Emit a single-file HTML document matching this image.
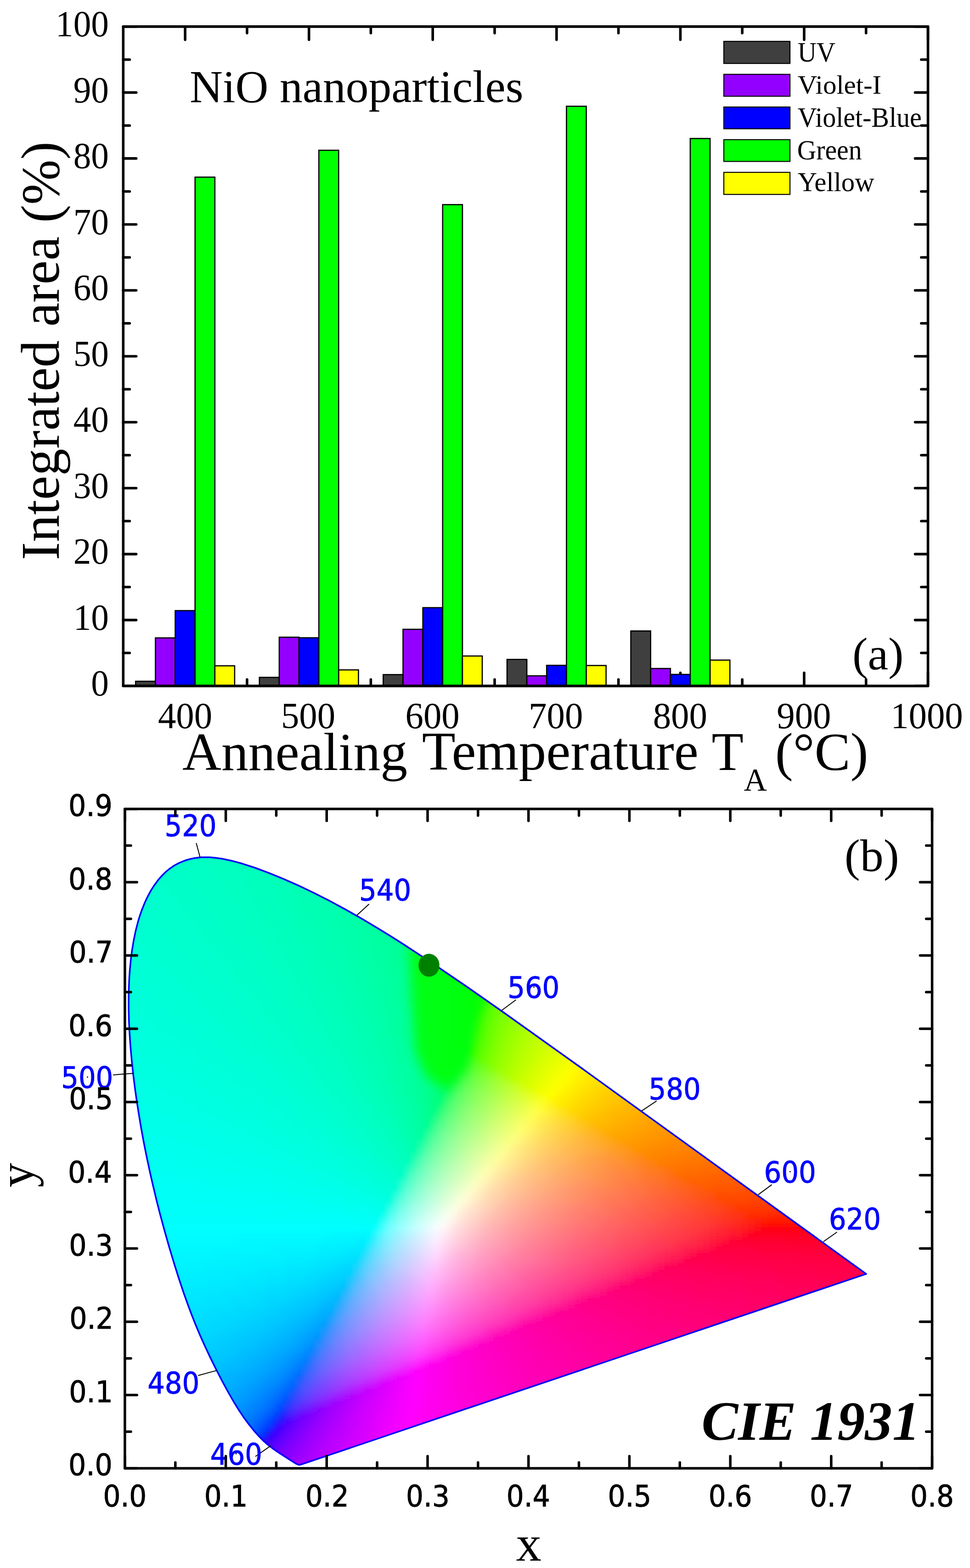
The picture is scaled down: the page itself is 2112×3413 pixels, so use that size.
<!DOCTYPE html>
<html><head><meta charset="utf-8"><title>NiO nanoparticles</title>
<style>html,body{margin:0;padding:0;background:#fff;}svg{display:block;}</style></head>
<body><svg width="2112" height="3413" viewBox="0 0 2112 3413">
<rect width="2112" height="3413" fill="#fff"/>
<path d="M403.1 1493.1V1464.6M403.1 57.9V86.4M672.7 1493.1V1464.6M672.7 57.9V86.4M942.2 1493.1V1464.6M942.2 57.9V86.4M1211.8 1493.1V1464.6M1211.8 57.9V86.4M1481.4 1493.1V1464.6M1481.4 57.9V86.4M1750.9 1493.1V1464.6M1750.9 57.9V86.4M2020.5 1493.1V1464.6M2020.5 57.9V86.4M537.9 1493.1V1479.1M537.9 57.9V71.9M807.4 1493.1V1479.1M807.4 57.9V71.9M1077 1493.1V1479.1M1077 57.9V71.9M1346.6 1493.1V1479.1M1346.6 57.9V71.9M1616.1 1493.1V1479.1M1616.1 57.9V71.9M1885.7 1493.1V1479.1M1885.7 57.9V71.9M268.3 1493.1H296.6M2020.5 1493.1H1992.5M268.3 1349.6H296.6M2020.5 1349.6H1992.5M268.3 1206.1H296.6M2020.5 1206.1H1992.5M268.3 1062.5H296.6M2020.5 1062.5H1992.5M268.3 919H296.6M2020.5 919H1992.5M268.3 775.5H296.6M2020.5 775.5H1992.5M268.3 632H296.6M2020.5 632H1992.5M268.3 488.5H296.6M2020.5 488.5H1992.5M268.3 344.9H296.6M2020.5 344.9H1992.5M268.3 201.4H296.6M2020.5 201.4H1992.5M268.3 57.9H296.6M2020.5 57.9H1992.5M268.3 1421.3H282.3M2020.5 1421.3H2005.9M268.3 1277.8H282.3M2020.5 1277.8H2005.9M268.3 1134.3H282.3M2020.5 1134.3H2005.9M268.3 990.8H282.3M2020.5 990.8H2005.9M268.3 847.3H282.3M2020.5 847.3H2005.9M268.3 703.7H282.3M2020.5 703.7H2005.9M268.3 560.2H282.3M2020.5 560.2H2005.9M268.3 416.7H282.3M2020.5 416.7H2005.9M268.3 273.2H282.3M2020.5 273.2H2005.9M268.3 129.7H282.3M2020.5 129.7H2005.9" stroke="#000" stroke-width="5.6" stroke-linecap="round" fill="none"/>
<rect x="295.3" y="1482.9" width="43.1" height="10.2" fill="#3f3f3f" stroke="#000" stroke-width="2.6"/>
<rect x="338.4" y="1388.5" width="43.1" height="104.6" fill="#9400ff" stroke="#000" stroke-width="2.6"/>
<rect x="381.5" y="1329.1" width="43.1" height="164" fill="#0000ff" stroke="#000" stroke-width="2.6"/>
<rect x="424.7" y="385.6" width="43.1" height="1107.5" fill="#00ff00" stroke="#000" stroke-width="2.6"/>
<rect x="467.8" y="1449.2" width="43.1" height="43.9" fill="#ffff00" stroke="#000" stroke-width="2.6"/>
<rect x="564.8" y="1474.4" width="43.1" height="18.7" fill="#3f3f3f" stroke="#000" stroke-width="2.6"/>
<rect x="608" y="1387" width="43.1" height="106.1" fill="#9400ff" stroke="#000" stroke-width="2.6"/>
<rect x="651.1" y="1388.2" width="43.1" height="104.9" fill="#0000ff" stroke="#000" stroke-width="2.6"/>
<rect x="694.2" y="327.1" width="43.1" height="1166" fill="#00ff00" stroke="#000" stroke-width="2.6"/>
<rect x="737.4" y="1458.1" width="43.1" height="35" fill="#ffff00" stroke="#000" stroke-width="2.6"/>
<rect x="834.4" y="1468.4" width="43.1" height="24.7" fill="#3f3f3f" stroke="#000" stroke-width="2.6"/>
<rect x="877.5" y="1369.8" width="43.1" height="123.3" fill="#9400ff" stroke="#000" stroke-width="2.6"/>
<rect x="920.7" y="1322.7" width="43.1" height="170.4" fill="#0000ff" stroke="#000" stroke-width="2.6"/>
<rect x="963.8" y="445.4" width="43.1" height="1047.7" fill="#00ff00" stroke="#000" stroke-width="2.6"/>
<rect x="1006.9" y="1427.9" width="43.1" height="65.2" fill="#ffff00" stroke="#000" stroke-width="2.6"/>
<rect x="1104" y="1435.3" width="43.1" height="57.8" fill="#3f3f3f" stroke="#000" stroke-width="2.6"/>
<rect x="1147.1" y="1471" width="43.1" height="22.1" fill="#9400ff" stroke="#000" stroke-width="2.6"/>
<rect x="1190.2" y="1448.2" width="43.1" height="44.9" fill="#0000ff" stroke="#000" stroke-width="2.6"/>
<rect x="1233.4" y="231.3" width="43.1" height="1261.8" fill="#00ff00" stroke="#000" stroke-width="2.6"/>
<rect x="1276.5" y="1448.6" width="43.1" height="44.5" fill="#ffff00" stroke="#000" stroke-width="2.6"/>
<rect x="1373.5" y="1373.4" width="43.1" height="119.7" fill="#3f3f3f" stroke="#000" stroke-width="2.6"/>
<rect x="1416.7" y="1455.1" width="43.1" height="38" fill="#9400ff" stroke="#000" stroke-width="2.6"/>
<rect x="1459.8" y="1468" width="43.1" height="25.1" fill="#0000ff" stroke="#000" stroke-width="2.6"/>
<rect x="1502.9" y="301.5" width="43.1" height="1191.6" fill="#00ff00" stroke="#000" stroke-width="2.6"/>
<rect x="1546.1" y="1436.8" width="43.1" height="56.3" fill="#ffff00" stroke="#000" stroke-width="2.6"/>
<rect x="268.3" y="57.9" width="1752.2" height="1435.2" fill="none" stroke="#000" stroke-width="5.6" stroke-linejoin="round"/>
<rect x="1576" y="90" width="144" height="48.1" fill="#3f3f3f" stroke="#000" stroke-width="2.2"/>
<rect x="1576" y="161.8" width="144" height="47.7" fill="#9400ff" stroke="#000" stroke-width="2.2"/>
<rect x="1576" y="232.9" width="144" height="47.4" fill="#0000ff" stroke="#000" stroke-width="2.2"/>
<rect x="1576" y="304" width="144" height="47.4" fill="#00ff00" stroke="#000" stroke-width="2.2"/>
<rect x="1576" y="375.1" width="144" height="48.1" fill="#ffff00" stroke="#000" stroke-width="2.2"/>
<defs><clipPath id="lc"><path d="M654.4 3188 652.5 3188.4 649.7 3188.3 644.5 3185.9 608.9 3163.3 595.5 3154.1 583.1 3144.6 573.8 3136.4 564 3126.6 552.8 3114 541.7 3100.1 531.1 3085.7 519.6 3068.7 509.1 3051.6 497.8 3032 485.6 3009.7 472.5 2984.4 458.3 2955.9 445.9 2929.6 435.7 2906.8 425.4 2882.3 417.7 2862.8 410 2842.4 399.7 2813.6 389.5 2783.1 379.3 2750.8 369.1 2716.9 359 2681.4 349 2644.6 341.7 2616.1 332.4 2577.4 325.7 2547.8 319.3 2517.9 313.3 2487.8 307.7 2457.6 302.6 2427.3 297.8 2397.1 293.6 2367.1 289.9 2337.4 286.8 2308.1 284.2 2279.2 282.2 2250.9 280.8 2223 280.1 2195.8 280.1 2169.2 280.5 2151.8 281.6 2126.4 282.8 2109.9 285.2 2085.8 287.2 2070.3 290.9 2047.8 295.3 2026.4 300.5 2006.2 304.4 1993.3 308.7 1981 315.7 1963.7 320.8 1952.8 329 1937.7 334.9 1928.4 344.1 1915.7 354 1904.5 360.8 1897.9 367.9 1892 378.9 1884.3 390.4 1878.1 402.2 1873.3 414.3 1869.7 422.6 1868 430.9 1866.8 439.4 1866.1 447.9 1865.9 456.5 1866.1 465.2 1866.7 482.7 1869 504.9 1873.7 527.3 1879.8 554.2 1888.5 585.4 1900.1 616.1 1912.7 650.2 1927.7 683.4 1943.5 716 1960 752.3 1979.6 788.3 2000.1 824.2 2021.4 851.9 2038.5 879.5 2056 942.4 2097.2 1016.9 2148 1099.4 2205.7 1274.5 2330.8 1886 2772.9Z"/></clipPath><filter id="bl" filterUnits="userSpaceOnUse" x="200" y="1700" width="1800" height="1550"><feGaussianBlur stdDeviation="7"/></filter><filter id="bl2" filterUnits="userSpaceOnUse" x="800" y="1950" width="400" height="550"><feGaussianBlur stdDeviation="12"/></filter></defs>
<g clip-path="url(#lc)"><g filter="url(#bl)"><path fill="#00ffc4" d="M397 1840h42v14h-42zM383 1854h70v14h-70zM383 1868h70v14h-70zM397 1882h70v14h-70zM411 1896h56v14h-56zM411 1910h70v14h-70zM425 1924h70v14h-70zM439 1938h56v14h-56zM453 1952h56v14h-56zM453 1966h70v14h-70zM467 1980h56v14h-56zM481 1994h56v14h-56zM481 2008h56v14h-56zM495 2022h56v14h-56zM509 2036h56v14h-56zM523 2050h42v14h-42zM523 2064h56v14h-56zM537 2078h56v14h-56zM551 2092h42v14h-42zM565 2106h42v14h-42zM565 2120h56v14h-56zM579 2134h42v14h-42zM593 2148h42v14h-42zM593 2162h42v14h-42zM607 2176h42v14h-42zM621 2190h42v14h-42zM635 2204h28v14h-28zM635 2218h42v14h-42zM649 2232h42v14h-42zM663 2246h28v14h-28zM663 2260h42v14h-42zM677 2274h28v14h-28zM691 2288h28v14h-28zM705 2302h28v14h-28zM705 2316h28v14h-28zM719 2330h28v14h-28zM733 2344h28v14h-28zM733 2358h28v14h-28zM747 2372h28v14h-28zM761 2386h28v14h-28zM775 2400h14v14h-14zM775 2414h28v14h-28zM789 2428h14v14h-14zM803 2442h14v14h-14zM803 2456h28v14h-28zM817 2470h14v14h-14zM831 2484h14v14h-14zM845 2498h14v14h-14zM845 2512h14v14h-14zM859 2526h14v14h-14zM873 2540h14v14h-14zM873 2554h14v14h-14z"/><path fill="#00ffc0" d="M439 1840h56v14h-56zM453 1854h56v14h-56zM453 1868h56v14h-56zM467 1882h56v14h-56zM467 1896h70v14h-70zM481 1910h56v14h-56zM495 1924h56v14h-56zM495 1938h56v14h-56zM509 1952h56v14h-56zM523 1966h42v14h-42zM523 1980h56v14h-56zM537 1994h42v14h-42zM537 2008h56v14h-56zM551 2022h56v14h-56zM565 2036h42v14h-42zM565 2050h56v14h-56zM579 2064h42v14h-42zM593 2078h42v14h-42zM593 2092h42v14h-42zM607 2106h42v14h-42zM621 2120h28v14h-28zM621 2134h42v14h-42zM635 2148h42v14h-42zM635 2162h42v14h-42zM649 2176h42v14h-42zM663 2190h28v14h-28zM663 2204h42v14h-42zM677 2218h28v14h-28zM691 2232h28v14h-28zM691 2246h28v14h-28zM705 2260h28v14h-28zM705 2274h42v14h-42zM719 2288h28v14h-28zM733 2302h28v14h-28zM733 2316h28v14h-28zM747 2330h28v14h-28zM761 2344h14v14h-14zM761 2358h28v14h-28zM775 2372h14v14h-14zM789 2386h14v14h-14zM789 2400h28v14h-28zM803 2414h14v14h-14zM803 2428h28v14h-28zM817 2442h14v14h-14zM831 2456h14v14h-14zM831 2470h14v14h-14zM845 2484h14v14h-14zM859 2498h14v14h-14zM859 2512h14v14h-14zM873 2526h14v14h-14z"/><path fill="#00ffbc" d="M495 1840h14v14h-14zM509 1854h42v14h-42zM509 1868h56v14h-56zM523 1882h56v14h-56zM537 1896h42v14h-42zM537 1910h56v14h-56zM551 1924h42v14h-42zM551 1938h56v14h-56zM565 1952h42v14h-42zM565 1966h56v14h-56zM579 1980h42v14h-42zM579 1994h56v14h-56zM593 2008h42v14h-42zM607 2022h42v14h-42zM607 2036h42v14h-42zM621 2050h42v14h-42zM621 2064h42v14h-42zM635 2078h42v14h-42zM635 2092h42v14h-42zM649 2106h28v14h-28zM649 2120h42v14h-42zM663 2134h28v14h-28zM677 2148h28v14h-28zM677 2162h28v14h-28zM691 2176h28v14h-28zM691 2190h28v14h-28zM705 2204h28v14h-28zM705 2218h28v14h-28zM719 2232h28v14h-28zM719 2246h28v14h-28zM733 2260h28v14h-28zM747 2274h14v14h-14zM747 2288h28v14h-28zM761 2302h14v14h-14zM761 2316h28v14h-28zM775 2330h14v14h-14zM775 2344h28v14h-28zM789 2358h14v14h-14zM789 2372h28v14h-28zM803 2386h14v14h-14zM817 2400h14v14h-14zM817 2414h14v14h-14zM831 2428h14v14h-14zM831 2442h14v14h-14zM845 2456h14v14h-14zM845 2470h14v14h-14zM859 2484h14v14h-14zM873 2512h14v14h-14z"/><path fill="#00ffc8" d="M369 1854h14v14h-14zM355 1868h28v14h-28zM341 1882h56v14h-56zM327 1896h84v14h-84zM341 1910h70v14h-70zM355 1924h70v14h-70zM369 1938h70v14h-70zM383 1952h70v14h-70zM383 1966h70v14h-70zM397 1980h70v14h-70zM411 1994h70v14h-70zM425 2008h56v14h-56zM439 2022h56v14h-56zM439 2036h70v14h-70zM453 2050h70v14h-70zM467 2064h56v14h-56zM481 2078h56v14h-56zM495 2092h56v14h-56zM509 2106h56v14h-56zM509 2120h56v14h-56zM523 2134h56v14h-56zM537 2148h56v14h-56zM551 2162h42v14h-42zM565 2176h42v14h-42zM565 2190h56v14h-56zM579 2204h56v14h-56zM593 2218h42v14h-42zM607 2232h42v14h-42zM621 2246h42v14h-42zM635 2260h28v14h-28zM635 2274h42v14h-42zM649 2288h42v14h-42zM663 2302h42v14h-42zM677 2316h28v14h-28zM691 2330h28v14h-28zM691 2344h42v14h-42zM705 2358h28v14h-28zM719 2372h28v14h-28zM733 2386h28v14h-28zM747 2400h28v14h-28zM761 2414h14v14h-14zM761 2428h28v14h-28zM775 2442h28v14h-28zM789 2456h14v14h-14zM803 2470h14v14h-14zM817 2484h14v14h-14zM817 2498h28v14h-28zM831 2512h14v14h-14zM845 2526h14v14h-14zM859 2540h14v14h-14z"/><path fill="#00ffb8" d="M565 1868h28v14h-28zM579 1882h42v14h-42zM579 1896h42v14h-42zM593 1910h42v14h-42zM593 1924h42v14h-42zM607 1938h42v14h-42zM607 1952h42v14h-42zM621 1966h28v14h-28zM621 1980h42v14h-42zM635 1994h28v14h-28zM635 2008h42v14h-42zM649 2022h28v14h-28zM649 2036h42v14h-42zM663 2050h28v14h-28zM663 2064h28v14h-28zM677 2078h28v14h-28zM677 2092h28v14h-28zM677 2106h42v14h-42zM691 2120h28v14h-28zM691 2134h42v14h-42zM705 2148h28v14h-28zM705 2162h42v14h-42zM719 2176h28v14h-28zM719 2190h28v14h-28zM733 2204h28v14h-28zM733 2218h28v14h-28zM747 2232h28v14h-28zM747 2246h28v14h-28zM761 2260h28v14h-28zM761 2274h28v14h-28zM775 2288h14v14h-14zM775 2302h28v14h-28zM789 2316h14v14h-14zM789 2330h28v14h-28zM803 2344h14v14h-14zM803 2358h28v14h-28zM817 2372h14v14h-14zM817 2386h14v14h-14zM831 2400h14v14h-14zM831 2414h14v14h-14zM845 2428h14v14h-14zM845 2442h14v14h-14zM859 2456h14v14h-14zM859 2470h14v14h-14zM873 2484h14v14h-14zM873 2498h14v14h-14zM887 2526h14v14h-14z"/><path fill="#00ffb4" d="M621 1896h42v14h-42zM635 1910h42v14h-42zM635 1924h42v14h-42zM649 1938h28v14h-28zM649 1952h42v14h-42zM649 1966h42v14h-42zM663 1980h28v14h-28zM663 1994h42v14h-42zM677 2008h28v14h-28zM677 2022h42v14h-42zM691 2036h28v14h-28zM691 2050h28v14h-28zM691 2064h42v14h-42zM705 2078h28v14h-28zM705 2092h28v14h-28zM719 2106h28v14h-28zM719 2120h28v14h-28zM733 2134h28v14h-28zM733 2148h28v14h-28zM747 2162h14v14h-14zM747 2176h28v14h-28zM747 2190h28v14h-28zM761 2204h28v14h-28zM761 2218h28v14h-28zM775 2232h14v14h-14zM775 2246h28v14h-28zM789 2260h14v14h-14zM789 2274h14v14h-14zM789 2288h28v14h-28zM803 2302h14v14h-14zM803 2316h28v14h-28zM817 2330h14v14h-14zM817 2344h14v14h-14zM831 2358h14v14h-14zM831 2372h14v14h-14zM831 2386h28v14h-28zM845 2400h14v14h-14zM845 2414h14v14h-14zM859 2428h14v14h-14zM859 2442h14v14h-14zM873 2470h14v14h-14zM887 2498h14v14h-14zM887 2512h14v14h-14z"/><path fill="#00ffcc" d="M313 1910h28v14h-28zM299 1924h56v14h-56zM299 1938h70v14h-70zM299 1952h84v14h-84zM313 1966h70v14h-70zM327 1980h70v14h-70zM341 1994h70v14h-70zM341 2008h84v14h-84zM355 2022h84v14h-84zM369 2036h70v14h-70zM383 2050h70v14h-70zM397 2064h70v14h-70zM411 2078h70v14h-70zM425 2092h70v14h-70zM439 2106h70v14h-70zM453 2120h56v14h-56zM467 2134h56v14h-56zM481 2148h56v14h-56zM495 2162h56v14h-56zM509 2176h56v14h-56zM523 2190h42v14h-42zM537 2204h42v14h-42zM537 2218h56v14h-56zM551 2232h56v14h-56zM565 2246h56v14h-56zM579 2260h56v14h-56zM593 2274h42v14h-42zM607 2288h42v14h-42zM621 2302h42v14h-42zM635 2316h42v14h-42zM649 2330h42v14h-42zM663 2344h28v14h-28zM677 2358h28v14h-28zM691 2372h28v14h-28zM705 2386h28v14h-28zM719 2400h28v14h-28zM719 2414h42v14h-42zM733 2428h28v14h-28zM747 2442h28v14h-28zM761 2456h28v14h-28zM775 2470h28v14h-28zM789 2484h28v14h-28zM803 2498h14v14h-14zM817 2512h14v14h-14zM831 2526h14v14h-14zM845 2540h14v14h-14zM859 2554h14v14h-14z"/><path fill="#00ffb0" d="M677 1910h14v14h-14zM677 1924h28v14h-28zM677 1938h42v14h-42zM691 1952h28v14h-28zM691 1966h28v14h-28zM691 1980h42v14h-42zM705 1994h28v14h-28zM705 2008h28v14h-28zM719 2022h28v14h-28zM719 2036h28v14h-28zM719 2050h28v14h-28zM733 2064h28v14h-28zM733 2078h28v14h-28zM733 2092h28v14h-28zM747 2106h28v14h-28zM747 2120h28v14h-28zM761 2134h14v14h-14zM761 2148h28v14h-28zM761 2162h28v14h-28zM775 2176h14v14h-14zM775 2190h28v14h-28zM789 2204h14v14h-14zM789 2218h14v14h-14zM789 2232h28v14h-28zM803 2246h14v14h-14zM803 2260h14v14h-14zM803 2274h28v14h-28zM817 2288h14v14h-14zM817 2302h14v14h-14zM831 2316h14v14h-14zM831 2330h14v14h-14zM831 2344h14v14h-14zM845 2358h14v14h-14zM845 2372h14v14h-14zM859 2400h14v14h-14zM859 2414h14v14h-14zM873 2442h14v14h-14zM873 2456h14v14h-14zM887 2484h14v14h-14z"/><path fill="#00ffac" d="M705 1924h14v14h-14zM719 1938h28v14h-28zM719 1952h28v14h-28zM719 1966h28v14h-28zM733 1980h28v14h-28zM733 1994h28v14h-28zM733 2008h28v14h-28zM747 2022h28v14h-28zM747 2036h28v14h-28zM747 2050h28v14h-28zM761 2064h14v14h-14zM761 2078h28v14h-28zM761 2092h28v14h-28zM775 2106h14v14h-14zM775 2120h28v14h-28zM775 2134h28v14h-28zM789 2148h14v14h-14zM789 2162h28v14h-28zM789 2176h28v14h-28zM803 2190h14v14h-14zM803 2204h14v14h-14zM803 2218h28v14h-28zM817 2232h14v14h-14zM817 2246h14v14h-14zM817 2260h28v14h-28zM831 2274h14v14h-14zM831 2288h14v14h-14zM831 2302h28v14h-28zM845 2316h14v14h-14zM845 2330h14v14h-14zM845 2344h14v14h-14zM859 2358h14v14h-14zM859 2372h14v14h-14zM859 2386h14v14h-14zM873 2400h14v14h-14zM873 2414h14v14h-14zM873 2428h14v14h-14zM887 2456h14v14h-14zM887 2470h14v14h-14zM901 2498h14v14h-14z"/><path fill="#00ffd0" d="M285 1952h14v14h-14zM285 1966h28v14h-28zM271 1980h56v14h-56zM271 1994h70v14h-70zM271 2008h70v14h-70zM271 2022h84v14h-84zM285 2036h84v14h-84zM299 2050h84v14h-84zM313 2064h84v14h-84zM327 2078h84v14h-84zM341 2092h84v14h-84zM369 2106h70v14h-70zM383 2120h70v14h-70zM397 2134h70v14h-70zM411 2148h70v14h-70zM425 2162h70v14h-70zM439 2176h70v14h-70zM453 2190h70v14h-70zM467 2204h70v14h-70zM481 2218h56v14h-56zM495 2232h56v14h-56zM509 2246h56v14h-56zM523 2260h56v14h-56zM537 2274h56v14h-56zM551 2288h56v14h-56zM579 2302h42v14h-42zM593 2316h42v14h-42zM607 2330h42v14h-42zM621 2344h42v14h-42zM635 2358h42v14h-42zM649 2372h42v14h-42zM663 2386h42v14h-42zM677 2400h42v14h-42zM691 2414h28v14h-28zM705 2428h28v14h-28zM719 2442h28v14h-28zM733 2456h28v14h-28zM747 2470h28v14h-28zM761 2484h28v14h-28zM775 2498h28v14h-28zM803 2512h14v14h-14zM817 2526h14v14h-14zM831 2540h14v14h-14zM845 2554h14v14h-14zM859 2568h14v14h-14z"/><path fill="#00ffa8" d="M747 1952h14v14h-14zM747 1966h28v14h-28zM761 1980h28v14h-28zM761 1994h28v14h-28zM761 2008h28v14h-28zM775 2022h14v14h-14zM775 2036h28v14h-28zM775 2050h28v14h-28zM775 2064h28v14h-28zM789 2078h14v14h-14zM789 2092h28v14h-28zM789 2106h28v14h-28zM803 2120h14v14h-14zM803 2134h14v14h-14zM803 2148h28v14h-28zM817 2162h14v14h-14zM817 2176h14v14h-14zM817 2190h14v14h-14zM817 2204h28v14h-28zM831 2218h14v14h-14zM831 2232h14v14h-14zM831 2246h14v14h-14zM845 2260h14v14h-14zM845 2274h14v14h-14zM845 2288h14v14h-14zM859 2316h14v14h-14zM859 2330h14v14h-14zM859 2344h14v14h-14zM873 2358h14v14h-14zM873 2372h14v14h-14zM873 2386h14v14h-14zM887 2414h14v14h-14zM887 2428h14v14h-14zM887 2442h14v14h-14zM901 2470h14v14h-14zM901 2484h14v14h-14z"/><path fill="#00ffa4" d="M775 1966h14v14h-14zM789 1980h14v14h-14zM789 1994h14v14h-14zM789 2008h28v14h-28zM789 2022h28v14h-28zM803 2036h14v14h-14zM803 2050h14v14h-14zM803 2064h28v14h-28zM803 2078h28v14h-28zM817 2092h14v14h-14zM817 2106h14v14h-14zM817 2120h14v14h-14zM817 2134h28v14h-28zM831 2148h14v14h-14zM831 2162h14v14h-14zM831 2176h14v14h-14zM831 2190h28v14h-28zM845 2204h14v14h-14zM845 2218h14v14h-14zM845 2232h14v14h-14zM845 2246h14v14h-14zM859 2260h14v14h-14zM859 2274h14v14h-14zM859 2288h14v14h-14zM859 2302h14v14h-14zM873 2316h14v14h-14zM873 2330h14v14h-14zM873 2344h14v14h-14zM887 2386h14v14h-14zM887 2400h14v14h-14zM901 2442h14v14h-14zM901 2456h14v14h-14z"/><path fill="#00ffa0" d="M803 1980h14v14h-14zM803 1994h28v14h-28zM817 2008h14v14h-14zM817 2022h14v14h-14zM817 2036h28v14h-28zM817 2050h28v14h-28zM831 2064h14v14h-14zM831 2078h14v14h-14zM831 2092h14v14h-14zM831 2106h14v14h-14zM831 2120h28v14h-28zM845 2134h14v14h-14zM845 2148h14v14h-14zM845 2162h14v14h-14zM845 2176h14v14h-14zM859 2190h14v14h-14zM859 2204h14v14h-14zM859 2218h14v14h-14zM859 2232h14v14h-14zM859 2246h14v14h-14zM873 2260h14v14h-14zM873 2274h14v14h-14zM873 2288h14v14h-14zM873 2302h14v14h-14zM887 2330h14v14h-14zM887 2344h14v14h-14zM887 2358h14v14h-14zM887 2372h14v14h-14zM901 2400h14v14h-14zM901 2414h14v14h-14zM901 2428h14v14h-14z"/><path fill="#00ff9c" d="M831 2008h14v14h-14zM831 2022h28v14h-28zM845 2036h14v14h-14zM845 2050h14v14h-14zM845 2064h14v14h-14zM845 2078h14v14h-14zM845 2092h14v14h-14zM845 2106h28v14h-28zM859 2120h14v14h-14zM859 2134h14v14h-14zM859 2148h14v14h-14zM859 2162h14v14h-14zM859 2176h14v14h-14zM873 2190h14v14h-14zM873 2204h14v14h-14zM873 2218h14v14h-14zM873 2232h14v14h-14zM873 2246h14v14h-14zM887 2274h14v14h-14zM887 2288h14v14h-14zM887 2302h14v14h-14zM887 2316h14v14h-14zM901 2358h14v14h-14zM901 2372h14v14h-14zM901 2386h14v14h-14zM915 2442h14v14h-14zM915 2456h14v14h-14zM915 2470h14v14h-14z"/><path fill="#00ff98" d="M845 2008h14v14h-14zM859 2022h14v14h-14zM859 2036h14v14h-14zM859 2050h14v14h-14zM859 2064h14v14h-14zM859 2078h14v14h-14zM859 2092h28v14h-28zM873 2106h14v14h-14zM873 2120h14v14h-14zM873 2134h14v14h-14zM873 2148h14v14h-14zM873 2162h14v14h-14zM873 2176h14v14h-14zM887 2204h14v14h-14zM887 2218h14v14h-14zM887 2232h14v14h-14zM887 2246h14v14h-14zM887 2260h14v14h-14zM901 2302h14v14h-14zM901 2316h14v14h-14zM901 2330h14v14h-14zM901 2344h14v14h-14zM915 2400h14v14h-14zM915 2414h14v14h-14zM915 2428h14v14h-14z"/><path fill="#00ff94" d="M873 2022h14v14h-14zM873 2036h14v14h-14zM873 2050h14v14h-14zM873 2064h14v14h-14zM873 2078h14v14h-14zM887 2092h14v14h-14zM887 2106h14v14h-14zM887 2120h14v14h-14zM887 2134h14v14h-14zM887 2148h14v14h-14zM887 2162h14v14h-14zM887 2176h14v14h-14zM887 2190h14v14h-14zM901 2218h14v14h-14zM901 2232h14v14h-14zM901 2246h14v14h-14zM901 2260h14v14h-14zM901 2274h14v14h-14zM901 2288h14v14h-14zM915 2344h14v14h-14zM915 2358h14v14h-14zM915 2372h14v14h-14zM915 2386h14v14h-14z"/><path fill="#00ffd4" d="M257 2036h28v14h-28zM257 2050h42v14h-42zM257 2064h56v14h-56zM257 2078h70v14h-70zM257 2092h84v14h-84zM271 2106h98v14h-98zM285 2120h98v14h-98zM313 2134h84v14h-84zM327 2148h84v14h-84zM341 2162h84v14h-84zM355 2176h84v14h-84zM369 2190h84v14h-84zM397 2204h70v14h-70zM411 2218h70v14h-70zM425 2232h70v14h-70zM439 2246h70v14h-70zM467 2260h56v14h-56zM481 2274h56v14h-56zM495 2288h56v14h-56zM509 2302h70v14h-70zM537 2316h56v14h-56zM551 2330h56v14h-56zM565 2344h56v14h-56zM579 2358h56v14h-56zM593 2372h56v14h-56zM621 2386h42v14h-42zM635 2400h42v14h-42zM649 2414h42v14h-42zM663 2428h42v14h-42zM691 2442h28v14h-28zM705 2456h28v14h-28zM719 2470h28v14h-28zM733 2484h28v14h-28zM761 2498h14v14h-14zM775 2512h28v14h-28zM789 2526h28v14h-28zM803 2540h28v14h-28zM817 2554h28v14h-28zM845 2568h14v14h-14zM859 2582h14v14h-14z"/><path fill="#00ff90" d="M887 2036h14v14h-14zM887 2050h14v14h-14zM887 2064h14v14h-14zM887 2078h14v14h-14zM901 2106h14v14h-14zM901 2120h14v14h-14zM901 2134h14v14h-14zM901 2148h14v14h-14zM901 2162h14v14h-14zM901 2176h14v14h-14zM901 2190h14v14h-14zM901 2204h14v14h-14zM915 2260h14v14h-14zM915 2274h14v14h-14zM915 2288h14v14h-14zM915 2302h14v14h-14zM915 2316h14v14h-14zM915 2330h14v14h-14zM929 2414h14v14h-14zM929 2428h14v14h-14zM929 2442h14v14h-14z"/><path fill="#00ff8c" d="M901 2050h14v14h-14zM901 2064h14v14h-14zM901 2078h14v14h-14zM901 2092h14v14h-14zM915 2148h14v14h-14zM915 2162h14v14h-14zM915 2176h14v14h-14zM915 2190h14v14h-14zM915 2204h14v14h-14zM915 2218h14v14h-14zM915 2232h14v14h-14zM915 2246h14v14h-14zM929 2344h14v14h-14zM929 2358h14v14h-14zM929 2372h14v14h-14zM929 2386h14v14h-14zM929 2400h14v14h-14z"/><path fill="#00ff88" d="M915 2050h14v14h-14zM915 2064h14v14h-14zM915 2078h14v14h-14zM915 2092h14v14h-14zM915 2106h14v14h-14zM915 2120h14v14h-14zM915 2134h14v14h-14zM929 2232h14v14h-14zM929 2246h14v14h-14zM929 2260h14v14h-14zM929 2274h14v14h-14zM929 2288h14v14h-14zM929 2302h14v14h-14zM929 2316h14v14h-14zM929 2330h14v14h-14z"/><path fill="#00ff84" d="M929 2064h14v14h-14zM929 2078h14v14h-14zM929 2092h14v14h-14zM929 2106h14v14h-14zM929 2120h14v14h-14zM929 2134h14v14h-14zM929 2148h14v14h-14zM929 2162h14v14h-14zM929 2176h14v14h-14zM929 2190h14v14h-14zM929 2204h14v14h-14zM929 2218h14v14h-14zM943 2414h14v14h-14z"/><path fill="#00ff7c" d="M943 2078h14v14h-14zM943 2092h14v14h-14zM943 2106h14v14h-14zM943 2120h14v14h-14zM943 2134h14v14h-14zM943 2148h14v14h-14zM943 2162h14v14h-14zM943 2176h14v14h-14z"/><path fill="#00ff78" d="M957 2078h14v14h-14zM957 2092h14v14h-14zM957 2106h14v14h-14zM957 2120h14v14h-14zM957 2134h14v14h-14zM957 2148h14v14h-14z"/><path fill="#00ff70" d="M971 2092h14v14h-14zM971 2106h14v14h-14z"/><path fill="#00ffd8" d="M257 2106h14v14h-14zM257 2120h28v14h-28zM257 2134h56v14h-56zM257 2148h70v14h-70zM257 2162h84v14h-84zM257 2176h98v14h-98zM285 2190h84v14h-84zM299 2204h98v14h-98zM327 2218h84v14h-84zM341 2232h84v14h-84zM355 2246h84v14h-84zM383 2260h84v14h-84zM397 2274h84v14h-84zM425 2288h70v14h-70zM439 2302h70v14h-70zM467 2316h70v14h-70zM481 2330h70v14h-70zM495 2344h70v14h-70zM523 2358h56v14h-56zM537 2372h56v14h-56zM565 2386h56v14h-56zM579 2400h56v14h-56zM607 2414h42v14h-42zM621 2428h42v14h-42zM635 2442h56v14h-56zM663 2456h42v14h-42zM677 2470h42v14h-42zM705 2484h28v14h-28zM719 2498h42v14h-42zM747 2512h28v14h-28zM761 2526h28v14h-28zM775 2540h28v14h-28zM803 2554h14v14h-14zM817 2568h28v14h-28zM845 2582h14v14h-14z"/><path fill="#00ff64" d="M985 2106h14v14h-14zM985 2120h14v14h-14zM985 2134h14v14h-14zM985 2148h14v14h-14zM971 2330h14v14h-14zM971 2344h14v14h-14zM971 2358h14v14h-14z"/><path fill="#00ff58" d="M999 2106h14v14h-14zM999 2120h14v14h-14zM999 2134h14v14h-14zM985 2274h14v14h-14zM985 2288h14v14h-14z"/><path fill="#00ff6c" d="M971 2120h14v14h-14zM971 2134h14v14h-14zM971 2148h14v14h-14zM971 2162h14v14h-14zM971 2176h14v14h-14zM971 2190h14v14h-14zM971 2204h14v14h-14zM971 2218h14v14h-14zM971 2232h14v14h-14zM971 2246h14v14h-14z"/><path fill="#00ff48" d="M1013 2120h14v14h-14zM1013 2134h14v14h-14zM999 2246h14v14h-14z"/><path fill="#00ff2c" d="M1027 2134h14v14h-14zM1013 2232h14v14h-14z"/><path fill="#00ff54" d="M999 2148h14v14h-14zM999 2162h14v14h-14zM999 2176h14v14h-14zM985 2302h14v14h-14zM985 2316h14v14h-14z"/><path fill="#00ff44" d="M1013 2148h14v14h-14zM999 2260h14v14h-14z"/><path fill="#00ff28" d="M1027 2148h14v14h-14z"/><path fill="#28ff00" d="M1041 2148h14v14h-14zM1027 2232h14v14h-14z"/><path fill="#44ff00" d="M1055 2148h14v14h-14zM1041 2218h14v14h-14zM1027 2288h14v14h-14z"/><path fill="#00ff74" d="M957 2162h14v14h-14zM957 2176h14v14h-14zM957 2190h14v14h-14zM957 2204h14v14h-14zM957 2218h14v14h-14zM957 2232h14v14h-14zM957 2246h14v14h-14zM957 2260h14v14h-14zM957 2274h14v14h-14zM957 2288h14v14h-14zM957 2302h14v14h-14zM957 2316h14v14h-14zM957 2330h14v14h-14zM957 2344h14v14h-14zM957 2358h14v14h-14zM957 2372h14v14h-14zM957 2386h14v14h-14z"/><path fill="#00ff60" d="M985 2162h14v14h-14zM985 2176h14v14h-14zM985 2190h14v14h-14zM985 2204h14v14h-14zM985 2218h14v14h-14z"/><path fill="#00ff40" d="M1013 2162h14v14h-14zM1013 2176h14v14h-14zM999 2274h14v14h-14zM999 2288h14v14h-14z"/><path fill="#00ff20" d="M1027 2162h14v14h-14z"/><path fill="#2cff00" d="M1041 2162h14v14h-14z"/><path fill="#48ff00" d="M1055 2162h14v14h-14z"/><path fill="#5cff00" d="M1069 2162h14v14h-14zM1055 2218h14v14h-14z"/><path fill="#00ff18" d="M1027 2176h14v14h-14z"/><path fill="#34ff00" d="M1041 2176h14v14h-14z"/><path fill="#50ff00" d="M1055 2176h14v14h-14zM1041 2246h14v14h-14z"/><path fill="#60ff00" d="M1069 2176h14v14h-14zM1055 2232h14v14h-14zM1041 2288h14v14h-14z"/><path fill="#70ff00" d="M1083 2176h14v14h-14zM1069 2232h14v14h-14z"/><path fill="#7cff00" d="M1097 2176h14v14h-14zM1083 2218h14v14h-14zM1069 2274h14v14h-14z"/><path fill="#00ffdc" d="M257 2190h28v14h-28zM257 2204h42v14h-42zM257 2218h70v14h-70zM257 2232h84v14h-84zM257 2246h98v14h-98zM285 2260h98v14h-98zM299 2274h98v14h-98zM327 2288h98v14h-98zM355 2302h84v14h-84zM369 2316h98v14h-98zM397 2330h84v14h-84zM425 2344h70v14h-70zM439 2358h84v14h-84zM467 2372h70v14h-70zM495 2386h70v14h-70zM509 2400h70v14h-70zM537 2414h70v14h-70zM565 2428h56v14h-56zM579 2442h56v14h-56zM607 2456h56v14h-56zM635 2470h42v14h-42zM663 2484h42v14h-42zM677 2498h42v14h-42zM705 2512h42v14h-42zM733 2526h28v14h-28zM747 2540h28v14h-28zM775 2554h28v14h-28zM803 2568h14v14h-14zM817 2582h28v14h-28zM845 2596h14v14h-14z"/><path fill="#00ff80" d="M943 2190h14v14h-14zM943 2204h14v14h-14zM943 2218h14v14h-14zM943 2232h14v14h-14zM943 2246h14v14h-14zM943 2260h14v14h-14zM943 2274h14v14h-14zM943 2288h14v14h-14zM943 2302h14v14h-14zM943 2316h14v14h-14zM943 2330h14v14h-14zM943 2344h14v14h-14zM943 2358h14v14h-14zM943 2372h14v14h-14zM943 2386h14v14h-14zM943 2400h14v14h-14z"/><path fill="#00ff50" d="M999 2190h14v14h-14zM999 2204h14v14h-14zM985 2330h14v14h-14z"/><path fill="#00ff3c" d="M1013 2190h14v14h-14z"/><path fill="#00ff04" d="M1027 2190h14v14h-14z"/><path fill="#38ff00" d="M1041 2190h14v14h-14zM1027 2260h14v14h-14z"/><path fill="#54ff00" d="M1055 2190h14v14h-14zM1041 2260h14v14h-14z"/><path fill="#64ff00" d="M1069 2190h14v14h-14zM1055 2246h14v14h-14zM1041 2302h14v14h-14z"/><path fill="#74ff00" d="M1083 2190h14v14h-14zM1069 2246h14v14h-14zM1055 2288h14v14h-14z"/><path fill="#80ff00" d="M1097 2190h14v14h-14zM1083 2232h14v14h-14z"/><path fill="#8cff00" d="M1111 2190h14v14h-14zM1097 2232h14v14h-14zM1083 2274h14v14h-14zM1069 2316h14v14h-14z"/><path fill="#00ff38" d="M1013 2204h14v14h-14zM999 2302h14v14h-14z"/><path fill="#10ff00" d="M1027 2204h14v14h-14zM1013 2288h14v14h-14z"/><path fill="#40ff00" d="M1041 2204h14v14h-14zM1027 2274h14v14h-14z"/><path fill="#58ff00" d="M1055 2204h14v14h-14zM1041 2274h14v14h-14z"/><path fill="#68ff00" d="M1069 2204h14v14h-14zM1055 2260h14v14h-14z"/><path fill="#78ff00" d="M1083 2204h14v14h-14zM1069 2260h14v14h-14zM1055 2302h14v14h-14z"/><path fill="#84ff00" d="M1097 2204h14v14h-14zM1083 2246h14v14h-14zM1069 2288h14v14h-14z"/><path fill="#90ff00" d="M1111 2204h14v14h-14zM1097 2246h14v14h-14zM1083 2288h14v14h-14z"/><path fill="#98ff00" d="M1125 2204h14v14h-14zM1111 2232h14v14h-14zM1097 2274h14v14h-14zM1083 2316h14v14h-14z"/><path fill="#a4ff00" d="M1139 2204h14v14h-14zM1125 2246h14v14h-14zM1111 2274h14v14h-14zM1097 2316h14v14h-14z"/><path fill="#00ff4c" d="M999 2218h14v14h-14zM999 2232h14v14h-14z"/><path fill="#00ff34" d="M1013 2218h14v14h-14z"/><path fill="#20ff00" d="M1027 2218h14v14h-14z"/><path fill="#6cff00" d="M1069 2218h14v14h-14zM1055 2274h14v14h-14z"/><path fill="#88ff00" d="M1097 2218h14v14h-14zM1083 2260h14v14h-14zM1069 2302h14v14h-14z"/><path fill="#94ff00" d="M1111 2218h14v14h-14zM1097 2260h14v14h-14zM1083 2302h14v14h-14z"/><path fill="#9cff00" d="M1125 2218h14v14h-14zM1111 2246h14v14h-14zM1097 2288h14v14h-14z"/><path fill="#a8ff00" d="M1139 2218h14v14h-14zM1125 2260h14v14h-14zM1111 2288h14v14h-14z"/><path fill="#b0ff00" d="M1153 2218h14v14h-14zM1139 2246h14v14h-14zM1111 2316h14v14h-14z"/><path fill="#00ff5c" d="M985 2232h14v14h-14zM985 2246h14v14h-14zM985 2260h14v14h-14z"/><path fill="#4cff00" d="M1041 2232h14v14h-14z"/><path fill="#a0ff00" d="M1125 2232h14v14h-14zM1111 2260h14v14h-14zM1097 2302h14v14h-14z"/><path fill="#acff00" d="M1139 2232h14v14h-14zM1125 2274h14v14h-14zM1111 2302h14v14h-14zM1097 2330h14v14h-14z"/><path fill="#b4ff00" d="M1153 2232h14v14h-14zM1139 2260h14v14h-14zM1125 2288h14v14h-14z"/><path fill="#bcff00" d="M1167 2232h14v14h-14zM1153 2260h14v14h-14zM1139 2288h14v14h-14zM1125 2316h14v14h-14zM1111 2344h14v14h-14z"/><path fill="#00ff24" d="M1013 2246h14v14h-14z"/><path fill="#30ff00" d="M1027 2246h14v14h-14z"/><path fill="#b8ff00" d="M1153 2246h14v14h-14zM1139 2274h14v14h-14zM1125 2302h14v14h-14zM1111 2330h14v14h-14z"/><path fill="#c0ff00" d="M1167 2246h14v14h-14zM1153 2274h14v14h-14zM1139 2302h14v14h-14zM1125 2330h14v14h-14z"/><path fill="#c8ff00" d="M1181 2246h14v14h-14zM1167 2274h14v14h-14zM1153 2302h14v14h-14zM1125 2344h14v14h-14z"/><path fill="#d0ff00" d="M1195 2246h14v14h-14zM1181 2274h14v14h-14zM1167 2302h14v14h-14zM1153 2316h14v14h-14zM1139 2344h14v14h-14z"/><path fill="#00ffe0" d="M257 2260h28v14h-28zM257 2274h42v14h-42zM257 2288h70v14h-70zM257 2302h98v14h-98zM271 2316h98v14h-98zM299 2330h98v14h-98zM327 2344h98v14h-98zM341 2358h98v14h-98zM369 2372h98v14h-98zM397 2386h98v14h-98zM425 2400h84v14h-84zM453 2414h84v14h-84zM481 2428h84v14h-84zM509 2442h70v14h-70zM537 2456h70v14h-70zM565 2470h70v14h-70zM593 2484h70v14h-70zM621 2498h56v14h-56zM649 2512h56v14h-56zM677 2526h56v14h-56zM705 2540h42v14h-42zM733 2554h42v14h-42zM761 2568h42v14h-42zM789 2582h28v14h-28zM817 2596h28v14h-28zM845 2610h14v14h-14z"/><path fill="#00ff68" d="M971 2260h14v14h-14zM971 2274h14v14h-14zM971 2288h14v14h-14zM971 2302h14v14h-14zM971 2316h14v14h-14z"/><path fill="#00ff1c" d="M1013 2260h14v14h-14z"/><path fill="#c4ff00" d="M1167 2260h14v14h-14zM1153 2288h14v14h-14zM1139 2316h14v14h-14z"/><path fill="#ccff00" d="M1181 2260h14v14h-14zM1167 2288h14v14h-14zM1139 2330h14v14h-14z"/><path fill="#d4ff00" d="M1195 2260h14v14h-14zM1181 2288h14v14h-14zM1153 2330h14v14h-14zM1139 2358h14v14h-14z"/><path fill="#dcff00" d="M1209 2260h14v14h-14zM1195 2288h14v14h-14zM1181 2302h14v14h-14zM1167 2330h14v14h-14z"/><path fill="#00ff0c" d="M1013 2274h14v14h-14z"/><path fill="#d8ff00" d="M1195 2274h14v14h-14zM1167 2316h14v14h-14zM1153 2344h14v14h-14z"/><path fill="#e0ff00" d="M1209 2274h14v14h-14zM1195 2302h14v14h-14zM1181 2316h14v14h-14zM1167 2344h14v14h-14zM1153 2358h14v14h-14z"/><path fill="#e8ff00" d="M1223 2274h14v14h-14zM1209 2302h14v14h-14zM1195 2316h14v14h-14zM1167 2358h14v14h-14z"/><path fill="#ecff00" d="M1237 2274h14v14h-14zM1223 2288h14v14h-14zM1195 2330h14v14h-14zM1181 2344h14v14h-14z"/><path fill="#e4ff00" d="M1209 2288h14v14h-14zM1181 2330h14v14h-14z"/><path fill="#f0ff00" d="M1237 2288h14v14h-14zM1223 2302h14v14h-14zM1209 2316h14v14h-14zM1181 2358h14v14h-14zM1167 2372h14v14h-14z"/><path fill="#f8ff00" d="M1251 2288h14v14h-14zM1237 2302h14v14h-14zM1209 2344h14v14h-14zM1195 2358h14v14h-14zM1181 2372h14v14h-14z"/><path fill="#30ff20" d="M1013 2302h14v14h-14z"/><path fill="#50ff14" d="M1027 2302h14v14h-14z"/><path fill="#fcff00" d="M1251 2302h14v14h-14zM1237 2316h14v14h-14zM1223 2330h14v14h-14z"/><path fill="#fffc00" d="M1265 2302h14v14h-14zM1251 2316h14v14h-14zM1237 2330h14v14h-14zM1223 2344h14v14h-14z"/><path fill="#00ffe4" d="M257 2316h14v14h-14zM257 2330h42v14h-42zM257 2344h70v14h-70zM271 2358h70v14h-70zM271 2372h98v14h-98zM285 2386h112v14h-112zM327 2400h98v14h-98zM355 2414h98v14h-98zM383 2428h98v14h-98zM425 2442h84v14h-84zM453 2456h84v14h-84zM495 2470h70v14h-70zM523 2484h70v14h-70zM551 2498h70v14h-70zM593 2512h56v14h-56zM621 2526h56v14h-56zM663 2540h42v14h-42zM691 2554h42v14h-42zM733 2568h28v14h-28zM761 2582h28v14h-28zM789 2596h28v14h-28zM831 2610h14v14h-14z"/><path fill="#10ff38" d="M999 2316h14v14h-14z"/><path fill="#40ff30" d="M1013 2316h14v14h-14z"/><path fill="#5cff28" d="M1027 2316h14v14h-14z"/><path fill="#6cff20" d="M1041 2316h14v14h-14z"/><path fill="#7cff0c" d="M1055 2316h14v14h-14z"/><path fill="#f4ff00" d="M1223 2316h14v14h-14zM1209 2330h14v14h-14zM1195 2344h14v14h-14z"/><path fill="#fff400" d="M1265 2316h14v14h-14zM1251 2330h14v14h-14z"/><path fill="#fff000" d="M1279 2316h14v14h-14zM1265 2330h14v14h-14zM1251 2344h14v14h-14zM1237 2358h14v14h-14zM1223 2372h14v14h-14zM1209 2386h14v14h-14z"/><path fill="#ffe800" d="M1293 2316h14v14h-14zM1279 2330h14v14h-14z"/><path fill="#30ff44" d="M999 2330h14v14h-14z"/><path fill="#50ff40" d="M1013 2330h14v14h-14z"/><path fill="#64ff38" d="M1027 2330h14v14h-14z"/><path fill="#78ff30" d="M1041 2330h14v14h-14z"/><path fill="#84ff28" d="M1055 2330h14v14h-14z"/><path fill="#94ff1c" d="M1069 2330h14v14h-14z"/><path fill="#a0ff08" d="M1083 2330h14v14h-14z"/><path fill="#ffe400" d="M1293 2330h14v14h-14zM1279 2344h14v14h-14zM1265 2358h14v14h-14zM1251 2372h14v14h-14zM1237 2386h14v14h-14zM1223 2400h14v14h-14z"/><path fill="#ffe000" d="M1307 2330h14v14h-14zM1293 2344h14v14h-14zM1279 2358h14v14h-14zM1265 2372h14v14h-14zM1251 2386h14v14h-14zM1237 2400h14v14h-14z"/><path fill="#14ff50" d="M985 2344h14v14h-14z"/><path fill="#44ff4c" d="M999 2344h14v14h-14z"/><path fill="#5cff48" d="M1013 2344h14v14h-14z"/><path fill="#70ff44" d="M1027 2344h14v14h-14z"/><path fill="#80ff3c" d="M1041 2344h14v14h-14z"/><path fill="#8cff38" d="M1055 2344h14v14h-14z"/><path fill="#9cff30" d="M1069 2344h14v14h-14z"/><path fill="#a8ff28" d="M1083 2344h14v14h-14z"/><path fill="#b0ff18" d="M1097 2344h14v14h-14z"/><path fill="#fff800" d="M1237 2344h14v14h-14zM1223 2358h14v14h-14zM1209 2372h14v14h-14zM1195 2386h14v14h-14z"/><path fill="#ffec00" d="M1265 2344h14v14h-14zM1251 2358h14v14h-14zM1237 2372h14v14h-14zM1223 2386h14v14h-14zM1209 2400h14v14h-14z"/><path fill="#ffdc00" d="M1307 2344h14v14h-14zM1293 2358h14v14h-14zM1279 2372h14v14h-14z"/><path fill="#ffd800" d="M1321 2344h14v14h-14zM1307 2358h14v14h-14zM1265 2386h14v14h-14zM1251 2400h14v14h-14zM1237 2414h14v14h-14z"/><path fill="#ffd400" d="M1335 2344h14v14h-14zM1293 2372h14v14h-14zM1279 2386h14v14h-14zM1265 2400h14v14h-14zM1251 2414h14v14h-14z"/><path fill="#34ff5c" d="M985 2358h14v14h-14z"/><path fill="#54ff58" d="M999 2358h14v14h-14z"/><path fill="#68ff54" d="M1013 2358h14v14h-14z"/><path fill="#78ff4c" d="M1027 2358h14v14h-14z"/><path fill="#88ff48" d="M1041 2358h14v14h-14z"/><path fill="#94ff44" d="M1055 2358h14v14h-14z"/><path fill="#a4ff3c" d="M1069 2358h14v14h-14z"/><path fill="#acff38" d="M1083 2358h14v14h-14z"/><path fill="#b8ff30" d="M1097 2358h14v14h-14z"/><path fill="#c4ff24" d="M1111 2358h14v14h-14z"/><path fill="#ccff14" d="M1125 2358h14v14h-14z"/><path fill="#ffff00" d="M1209 2358h14v14h-14zM1195 2372h14v14h-14z"/><path fill="#ffd000" d="M1321 2358h14v14h-14zM1307 2372h14v14h-14zM1293 2386h14v14h-14zM1279 2400h14v14h-14z"/><path fill="#ffcc00" d="M1335 2358h28v14h-28zM1321 2372h14v14h-14zM1307 2386h14v14h-14zM1293 2400h14v14h-14zM1265 2414h14v14h-14z"/><path fill="#18ff64" d="M971 2372h14v14h-14z"/><path fill="#48ff64" d="M985 2372h14v14h-14z"/><path fill="#60ff60" d="M999 2372h14v14h-14z"/><path fill="#74ff5c" d="M1013 2372h14v14h-14z"/><path fill="#84ff58" d="M1027 2372h14v14h-14z"/><path fill="#90ff54" d="M1041 2372h14v14h-14z"/><path fill="#9cff50" d="M1055 2372h14v14h-14z"/><path fill="#a8ff48" d="M1069 2372h14v14h-14z"/><path fill="#b4ff44" d="M1083 2372h14v14h-14z"/><path fill="#c0ff3c" d="M1097 2372h14v14h-14z"/><path fill="#c8ff38" d="M1111 2372h14v14h-14z"/><path fill="#d4ff2c" d="M1125 2372h14v14h-14z"/><path fill="#dcff24" d="M1139 2372h14v14h-14z"/><path fill="#e4ff10" d="M1153 2372h14v14h-14z"/><path fill="#ffc800" d="M1335 2372h14v14h-14zM1321 2386h14v14h-14zM1307 2400h14v14h-14zM1279 2414h14v14h-14zM1265 2428h14v14h-14z"/><path fill="#ffc400" d="M1349 2372h28v14h-28zM1335 2386h14v14h-14zM1321 2400h14v14h-14zM1293 2414h14v14h-14zM1279 2428h14v14h-14z"/><path fill="#00ffe8" d="M271 2386h14v14h-14zM271 2400h56v14h-56zM271 2414h84v14h-84zM271 2428h112v14h-112zM299 2442h126v14h-126zM341 2456h112v14h-112zM383 2470h112v14h-112zM425 2484h98v14h-98zM467 2498h84v14h-84zM509 2512h84v14h-84zM551 2526h70v14h-70zM593 2540h70v14h-70zM635 2554h56v14h-56zM677 2568h56v14h-56zM719 2582h42v14h-42zM761 2596h28v14h-28zM803 2610h28v14h-28zM831 2624h14v14h-14z"/><path fill="#38ff6c" d="M971 2386h14v14h-14z"/><path fill="#54ff68" d="M985 2386h14v14h-14z"/><path fill="#6cff68" d="M999 2386h14v14h-14z"/><path fill="#7cff64" d="M1013 2386h14v14h-14z"/><path fill="#8cff60" d="M1027 2386h14v14h-14z"/><path fill="#98ff5c" d="M1041 2386h14v14h-14z"/><path fill="#a4ff58" d="M1055 2386h14v14h-14z"/><path fill="#b0ff54" d="M1069 2386h14v14h-14z"/><path fill="#bcff50" d="M1083 2386h14v14h-14z"/><path fill="#c8ff48" d="M1097 2386h14v14h-14z"/><path fill="#d0ff44" d="M1111 2386h14v14h-14z"/><path fill="#d8ff3c" d="M1125 2386h14v14h-14z"/><path fill="#e4ff34" d="M1139 2386h14v14h-14z"/><path fill="#ecff2c" d="M1153 2386h14v14h-14z"/><path fill="#f4ff20" d="M1167 2386h14v14h-14z"/><path fill="#fcff08" d="M1181 2386h14v14h-14z"/><path fill="#ffc000" d="M1349 2386h14v14h-14zM1335 2400h14v14h-14zM1307 2414h14v14h-14zM1293 2428h14v14h-14z"/><path fill="#ffbc00" d="M1363 2386h28v14h-28zM1349 2400h14v14h-14zM1321 2414h14v14h-14zM1307 2428h14v14h-14z"/><path fill="#ffb800" d="M1391 2386h14v14h-14zM1363 2400h14v14h-14zM1335 2414h28v14h-28zM1321 2428h14v14h-14zM1293 2442h28v14h-28z"/><path fill="#1cff78" d="M957 2400h14v14h-14z"/><path fill="#48ff74" d="M971 2400h14v14h-14z"/><path fill="#64ff70" d="M985 2400h14v14h-14z"/><path fill="#74ff70" d="M999 2400h14v14h-14z"/><path fill="#84ff6c" d="M1013 2400h14v14h-14z"/><path fill="#94ff68" d="M1027 2400h14v14h-14z"/><path fill="#a0ff64" d="M1041 2400h14v14h-14z"/><path fill="#acff60" d="M1055 2400h14v14h-14z"/><path fill="#b8ff5c" d="M1069 2400h14v14h-14z"/><path fill="#c4ff58" d="M1083 2400h14v14h-14z"/><path fill="#ccff54" d="M1097 2400h14v14h-14z"/><path fill="#d8ff50" d="M1111 2400h14v14h-14z"/><path fill="#e0ff4c" d="M1125 2400h14v14h-14z"/><path fill="#ecff44" d="M1139 2400h14v14h-14z"/><path fill="#f4ff3c" d="M1153 2400h14v14h-14z"/><path fill="#fcff34" d="M1167 2400h14v14h-14z"/><path fill="#fff828" d="M1181 2400h14v14h-14z"/><path fill="#fff01c" d="M1195 2400h14v14h-14z"/><path fill="#ffb400" d="M1377 2400h28v14h-28zM1363 2414h14v14h-14zM1335 2428h14v14h-14zM1321 2442h14v14h-14z"/><path fill="#ffb000" d="M1405 2400h14v14h-14zM1377 2414h14v14h-14zM1349 2428h28v14h-28zM1335 2442h14v14h-14zM1307 2456h14v14h-14z"/><path fill="#38ff7c" d="M957 2414h14v14h-14z"/><path fill="#58ff7c" d="M971 2414h14v14h-14z"/><path fill="#6cff78" d="M985 2414h14v14h-14z"/><path fill="#80ff74" d="M999 2414h14v14h-14z"/><path fill="#90ff74" d="M1013 2414h14v14h-14z"/><path fill="#9cff70" d="M1027 2414h14v14h-14z"/><path fill="#a8ff6c" d="M1041 2414h14v14h-14z"/><path fill="#b4ff68" d="M1055 2414h14v14h-14z"/><path fill="#c0ff68" d="M1069 2414h14v14h-14z"/><path fill="#ccff64" d="M1083 2414h14v14h-14z"/><path fill="#d4ff60" d="M1097 2414h14v14h-14z"/><path fill="#e0ff5c" d="M1111 2414h14v14h-14z"/><path fill="#e8ff54" d="M1125 2414h14v14h-14z"/><path fill="#f0ff50" d="M1139 2414h14v14h-14z"/><path fill="#fcff4c" d="M1153 2414h14v14h-14z"/><path fill="#fffc44" d="M1167 2414h14v14h-14z"/><path fill="#fff438" d="M1181 2414h14v14h-14z"/><path fill="#ffec30" d="M1195 2414h14v14h-14z"/><path fill="#ffe424" d="M1209 2414h14v14h-14z"/><path fill="#ffe014" d="M1223 2414h14v14h-14z"/><path fill="#ffac00" d="M1391 2414h28v14h-28zM1377 2428h14v14h-14zM1349 2442h14v14h-14zM1321 2456h14v14h-14z"/><path fill="#ffa800" d="M1419 2414h14v14h-14zM1391 2428h28v14h-28zM1363 2442h28v14h-28zM1335 2456h28v14h-28z"/><path fill="#20ff84" d="M943 2428h14v14h-14z"/><path fill="#4cff84" d="M957 2428h14v14h-14z"/><path fill="#64ff80" d="M971 2428h14v14h-14z"/><path fill="#78ff80" d="M985 2428h14v14h-14z"/><path fill="#88ff7c" d="M999 2428h14v14h-14z"/><path fill="#98ff7c" d="M1013 2428h14v14h-14z"/><path fill="#a4ff78" d="M1027 2428h14v14h-14z"/><path fill="#b0ff74" d="M1041 2428h14v14h-14z"/><path fill="#bcff70" d="M1055 2428h14v14h-14z"/><path fill="#c8ff70" d="M1069 2428h14v14h-14z"/><path fill="#d4ff6c" d="M1083 2428h14v14h-14z"/><path fill="#dcff68" d="M1097 2428h14v14h-14z"/><path fill="#e8ff64" d="M1111 2428h14v14h-14z"/><path fill="#f0ff60" d="M1125 2428h14v14h-14z"/><path fill="#f8ff5c" d="M1139 2428h14v14h-14z"/><path fill="#fffc54" d="M1153 2428h14v14h-14z"/><path fill="#fff44c" d="M1167 2428h14v14h-14z"/><path fill="#ffec44" d="M1181 2428h14v14h-14z"/><path fill="#ffe43c" d="M1195 2428h14v14h-14z"/><path fill="#ffe034" d="M1209 2428h14v14h-14z"/><path fill="#ffd828" d="M1223 2428h14v14h-14z"/><path fill="#ffd420" d="M1237 2428h14v14h-14z"/><path fill="#ffcc0c" d="M1251 2428h14v14h-14z"/><path fill="#ffa400" d="M1419 2428h14v14h-14zM1391 2442h14v14h-14zM1363 2456h14v14h-14zM1335 2470h14v14h-14z"/><path fill="#ffa000" d="M1433 2428h28v14h-28zM1405 2442h28v14h-28zM1377 2456h28v14h-28zM1349 2470h28v14h-28z"/><path fill="#00ffec" d="M271 2442h28v14h-28zM285 2456h56v14h-56zM285 2470h98v14h-98zM285 2484h140v14h-140zM313 2498h154v14h-154zM369 2512h140v14h-140zM425 2526h126v14h-126zM481 2540h112v14h-112zM537 2554h98v14h-98zM593 2568h84v14h-84zM635 2582h84v14h-84zM691 2596h70v14h-70zM747 2610h56v14h-56zM803 2624h28v14h-28z"/><path fill="#3cff8c" d="M943 2442h14v14h-14z"/><path fill="#5cff8c" d="M957 2442h14v14h-14z"/><path fill="#70ff88" d="M971 2442h14v14h-14z"/><path fill="#84ff84" d="M985 2442h14v14h-14z"/><path fill="#94ff84" d="M999 2442h14v14h-14z"/><path fill="#a0ff80" d="M1013 2442h14v14h-14z"/><path fill="#acff80" d="M1027 2442h14v14h-14z"/><path fill="#b8ff7c" d="M1041 2442h14v14h-14z"/><path fill="#c4ff78" d="M1055 2442h14v14h-14z"/><path fill="#d0ff78" d="M1069 2442h14v14h-14z"/><path fill="#d8ff74" d="M1083 2442h14v14h-14z"/><path fill="#e4ff70" d="M1097 2442h14v14h-14z"/><path fill="#ecff6c" d="M1111 2442h14v14h-14z"/><path fill="#f8ff68" d="M1125 2442h14v14h-14z"/><path fill="#fffc64" d="M1139 2442h14v14h-14z"/><path fill="#fff45c" d="M1153 2442h14v14h-14z"/><path fill="#ffec54" d="M1167 2442h14v14h-14z"/><path fill="#ffe450" d="M1181 2442h14v14h-14z"/><path fill="#ffe048" d="M1195 2442h14v14h-14z"/><path fill="#ffd840" d="M1209 2442h14v14h-14z"/><path fill="#ffd438" d="M1223 2442h14v14h-14z"/><path fill="#ffcc30" d="M1237 2442h14v14h-14z"/><path fill="#ffc824" d="M1251 2442h14v14h-14z"/><path fill="#ffc418" d="M1265 2442h14v14h-14z"/><path fill="#ffbc08" d="M1279 2442h14v14h-14z"/><path fill="#ff9c00" d="M1433 2442h28v14h-28zM1405 2456h14v14h-14zM1377 2470h14v14h-14z"/><path fill="#ff9800" d="M1461 2442h14v14h-14zM1419 2456h28v14h-28zM1391 2470h28v14h-28zM1363 2484h28v14h-28z"/><path fill="#24ff94" d="M929 2456h14v14h-14z"/><path fill="#50ff94" d="M943 2456h14v14h-14z"/><path fill="#68ff90" d="M957 2456h14v14h-14z"/><path fill="#7cff90" d="M971 2456h14v14h-14z"/><path fill="#8cff8c" d="M985 2456h14v14h-14z"/><path fill="#9cff8c" d="M999 2456h14v14h-14z"/><path fill="#a8ff88" d="M1013 2456h14v14h-14z"/><path fill="#b4ff88" d="M1027 2456h14v14h-14z"/><path fill="#c0ff84" d="M1041 2456h14v14h-14z"/><path fill="#ccff80" d="M1055 2456h14v14h-14z"/><path fill="#d8ff80" d="M1069 2456h14v14h-14z"/><path fill="#e0ff7c" d="M1083 2456h14v14h-14z"/><path fill="#ecff78" d="M1097 2456h14v14h-14z"/><path fill="#f4ff74" d="M1111 2456h14v14h-14z"/><path fill="#ffff74" d="M1125 2456h14v14h-14z"/><path fill="#fff86c" d="M1139 2456h14v14h-14z"/><path fill="#fff064" d="M1153 2456h14v14h-14z"/><path fill="#ffe85c" d="M1167 2456h14v14h-14z"/><path fill="#ffe054" d="M1181 2456h14v14h-14z"/><path fill="#ffd850" d="M1195 2456h14v14h-14z"/><path fill="#ffd448" d="M1209 2456h14v14h-14z"/><path fill="#ffcc40" d="M1223 2456h14v14h-14z"/><path fill="#ffc838" d="M1237 2456h14v14h-14z"/><path fill="#ffc434" d="M1251 2456h14v14h-14z"/><path fill="#ffbc2c" d="M1265 2456h14v14h-14z"/><path fill="#ffb820" d="M1279 2456h14v14h-14z"/><path fill="#ffb414" d="M1293 2456h14v14h-14z"/><path fill="#ff9400" d="M1447 2456h28v14h-28zM1419 2470h28v14h-28zM1391 2484h14v14h-14z"/><path fill="#ff9000" d="M1475 2456h28v14h-28zM1447 2470h28v14h-28zM1405 2484h28v14h-28zM1391 2498h14v14h-14z"/><path fill="#40ff9c" d="M929 2470h14v14h-14z"/><path fill="#5cff98" d="M943 2470h14v14h-14z"/><path fill="#74ff98" d="M957 2470h14v14h-14z"/><path fill="#88ff94" d="M971 2470h14v14h-14z"/><path fill="#98ff94" d="M985 2470h14v14h-14z"/><path fill="#a4ff90" d="M999 2470h14v14h-14z"/><path fill="#b0ff90" d="M1013 2470h14v14h-14z"/><path fill="#bcff8c" d="M1027 2470h14v14h-14z"/><path fill="#c8ff8c" d="M1041 2470h14v14h-14z"/><path fill="#d4ff88" d="M1055 2470h14v14h-14z"/><path fill="#e0ff88" d="M1069 2470h14v14h-14z"/><path fill="#e8ff84" d="M1083 2470h14v14h-14z"/><path fill="#f4ff80" d="M1097 2470h14v14h-14z"/><path fill="#fcff80" d="M1111 2470h14v14h-14z"/><path fill="#fff878" d="M1125 2470h14v14h-14z"/><path fill="#fff070" d="M1139 2470h14v14h-14z"/><path fill="#ffe868" d="M1153 2470h14v14h-14z"/><path fill="#ffe064" d="M1167 2470h14v14h-14z"/><path fill="#ffd85c" d="M1181 2470h14v14h-14z"/><path fill="#ffd454" d="M1195 2470h14v14h-14z"/><path fill="#ffcc50" d="M1209 2470h14v14h-14z"/><path fill="#ffc848" d="M1223 2470h14v14h-14z"/><path fill="#ffc444" d="M1237 2470h14v14h-14z"/><path fill="#ffbc3c" d="M1251 2470h14v14h-14z"/><path fill="#ffb834" d="M1265 2470h14v14h-14z"/><path fill="#ffb430" d="M1279 2470h14v14h-14z"/><path fill="#ffb028" d="M1293 2470h14v14h-14z"/><path fill="#ffac1c" d="M1307 2470h14v14h-14z"/><path fill="#ffa810" d="M1321 2470h14v14h-14z"/><path fill="#ff8c00" d="M1475 2470h28v14h-28zM1433 2484h28v14h-28zM1405 2498h14v14h-14z"/><path fill="#ff8800" d="M1503 2470h14v14h-14zM1461 2484h28v14h-28zM1419 2498h28v14h-28zM1405 2512h14v14h-14z"/><path fill="#28ffa4" d="M915 2484h14v14h-14z"/><path fill="#50ffa0" d="M929 2484h14v14h-14z"/><path fill="#6cffa0" d="M943 2484h14v14h-14z"/><path fill="#80ff9c" d="M957 2484h14v14h-14z"/><path fill="#90ff9c" d="M971 2484h14v14h-14z"/><path fill="#a0ff9c" d="M985 2484h14v14h-14z"/><path fill="#acff98" d="M999 2484h14v14h-14z"/><path fill="#bcff98" d="M1013 2484h14v14h-14z"/><path fill="#c8ff94" d="M1027 2484h14v14h-14z"/><path fill="#d0ff94" d="M1041 2484h14v14h-14z"/><path fill="#dcff90" d="M1055 2484h14v14h-14z"/><path fill="#e8ff90" d="M1069 2484h14v14h-14z"/><path fill="#f0ff8c" d="M1083 2484h14v14h-14z"/><path fill="#fcff88" d="M1097 2484h14v14h-14z"/><path fill="#fff884" d="M1111 2484h14v14h-14z"/><path fill="#fff07c" d="M1125 2484h14v14h-14z"/><path fill="#ffe874" d="M1139 2484h14v14h-14z"/><path fill="#ffe070" d="M1153 2484h14v14h-14z"/><path fill="#ffd868" d="M1167 2484h14v14h-14z"/><path fill="#ffd460" d="M1181 2484h14v14h-14z"/><path fill="#ffcc5c" d="M1195 2484h14v14h-14z"/><path fill="#ffc854" d="M1209 2484h14v14h-14z"/><path fill="#ffc450" d="M1223 2484h14v14h-14z"/><path fill="#ffbc4c" d="M1237 2484h14v14h-14z"/><path fill="#ffb844" d="M1251 2484h14v14h-14z"/><path fill="#ffb440" d="M1265 2484h14v14h-14z"/><path fill="#ffb038" d="M1279 2484h14v14h-14z"/><path fill="#ffac30" d="M1293 2484h14v14h-14z"/><path fill="#ffa82c" d="M1307 2484h14v14h-14z"/><path fill="#ffa424" d="M1321 2484h14v14h-14z"/><path fill="#ffa018" d="M1335 2484h14v14h-14z"/><path fill="#ff9c0c" d="M1349 2484h14v14h-14z"/><path fill="#ff8400" d="M1489 2484h42v14h-42zM1447 2498h42v14h-42zM1419 2512h28v14h-28z"/><path fill="#00fff0" d="M285 2498h28v14h-28zM285 2512h84v14h-84zM299 2526h126v14h-126zM299 2540h182v14h-182zM383 2554h154v14h-154zM453 2568h140v14h-140zM523 2582h112v14h-112zM593 2596h98v14h-98zM677 2610h70v14h-70zM747 2624h56v14h-56zM817 2638h14v14h-14z"/><path fill="#40ffa8" d="M915 2498h14v14h-14z"/><path fill="#60ffa8" d="M929 2498h14v14h-14z"/><path fill="#78ffa4" d="M943 2498h14v14h-14z"/><path fill="#88ffa4" d="M957 2498h14v14h-14z"/><path fill="#9cffa4" d="M971 2498h14v14h-14z"/><path fill="#a8ffa0" d="M985 2498h14v14h-14z"/><path fill="#b8ffa0" d="M999 2498h14v14h-14z"/><path fill="#c4ff9c" d="M1013 2498h14v14h-14z"/><path fill="#d0ff9c" d="M1027 2498h14v14h-14z"/><path fill="#d8ff9c" d="M1041 2498h14v14h-14z"/><path fill="#e4ff98" d="M1055 2498h14v14h-14z"/><path fill="#f0ff98" d="M1069 2498h14v14h-14z"/><path fill="#f8ff94" d="M1083 2498h14v14h-14z"/><path fill="#fffc90" d="M1097 2498h14v14h-14z"/><path fill="#fff088" d="M1111 2498h14v14h-14z"/><path fill="#ffe880" d="M1125 2498h14v14h-14z"/><path fill="#ffe078" d="M1139 2498h14v14h-14z"/><path fill="#ffdc74" d="M1153 2498h14v14h-14z"/><path fill="#ffd46c" d="M1167 2498h14v14h-14z"/><path fill="#ffcc68" d="M1181 2498h14v14h-14z"/><path fill="#ffc860" d="M1195 2498h14v14h-14z"/><path fill="#ffc45c" d="M1209 2498h14v14h-14z"/><path fill="#ffbc54" d="M1223 2498h14v14h-14z"/><path fill="#ffb850" d="M1237 2498h14v14h-14z"/><path fill="#ffb44c" d="M1251 2498h14v14h-14z"/><path fill="#ffb044" d="M1265 2498h14v14h-14z"/><path fill="#ffac40" d="M1279 2498h14v14h-14z"/><path fill="#ffa83c" d="M1293 2498h14v14h-14z"/><path fill="#ffa434" d="M1307 2498h14v14h-14z"/><path fill="#ffa02c" d="M1321 2498h14v14h-14z"/><path fill="#ff9c28" d="M1335 2498h14v14h-14z"/><path fill="#ff9820" d="M1349 2498h14v14h-14z"/><path fill="#ff9414" d="M1363 2498h14v14h-14z"/><path fill="#ff9004" d="M1377 2498h14v14h-14z"/><path fill="#ff8000" d="M1489 2498h28v14h-28zM1447 2512h28v14h-28z"/><path fill="#ff7c00" d="M1517 2498h42v14h-42zM1475 2512h28v14h-28zM1433 2526h28v14h-28z"/><path fill="#2cffb0" d="M901 2512h14v14h-14z"/><path fill="#54ffb0" d="M915 2512h14v14h-14z"/><path fill="#70ffac" d="M929 2512h14v14h-14z"/><path fill="#84ffac" d="M943 2512h14v14h-14z"/><path fill="#94ffac" d="M957 2512h14v14h-14z"/><path fill="#a4ffa8" d="M971 2512h14v14h-14z"/><path fill="#b0ffa8" d="M985 2512h14v14h-14z"/><path fill="#c0ffa8" d="M999 2512h14v14h-14z"/><path fill="#ccffa4" d="M1013 2512h14v14h-14z"/><path fill="#d8ffa4" d="M1027 2512h14v14h-14z"/><path fill="#e4ffa0" d="M1041 2512h14v14h-14z"/><path fill="#ecffa0" d="M1055 2512h14v14h-14z"/><path fill="#f8ff9c" d="M1069 2512h14v14h-14z"/><path fill="#fffc98" d="M1083 2512h14v14h-14z"/><path fill="#fff490" d="M1097 2512h14v14h-14z"/><path fill="#ffe88c" d="M1111 2512h14v14h-14z"/><path fill="#ffe484" d="M1125 2512h14v14h-14z"/><path fill="#ffdc7c" d="M1139 2512h14v14h-14z"/><path fill="#ffd478" d="M1153 2512h14v14h-14z"/><path fill="#ffcc70" d="M1167 2512h14v14h-14z"/><path fill="#ffc86c" d="M1181 2512h14v14h-14z"/><path fill="#ffc064" d="M1195 2512h14v14h-14z"/><path fill="#ffbc60" d="M1209 2512h14v14h-14z"/><path fill="#ffb85c" d="M1223 2512h14v14h-14z"/><path fill="#ffb454" d="M1237 2512h14v14h-14z"/><path fill="#ffb050" d="M1251 2512h14v14h-14z"/><path fill="#ffa84c" d="M1265 2512h14v14h-14z"/><path fill="#ffa448" d="M1279 2512h14v14h-14z"/><path fill="#ffa040" d="M1293 2512h14v14h-14z"/><path fill="#ff9c3c" d="M1307 2512h14v14h-14z"/><path fill="#ff9838" d="M1321 2512h14v14h-14z"/><path fill="#ff9830" d="M1335 2512h14v14h-14z"/><path fill="#ff942c" d="M1349 2512h14v14h-14z"/><path fill="#ff9024" d="M1363 2512h14v14h-14z"/><path fill="#ff8c1c" d="M1377 2512h14v14h-14z"/><path fill="#ff8810" d="M1391 2512h14v14h-14z"/><path fill="#ff7800" d="M1503 2512h42v14h-42zM1461 2526h28v14h-28z"/><path fill="#ff7400" d="M1545 2512h28v14h-28zM1489 2526h42v14h-42zM1461 2540h14v14h-14z"/><path fill="#44ffb8" d="M901 2526h14v14h-14z"/><path fill="#64ffb4" d="M915 2526h14v14h-14z"/><path fill="#7cffb4" d="M929 2526h14v14h-14z"/><path fill="#8cffb4" d="M943 2526h14v14h-14z"/><path fill="#a0ffb0" d="M957 2526h14v14h-14z"/><path fill="#acffb0" d="M971 2526h14v14h-14z"/><path fill="#bcffb0" d="M985 2526h14v14h-14z"/><path fill="#c8ffac" d="M999 2526h14v14h-14z"/><path fill="#d4ffac" d="M1013 2526h14v14h-14z"/><path fill="#e0ffac" d="M1027 2526h14v14h-14z"/><path fill="#ecffa8" d="M1041 2526h14v14h-14z"/><path fill="#f4ffa8" d="M1055 2526h14v14h-14z"/><path fill="#fffca4" d="M1069 2526h14v14h-14z"/><path fill="#fff49c" d="M1083 2526h14v14h-14z"/><path fill="#ffec94" d="M1097 2526h14v14h-14z"/><path fill="#ffe48c" d="M1111 2526h14v14h-14z"/><path fill="#ffdc88" d="M1125 2526h14v14h-14z"/><path fill="#ffd480" d="M1139 2526h14v14h-14z"/><path fill="#ffcc7c" d="M1153 2526h14v14h-14z"/><path fill="#ffc874" d="M1167 2526h14v14h-14z"/><path fill="#ffc070" d="M1181 2526h14v14h-14z"/><path fill="#ffbc68" d="M1195 2526h14v14h-14z"/><path fill="#ffb864" d="M1209 2526h14v14h-14z"/><path fill="#ffb460" d="M1223 2526h14v14h-14z"/><path fill="#ffac5c" d="M1237 2526h14v14h-14z"/><path fill="#ffa854" d="M1251 2526h14v14h-14z"/><path fill="#ffa450" d="M1265 2526h14v14h-14z"/><path fill="#ffa04c" d="M1279 2526h14v14h-14z"/><path fill="#ff9c48" d="M1293 2526h14v14h-14z"/><path fill="#ff9844" d="M1307 2526h14v14h-14z"/><path fill="#ff943c" d="M1321 2526h14v14h-14z"/><path fill="#ff9038" d="M1335 2526h14v14h-14z"/><path fill="#ff9034" d="M1349 2526h14v14h-14z"/><path fill="#ff8c2c" d="M1363 2526h14v14h-14z"/><path fill="#ff8828" d="M1377 2526h14v14h-14z"/><path fill="#ff8420" d="M1391 2526h14v14h-14z"/><path fill="#ff8018" d="M1405 2526h14v14h-14z"/><path fill="#ff800c" d="M1419 2526h14v14h-14z"/><path fill="#ff7000" d="M1531 2526h42v14h-42zM1475 2540h42v14h-42z"/><path fill="#ff6c00" d="M1573 2526h28v14h-28zM1517 2540h42v14h-42z"/><path fill="#30ffc0" d="M887 2540h14v14h-14z"/><path fill="#58ffbc" d="M901 2540h14v14h-14z"/><path fill="#70ffbc" d="M915 2540h14v14h-14z"/><path fill="#88ffbc" d="M929 2540h14v14h-14z"/><path fill="#98ffb8" d="M943 2540h14v14h-14z"/><path fill="#a8ffb8" d="M957 2540h14v14h-14z"/><path fill="#b8ffb8" d="M971 2540h14v14h-14z"/><path fill="#c4ffb8" d="M985 2540h14v14h-14z"/><path fill="#d0ffb4" d="M999 2540h14v14h-14z"/><path fill="#dcffb4" d="M1013 2540h14v14h-14z"/><path fill="#e8ffb4" d="M1027 2540h14v14h-14z"/><path fill="#f4ffb0" d="M1041 2540h14v14h-14z"/><path fill="#ffffb0" d="M1055 2540h14v14h-14z"/><path fill="#fff4a8" d="M1069 2540h14v14h-14z"/><path fill="#ffeca0" d="M1083 2540h14v14h-14z"/><path fill="#ffe498" d="M1097 2540h14v14h-14z"/><path fill="#ffdc90" d="M1111 2540h14v14h-14z"/><path fill="#ffd488" d="M1125 2540h14v14h-14z"/><path fill="#ffcc84" d="M1139 2540h14v14h-14z"/><path fill="#ffc87c" d="M1153 2540h14v14h-14z"/><path fill="#ffc078" d="M1167 2540h14v14h-14z"/><path fill="#ffbc74" d="M1181 2540h14v14h-14z"/><path fill="#ffb86c" d="M1195 2540h14v14h-14z"/><path fill="#ffb068" d="M1209 2540h14v14h-14z"/><path fill="#ffac64" d="M1223 2540h14v14h-14z"/><path fill="#ffa860" d="M1237 2540h14v14h-14z"/><path fill="#ffa45c" d="M1251 2540h14v14h-14z"/><path fill="#ffa054" d="M1265 2540h14v14h-14z"/><path fill="#ff9c50" d="M1279 2540h14v14h-14z"/><path fill="#ff984c" d="M1293 2540h14v14h-14z"/><path fill="#ff9448" d="M1307 2540h14v14h-14z"/><path fill="#ff9044" d="M1321 2540h14v14h-14z"/><path fill="#ff8c40" d="M1335 2540h14v14h-14z"/><path fill="#ff883c" d="M1349 2540h14v14h-14z"/><path fill="#ff8834" d="M1363 2540h14v14h-14z"/><path fill="#ff8430" d="M1377 2540h14v14h-14z"/><path fill="#ff802c" d="M1391 2540h14v14h-14z"/><path fill="#ff7c24" d="M1405 2540h14v14h-14z"/><path fill="#ff7c1c" d="M1419 2540h14v14h-14z"/><path fill="#ff7814" d="M1433 2540h14v14h-14z"/><path fill="#ff7408" d="M1447 2540h14v14h-14z"/><path fill="#ff6800" d="M1559 2540h42v14h-42zM1489 2554h42v14h-42z"/><path fill="#ff6400" d="M1601 2540h14v14h-14zM1531 2554h42v14h-42z"/><path fill="#00fff4" d="M299 2554h84v14h-84zM299 2568h154v14h-154zM313 2582h210v14h-210zM411 2596h182v14h-182zM523 2610h154v14h-154zM635 2624h112v14h-112zM747 2638h70v14h-70z"/><path fill="#48ffc4" d="M887 2554h14v14h-14z"/><path fill="#68ffc4" d="M901 2554h14v14h-14z"/><path fill="#80ffc4" d="M915 2554h14v14h-14z"/><path fill="#90ffc0" d="M929 2554h14v14h-14z"/><path fill="#a4ffc0" d="M943 2554h14v14h-14z"/><path fill="#b4ffc0" d="M957 2554h14v14h-14z"/><path fill="#c0ffc0" d="M971 2554h14v14h-14z"/><path fill="#ccffbc" d="M985 2554h14v14h-14z"/><path fill="#d8ffbc" d="M999 2554h14v14h-14z"/><path fill="#e4ffbc" d="M1013 2554h14v14h-14z"/><path fill="#f0ffb8" d="M1027 2554h14v14h-14z"/><path fill="#fcffb8" d="M1041 2554h14v14h-14z"/><path fill="#fff8b0" d="M1055 2554h14v14h-14z"/><path fill="#ffeca8" d="M1069 2554h14v14h-14z"/><path fill="#ffe4a0" d="M1083 2554h14v14h-14z"/><path fill="#ffdc98" d="M1097 2554h14v14h-14z"/><path fill="#ffd494" d="M1111 2554h14v14h-14z"/><path fill="#ffcc8c" d="M1125 2554h14v14h-14z"/><path fill="#ffc888" d="M1139 2554h14v14h-14z"/><path fill="#ffc080" d="M1153 2554h14v14h-14z"/><path fill="#ffbc7c" d="M1167 2554h14v14h-14z"/><path fill="#ffb878" d="M1181 2554h14v14h-14z"/><path fill="#ffb070" d="M1195 2554h14v14h-14z"/><path fill="#ffac6c" d="M1209 2554h14v14h-14z"/><path fill="#ffa868" d="M1223 2554h14v14h-14z"/><path fill="#ffa464" d="M1237 2554h14v14h-14z"/><path fill="#ffa060" d="M1251 2554h14v14h-14z"/><path fill="#ff9c5c" d="M1265 2554h14v14h-14z"/><path fill="#ff9854" d="M1279 2554h14v14h-14z"/><path fill="#ff9450" d="M1293 2554h14v14h-14z"/><path fill="#ff904c" d="M1307 2554h14v14h-14z"/><path fill="#ff8c48" d="M1321 2554h14v14h-14z"/><path fill="#ff8844" d="M1335 2554h14v14h-14z"/><path fill="#ff8440" d="M1349 2554h14v14h-14z"/><path fill="#ff843c" d="M1363 2554h14v14h-14z"/><path fill="#ff8038" d="M1377 2554h14v14h-14z"/><path fill="#ff7c34" d="M1391 2554h14v14h-14z"/><path fill="#ff782c" d="M1405 2554h14v14h-14z"/><path fill="#ff7828" d="M1419 2554h14v14h-14z"/><path fill="#ff7420" d="M1433 2554h14v14h-14z"/><path fill="#ff701c" d="M1447 2554h14v14h-14z"/><path fill="#ff6c10" d="M1461 2554h14v14h-14z"/><path fill="#ff6c04" d="M1475 2554h14v14h-14z"/><path fill="#ff6000" d="M1573 2554h56v14h-56zM1503 2568h42v14h-42z"/><path fill="#34ffcc" d="M873 2568h14v14h-14z"/><path fill="#5cffcc" d="M887 2568h14v14h-14z"/><path fill="#74ffcc" d="M901 2568h14v14h-14z"/><path fill="#8cffc8" d="M915 2568h14v14h-14z"/><path fill="#9cffc8" d="M929 2568h14v14h-14z"/><path fill="#acffc8" d="M943 2568h14v14h-14z"/><path fill="#bcffc8" d="M957 2568h14v14h-14z"/><path fill="#c8ffc4" d="M971 2568h14v14h-14z"/><path fill="#d8ffc4" d="M985 2568h14v14h-14z"/><path fill="#e4ffc4" d="M999 2568h14v14h-14z"/><path fill="#f0ffc4" d="M1013 2568h14v14h-14z"/><path fill="#fcffc0" d="M1027 2568h14v14h-14z"/><path fill="#fff8bc" d="M1041 2568h14v14h-14z"/><path fill="#fff0b4" d="M1055 2568h14v14h-14z"/><path fill="#ffe4ac" d="M1069 2568h14v14h-14z"/><path fill="#ffdca4" d="M1083 2568h14v14h-14z"/><path fill="#ffd49c" d="M1097 2568h14v14h-14z"/><path fill="#ffcc94" d="M1111 2568h14v14h-14z"/><path fill="#ffc890" d="M1125 2568h14v14h-14z"/><path fill="#ffc088" d="M1139 2568h14v14h-14z"/><path fill="#ffbc84" d="M1153 2568h14v14h-14z"/><path fill="#ffb480" d="M1167 2568h14v14h-14z"/><path fill="#ffb078" d="M1181 2568h14v14h-14z"/><path fill="#ffac74" d="M1195 2568h14v14h-14z"/><path fill="#ffa870" d="M1209 2568h14v14h-14z"/><path fill="#ffa46c" d="M1223 2568h14v14h-14z"/><path fill="#ffa068" d="M1237 2568h14v14h-14z"/><path fill="#ff9864" d="M1251 2568h14v14h-14z"/><path fill="#ff9460" d="M1265 2568h14v14h-14z"/><path fill="#ff945c" d="M1279 2568h14v14h-14z"/><path fill="#ff9054" d="M1293 2568h14v14h-14z"/><path fill="#ff8c50" d="M1307 2568h14v14h-14z"/><path fill="#ff884c" d="M1321 2568h14v14h-14z"/><path fill="#ff8448" d="M1335 2568h14v14h-14z"/><path fill="#ff8044" d="M1349 2568h14v14h-14z"/><path fill="#ff7c40" d="M1363 2568h14v14h-14z"/><path fill="#ff7c3c" d="M1377 2568h14v14h-14z"/><path fill="#ff7838" d="M1391 2568h14v14h-14z"/><path fill="#ff7434" d="M1405 2568h14v14h-14z"/><path fill="#ff7030" d="M1419 2568h14v14h-14z"/><path fill="#ff702c" d="M1433 2568h14v14h-14z"/><path fill="#ff6c24" d="M1447 2568h14v14h-14z"/><path fill="#ff6820" d="M1461 2568h14v14h-14z"/><path fill="#ff6818" d="M1475 2568h14v14h-14z"/><path fill="#ff6410" d="M1489 2568h14v14h-14z"/><path fill="#ff5c00" d="M1545 2568h56v14h-56z"/><path fill="#ff5800" d="M1601 2568h56v14h-56zM1531 2582h28v14h-28z"/><path fill="#4cffd4" d="M873 2582h14v14h-14z"/><path fill="#6cffd4" d="M887 2582h14v14h-14z"/><path fill="#84ffd0" d="M901 2582h14v14h-14z"/><path fill="#98ffd0" d="M915 2582h14v14h-14z"/><path fill="#a8ffd0" d="M929 2582h14v14h-14z"/><path fill="#b8ffd0" d="M943 2582h14v14h-14z"/><path fill="#c4ffd0" d="M957 2582h14v14h-14z"/><path fill="#d4ffcc" d="M971 2582h14v14h-14z"/><path fill="#e0ffcc" d="M985 2582h14v14h-14z"/><path fill="#ecffcc" d="M999 2582h14v14h-14z"/><path fill="#f8ffcc" d="M1013 2582h14v14h-14z"/><path fill="#fff8c4" d="M1027 2582h14v14h-14z"/><path fill="#fff0bc" d="M1041 2582h14v14h-14z"/><path fill="#ffe4b4" d="M1055 2582h14v14h-14z"/><path fill="#ffdcac" d="M1069 2582h14v14h-14z"/><path fill="#ffd4a4" d="M1083 2582h14v14h-14z"/><path fill="#ffcc9c" d="M1097 2582h14v14h-14z"/><path fill="#ffc898" d="M1111 2582h14v14h-14z"/><path fill="#ffc090" d="M1125 2582h14v14h-14z"/><path fill="#ffbc8c" d="M1139 2582h14v14h-14z"/><path fill="#ffb488" d="M1153 2582h14v14h-14z"/><path fill="#ffb080" d="M1167 2582h14v14h-14z"/><path fill="#ffac7c" d="M1181 2582h14v14h-14z"/><path fill="#ffa878" d="M1195 2582h14v14h-14z"/><path fill="#ffa074" d="M1209 2582h14v14h-14z"/><path fill="#ff9c70" d="M1223 2582h14v14h-14z"/><path fill="#ff986c" d="M1237 2582h14v14h-14z"/><path fill="#ff9464" d="M1251 2582h14v14h-14z"/><path fill="#ff9060" d="M1265 2582h14v14h-14z"/><path fill="#ff8c5c" d="M1279 2582h14v14h-14z"/><path fill="#ff8858" d="M1293 2582h14v14h-14z"/><path fill="#ff8854" d="M1307 2582h14v14h-14z"/><path fill="#ff8450" d="M1321 2582h14v14h-14z"/><path fill="#ff8050" d="M1335 2582h14v14h-14z"/><path fill="#ff7c4c" d="M1349 2582h14v14h-14z"/><path fill="#ff7848" d="M1363 2582h14v14h-14z"/><path fill="#ff7444" d="M1377 2582h14v14h-14z"/><path fill="#ff7440" d="M1391 2582h14v14h-14z"/><path fill="#ff703c" d="M1405 2582h14v14h-14z"/><path fill="#ff6c34" d="M1419 2582h14v14h-14z"/><path fill="#ff6c30" d="M1433 2582h14v14h-14z"/><path fill="#ff682c" d="M1447 2582h14v14h-14z"/><path fill="#ff6428" d="M1461 2582h14v14h-14z"/><path fill="#ff6024" d="M1475 2582h14v14h-14z"/><path fill="#ff601c" d="M1489 2582h14v14h-14z"/><path fill="#ff5c14" d="M1503 2582h14v14h-14z"/><path fill="#ff5c0c" d="M1517 2582h14v14h-14z"/><path fill="#ff5400" d="M1559 2582h56v14h-56z"/><path fill="#ff5000" d="M1615 2582h56v14h-56z"/><path fill="#00fff8" d="M313 2596h98v14h-98zM313 2610h210v14h-210zM355 2624h280v14h-280zM565 2638h182v14h-182zM775 2652h56v14h-56z"/><path fill="#34ffdc" d="M859 2596h14v14h-14z"/><path fill="#60ffd8" d="M873 2596h14v14h-14z"/><path fill="#78ffd8" d="M887 2596h14v14h-14z"/><path fill="#90ffd8" d="M901 2596h14v14h-14z"/><path fill="#a0ffd8" d="M915 2596h14v14h-14z"/><path fill="#b4ffd8" d="M929 2596h14v14h-14z"/><path fill="#c0ffd8" d="M943 2596h14v14h-14z"/><path fill="#d0ffd4" d="M957 2596h14v14h-14z"/><path fill="#dcffd4" d="M971 2596h14v14h-14z"/><path fill="#ecffd4" d="M985 2596h14v14h-14z"/><path fill="#f8ffd4" d="M999 2596h14v14h-14z"/><path fill="#fffcd0" d="M1013 2596h14v14h-14z"/><path fill="#fff0c4" d="M1027 2596h14v14h-14z"/><path fill="#ffe8bc" d="M1041 2596h14v14h-14z"/><path fill="#ffdcb4" d="M1055 2596h14v14h-14z"/><path fill="#ffd4ac" d="M1069 2596h14v14h-14z"/><path fill="#ffd0a8" d="M1083 2596h14v14h-14z"/><path fill="#ffc8a0" d="M1097 2596h14v14h-14z"/><path fill="#ffc098" d="M1111 2596h14v14h-14z"/><path fill="#ffbc94" d="M1125 2596h14v14h-14z"/><path fill="#ffb490" d="M1139 2596h14v14h-14z"/><path fill="#ffb088" d="M1153 2596h14v14h-14z"/><path fill="#ffac84" d="M1167 2596h14v14h-14z"/><path fill="#ffa480" d="M1181 2596h14v14h-14z"/><path fill="#ffa07c" d="M1195 2596h14v14h-14z"/><path fill="#ff9c74" d="M1209 2596h14v14h-14z"/><path fill="#ff9870" d="M1223 2596h14v14h-14z"/><path fill="#ff946c" d="M1237 2596h14v14h-14z"/><path fill="#ff9068" d="M1251 2596h14v14h-14z"/><path fill="#ff8c64" d="M1265 2596h14v14h-14z"/><path fill="#ff8860" d="M1279 2596h14v14h-14z"/><path fill="#ff845c" d="M1293 2596h14v14h-14z"/><path fill="#ff8058" d="M1307 2596h14v14h-14z"/><path fill="#ff7c54" d="M1321 2596h28v14h-28z"/><path fill="#ff7850" d="M1349 2596h14v14h-14z"/><path fill="#ff744c" d="M1363 2596h14v14h-14z"/><path fill="#ff7048" d="M1377 2596h14v14h-14z"/><path fill="#ff7044" d="M1391 2596h14v14h-14z"/><path fill="#ff6c40" d="M1405 2596h14v14h-14z"/><path fill="#ff683c" d="M1419 2596h14v14h-14z"/><path fill="#ff6438" d="M1433 2596h14v14h-14z"/><path fill="#ff6434" d="M1447 2596h14v14h-14z"/><path fill="#ff6030" d="M1461 2596h14v14h-14z"/><path fill="#ff5c2c" d="M1475 2596h14v14h-14z"/><path fill="#ff5c24" d="M1489 2596h14v14h-14z"/><path fill="#ff5820" d="M1503 2596h14v14h-14z"/><path fill="#ff5418" d="M1517 2596h14v14h-14z"/><path fill="#ff5414" d="M1531 2596h14v14h-14z"/><path fill="#ff5008" d="M1545 2596h14v14h-14z"/><path fill="#ff4c00" d="M1559 2596h70v14h-70z"/><path fill="#ff4800" d="M1629 2596h56v14h-56z"/><path fill="#50ffe0" d="M859 2610h14v14h-14z"/><path fill="#70ffe0" d="M873 2610h14v14h-14z"/><path fill="#88ffe0" d="M887 2610h14v14h-14z"/><path fill="#9cffe0" d="M901 2610h14v14h-14z"/><path fill="#acffe0" d="M915 2610h14v14h-14z"/><path fill="#bcffe0" d="M929 2610h14v14h-14z"/><path fill="#ccffe0" d="M943 2610h14v14h-14z"/><path fill="#d8ffdc" d="M957 2610h14v14h-14z"/><path fill="#e8ffdc" d="M971 2610h14v14h-14z"/><path fill="#f4ffdc" d="M985 2610h14v14h-14z"/><path fill="#fffcdc" d="M999 2610h14v14h-14z"/><path fill="#fff4d0" d="M1013 2610h14v14h-14z"/><path fill="#ffe8c8" d="M1027 2610h14v14h-14z"/><path fill="#ffe0bc" d="M1041 2610h14v14h-14z"/><path fill="#ffd8b4" d="M1055 2610h14v14h-14z"/><path fill="#ffd0b0" d="M1069 2610h14v14h-14z"/><path fill="#ffc8a8" d="M1083 2610h14v14h-14z"/><path fill="#ffc0a0" d="M1097 2610h14v14h-14z"/><path fill="#ffbc9c" d="M1111 2610h14v14h-14z"/><path fill="#ffb494" d="M1125 2610h14v14h-14z"/><path fill="#ffb090" d="M1139 2610h14v14h-14z"/><path fill="#ffa88c" d="M1153 2610h14v14h-14z"/><path fill="#ffa488" d="M1167 2610h14v14h-14z"/><path fill="#ffa080" d="M1181 2610h14v14h-14z"/><path fill="#ff9c7c" d="M1195 2610h14v14h-14z"/><path fill="#ff9878" d="M1209 2610h14v14h-14z"/><path fill="#ff9474" d="M1223 2610h14v14h-14z"/><path fill="#ff9070" d="M1237 2610h14v14h-14z"/><path fill="#ff8c6c" d="M1251 2610h14v14h-14z"/><path fill="#ff8868" d="M1265 2610h14v14h-14z"/><path fill="#ff8464" d="M1279 2610h14v14h-14z"/><path fill="#ff8060" d="M1293 2610h14v14h-14z"/><path fill="#ff7c5c" d="M1307 2610h14v14h-14z"/><path fill="#ff7858" d="M1321 2610h14v14h-14z"/><path fill="#ff7454" d="M1335 2610h28v14h-28z"/><path fill="#ff7050" d="M1363 2610h14v14h-14z"/><path fill="#ff6c4c" d="M1377 2610h14v14h-14z"/><path fill="#ff6848" d="M1391 2610h14v14h-14z"/><path fill="#ff6844" d="M1405 2610h14v14h-14z"/><path fill="#ff6440" d="M1419 2610h14v14h-14z"/><path fill="#ff603c" d="M1433 2610h14v14h-14z"/><path fill="#ff5c38" d="M1447 2610h14v14h-14z"/><path fill="#ff5c34" d="M1461 2610h14v14h-14z"/><path fill="#ff5830" d="M1475 2610h14v14h-14z"/><path fill="#ff542c" d="M1489 2610h14v14h-14z"/><path fill="#ff5428" d="M1503 2610h14v14h-14z"/><path fill="#ff5024" d="M1517 2610h14v14h-14z"/><path fill="#ff4c1c" d="M1531 2610h14v14h-14z"/><path fill="#ff4c18" d="M1545 2610h14v14h-14z"/><path fill="#ff4810" d="M1559 2610h14v14h-14z"/><path fill="#ff4404" d="M1573 2610h14v14h-14z"/><path fill="#ff4400" d="M1587 2610h42v14h-42z"/><path fill="#ff4000" d="M1629 2610h84v14h-84z"/><path fill="#00fffc" d="M313 2624h42v14h-42zM327 2638h238v14h-238zM327 2652h448v14h-448z"/><path fill="#38ffe8" d="M845 2624h14v14h-14z"/><path fill="#64ffe8" d="M859 2624h14v14h-14z"/><path fill="#80ffe8" d="M873 2624h14v14h-14z"/><path fill="#94ffe8" d="M887 2624h14v14h-14z"/><path fill="#a8ffe8" d="M901 2624h14v14h-14z"/><path fill="#b8ffe8" d="M915 2624h14v14h-14z"/><path fill="#c8ffe8" d="M929 2624h14v14h-14z"/><path fill="#d8ffe8" d="M943 2624h14v14h-14z"/><path fill="#e4ffe4" d="M957 2624h14v14h-14z"/><path fill="#f0ffe4" d="M971 2624h14v14h-14z"/><path fill="#ffffe4" d="M985 2624h14v14h-14z"/><path fill="#fff4d8" d="M999 2624h14v14h-14z"/><path fill="#ffe8d0" d="M1013 2624h14v14h-14z"/><path fill="#ffe0c8" d="M1027 2624h14v14h-14z"/><path fill="#ffd8c0" d="M1041 2624h14v14h-14z"/><path fill="#ffd0b8" d="M1055 2624h14v14h-14z"/><path fill="#ffc8b0" d="M1069 2624h14v14h-14z"/><path fill="#ffc0a8" d="M1083 2624h14v14h-14z"/><path fill="#ffb8a4" d="M1097 2624h14v14h-14z"/><path fill="#ffb49c" d="M1111 2624h14v14h-14z"/><path fill="#ffac98" d="M1125 2624h14v14h-14z"/><path fill="#ffa894" d="M1139 2624h14v14h-14z"/><path fill="#ffa48c" d="M1153 2624h14v14h-14z"/><path fill="#ffa088" d="M1167 2624h14v14h-14z"/><path fill="#ff9884" d="M1181 2624h14v14h-14z"/><path fill="#ff9480" d="M1195 2624h14v14h-14z"/><path fill="#ff907c" d="M1209 2624h14v14h-14z"/><path fill="#ff8c78" d="M1223 2624h14v14h-14z"/><path fill="#ff8874" d="M1237 2624h14v14h-14z"/><path fill="#ff8470" d="M1251 2624h14v14h-14z"/><path fill="#ff806c" d="M1265 2624h14v14h-14z"/><path fill="#ff8068" d="M1279 2624h14v14h-14z"/><path fill="#ff7c64" d="M1293 2624h14v14h-14z"/><path fill="#ff7860" d="M1307 2624h14v14h-14z"/><path fill="#ff745c" d="M1321 2624h14v14h-14z"/><path fill="#ff7058" d="M1335 2624h14v14h-14z"/><path fill="#ff6c54" d="M1349 2624h28v14h-28z"/><path fill="#ff6850" d="M1377 2624h14v14h-14z"/><path fill="#ff644c" d="M1391 2624h14v14h-14z"/><path fill="#ff6048" d="M1405 2624h14v14h-14z"/><path fill="#ff6044" d="M1419 2624h14v14h-14z"/><path fill="#ff5c40" d="M1433 2624h14v14h-14z"/><path fill="#ff583c" d="M1447 2624h14v14h-14z"/><path fill="#ff543c" d="M1461 2624h14v14h-14z"/><path fill="#ff5438" d="M1475 2624h14v14h-14z"/><path fill="#ff5034" d="M1489 2624h14v14h-14z"/><path fill="#ff4c30" d="M1503 2624h14v14h-14z"/><path fill="#ff4c2c" d="M1517 2624h14v14h-14z"/><path fill="#ff4828" d="M1531 2624h14v14h-14z"/><path fill="#ff4420" d="M1545 2624h14v14h-14z"/><path fill="#ff441c" d="M1559 2624h14v14h-14z"/><path fill="#ff4014" d="M1573 2624h14v14h-14z"/><path fill="#ff3c0c" d="M1587 2624h14v14h-14z"/><path fill="#ff3800" d="M1601 2624h70v14h-70z"/><path fill="#ff3400" d="M1671 2624h56v14h-56z"/><path fill="#0cfff0" d="M831 2638h14v14h-14z"/><path fill="#54fff0" d="M845 2638h14v14h-14z"/><path fill="#74fff0" d="M859 2638h14v14h-14z"/><path fill="#8cfff0" d="M873 2638h14v14h-14z"/><path fill="#a0fff0" d="M887 2638h14v14h-14z"/><path fill="#b4fff0" d="M901 2638h14v14h-14z"/><path fill="#c4fff0" d="M915 2638h14v14h-14z"/><path fill="#d4fff0" d="M929 2638h14v14h-14z"/><path fill="#e0fff0" d="M943 2638h14v14h-14z"/><path fill="#f0fff0" d="M957 2638h14v14h-14z"/><path fill="#fcffec" d="M971 2638h14v14h-14z"/><path fill="#fff4e4" d="M985 2638h14v14h-14z"/><path fill="#ffe8d8" d="M999 2638h14v14h-14z"/><path fill="#ffe0d0" d="M1013 2638h14v14h-14z"/><path fill="#ffd8c8" d="M1027 2638h14v14h-14z"/><path fill="#ffd0c0" d="M1041 2638h14v14h-14z"/><path fill="#ffc8b8" d="M1055 2638h14v14h-14z"/><path fill="#ffc0b0" d="M1069 2638h14v14h-14z"/><path fill="#ffb8ac" d="M1083 2638h14v14h-14z"/><path fill="#ffb4a4" d="M1097 2638h14v14h-14z"/><path fill="#ffaca0" d="M1111 2638h14v14h-14z"/><path fill="#ffa898" d="M1125 2638h14v14h-14z"/><path fill="#ffa494" d="M1139 2638h14v14h-14z"/><path fill="#ff9c90" d="M1153 2638h14v14h-14z"/><path fill="#ff988c" d="M1167 2638h14v14h-14z"/><path fill="#ff9484" d="M1181 2638h14v14h-14z"/><path fill="#ff9080" d="M1195 2638h14v14h-14z"/><path fill="#ff8c7c" d="M1209 2638h14v14h-14z"/><path fill="#ff8878" d="M1223 2638h14v14h-14z"/><path fill="#ff8474" d="M1237 2638h14v14h-14z"/><path fill="#ff8070" d="M1251 2638h14v14h-14z"/><path fill="#ff7c70" d="M1265 2638h14v14h-14z"/><path fill="#ff786c" d="M1279 2638h14v14h-14z"/><path fill="#ff7468" d="M1293 2638h14v14h-14z"/><path fill="#ff7464" d="M1307 2638h14v14h-14z"/><path fill="#ff7060" d="M1321 2638h14v14h-14z"/><path fill="#ff6c5c" d="M1335 2638h14v14h-14z"/><path fill="#ff6858" d="M1349 2638h14v14h-14z"/><path fill="#ff6454" d="M1363 2638h28v14h-28z"/><path fill="#ff6050" d="M1391 2638h14v14h-14z"/><path fill="#ff5c4c" d="M1405 2638h14v14h-14z"/><path fill="#ff5848" d="M1419 2638h14v14h-14z"/><path fill="#ff5844" d="M1433 2638h14v14h-14z"/><path fill="#ff5444" d="M1447 2638h14v14h-14z"/><path fill="#ff5040" d="M1461 2638h14v14h-14z"/><path fill="#ff4c3c" d="M1475 2638h14v14h-14z"/><path fill="#ff4c38" d="M1489 2638h14v14h-14z"/><path fill="#ff4834" d="M1503 2638h14v14h-14z"/><path fill="#ff4430" d="M1517 2638h14v14h-14z"/><path fill="#ff402c" d="M1531 2638h14v14h-14z"/><path fill="#ff4028" d="M1545 2638h14v14h-14z"/><path fill="#ff3c24" d="M1559 2638h14v14h-14z"/><path fill="#ff3820" d="M1573 2638h14v14h-14z"/><path fill="#ff3418" d="M1587 2638h14v14h-14z"/><path fill="#ff3414" d="M1601 2638h14v14h-14z"/><path fill="#ff3008" d="M1615 2638h14v14h-14z"/><path fill="#ff2c00" d="M1629 2638h56v14h-56z"/><path fill="#ff2800" d="M1685 2638h70v14h-70z"/><path fill="#3cfff8" d="M831 2652h14v14h-14z"/><path fill="#68fff8" d="M845 2652h14v14h-14z"/><path fill="#84fff8" d="M859 2652h14v14h-14z"/><path fill="#98fff8" d="M873 2652h14v14h-14z"/><path fill="#acfff8" d="M887 2652h14v14h-14z"/><path fill="#c0fff8" d="M901 2652h14v14h-14z"/><path fill="#d0fff8" d="M915 2652h14v14h-14z"/><path fill="#dcfff8" d="M929 2652h14v14h-14z"/><path fill="#ecfff8" d="M943 2652h14v14h-14z"/><path fill="#f8fff8" d="M957 2652h14v14h-14z"/><path fill="#fff8f0" d="M971 2652h14v14h-14z"/><path fill="#ffece4" d="M985 2652h14v14h-14z"/><path fill="#ffe0d8" d="M999 2652h14v14h-14z"/><path fill="#ffd8d0" d="M1013 2652h14v14h-14z"/><path fill="#ffd0c8" d="M1027 2652h14v14h-14z"/><path fill="#ffc8c0" d="M1041 2652h14v14h-14z"/><path fill="#ffc0b8" d="M1055 2652h14v14h-14z"/><path fill="#ffb8b0" d="M1069 2652h14v14h-14z"/><path fill="#ffb4ac" d="M1083 2652h14v14h-14z"/><path fill="#ffaca4" d="M1097 2652h14v14h-14z"/><path fill="#ffa8a0" d="M1111 2652h14v14h-14z"/><path fill="#ffa09c" d="M1125 2652h14v14h-14z"/><path fill="#ff9c94" d="M1139 2652h14v14h-14z"/><path fill="#ff9890" d="M1153 2652h14v14h-14z"/><path fill="#ff948c" d="M1167 2652h14v14h-14z"/><path fill="#ff9088" d="M1181 2652h14v14h-14z"/><path fill="#ff8c84" d="M1195 2652h14v14h-14z"/><path fill="#ff8880" d="M1209 2652h14v14h-14z"/><path fill="#ff847c" d="M1223 2652h14v14h-14z"/><path fill="#ff8078" d="M1237 2652h14v14h-14z"/><path fill="#ff7c74" d="M1251 2652h14v14h-14z"/><path fill="#ff7870" d="M1265 2652h14v14h-14z"/><path fill="#ff746c" d="M1279 2652h14v14h-14z"/><path fill="#ff7068" d="M1293 2652h14v14h-14z"/><path fill="#ff6c68" d="M1307 2652h14v14h-14z"/><path fill="#ff6864" d="M1321 2652h14v14h-14z"/><path fill="#ff6860" d="M1335 2652h14v14h-14z"/><path fill="#ff645c" d="M1349 2652h14v14h-14z"/><path fill="#ff6058" d="M1363 2652h14v14h-14z"/><path fill="#ff5c54" d="M1377 2652h14v14h-14z"/><path fill="#ff5854" d="M1391 2652h14v14h-14z"/><path fill="#ff5850" d="M1405 2652h14v14h-14z"/><path fill="#ff544c" d="M1419 2652h14v14h-14z"/><path fill="#ff5048" d="M1433 2652h14v14h-14z"/><path fill="#ff4c48" d="M1447 2652h14v14h-14z"/><path fill="#ff4c44" d="M1461 2652h14v14h-14z"/><path fill="#ff4840" d="M1475 2652h14v14h-14z"/><path fill="#ff443c" d="M1489 2652h14v14h-14z"/><path fill="#ff4038" d="M1503 2652h14v14h-14z"/><path fill="#ff4034" d="M1517 2652h14v14h-14z"/><path fill="#ff3c34" d="M1531 2652h14v14h-14z"/><path fill="#ff3830" d="M1545 2652h14v14h-14z"/><path fill="#ff342c" d="M1559 2652h14v14h-14z"/><path fill="#ff3028" d="M1573 2652h14v14h-14z"/><path fill="#ff3020" d="M1587 2652h14v14h-14z"/><path fill="#ff2c1c" d="M1601 2652h14v14h-14z"/><path fill="#ff2818" d="M1615 2652h14v14h-14z"/><path fill="#ff2410" d="M1629 2652h14v14h-14z"/><path fill="#ff1c08" d="M1643 2652h14v14h-14z"/><path fill="#ff1c00" d="M1657 2652h14v14h-14z"/><path fill="#ff1800" d="M1671 2652h98v14h-98z"/><path fill="#00ffff" d="M327 2666h490v14h-490z"/><path fill="#14ffff" d="M817 2666h14v14h-14z"/><path fill="#58ffff" d="M831 2666h14v14h-14z"/><path fill="#78ffff" d="M845 2666h14v14h-14z"/><path fill="#90ffff" d="M859 2666h14v14h-14z"/><path fill="#a4ffff" d="M873 2666h14v14h-14z"/><path fill="#b8ffff" d="M887 2666h14v14h-14z"/><path fill="#c8ffff" d="M901 2666h14v14h-14z"/><path fill="#d8ffff" d="M915 2666h14v14h-14z"/><path fill="#e8fcff" d="M929 2666h14v14h-14z"/><path fill="#f8fcff" d="M943 2666h14v14h-14z"/><path fill="#fff8f8" d="M957 2666h14v14h-14z"/><path fill="#ffecec" d="M971 2666h14v14h-14z"/><path fill="#ffe0e4" d="M985 2666h14v14h-14z"/><path fill="#ffd8d8" d="M999 2666h14v14h-14z"/><path fill="#ffd0d0" d="M1013 2666h14v14h-14z"/><path fill="#ffc8c8" d="M1027 2666h14v14h-14z"/><path fill="#ffc0c0" d="M1041 2666h14v14h-14z"/><path fill="#ffb8b8" d="M1055 2666h14v14h-14z"/><path fill="#ffb0b4" d="M1069 2666h14v14h-14z"/><path fill="#ffacac" d="M1083 2666h14v14h-14z"/><path fill="#ffa4a8" d="M1097 2666h14v14h-14z"/><path fill="#ffa0a0" d="M1111 2666h14v14h-14z"/><path fill="#ff9c9c" d="M1125 2666h14v14h-14z"/><path fill="#ff9898" d="M1139 2666h14v14h-14z"/><path fill="#ff9094" d="M1153 2666h14v14h-14z"/><path fill="#ff8c90" d="M1167 2666h14v14h-14z"/><path fill="#ff8888" d="M1181 2666h14v14h-14z"/><path fill="#ff8484" d="M1195 2666h14v14h-14z"/><path fill="#ff8080" d="M1209 2666h14v14h-14z"/><path fill="#ff7c7c" d="M1223 2666h14v14h-14z"/><path fill="#ff787c" d="M1237 2666h14v14h-14z"/><path fill="#ff7478" d="M1251 2666h14v14h-14z"/><path fill="#ff7074" d="M1265 2666h14v14h-14z"/><path fill="#ff7070" d="M1279 2666h14v14h-14z"/><path fill="#ff6c6c" d="M1293 2666h14v14h-14z"/><path fill="#ff6868" d="M1307 2666h14v14h-14z"/><path fill="#ff6464" d="M1321 2666h14v14h-14z"/><path fill="#ff6064" d="M1335 2666h14v14h-14z"/><path fill="#ff5c60" d="M1349 2666h14v14h-14z"/><path fill="#ff5c5c" d="M1363 2666h14v14h-14z"/><path fill="#ff5858" d="M1377 2666h14v14h-14z"/><path fill="#ff5454" d="M1391 2666h14v14h-14z"/><path fill="#ff5054" d="M1405 2666h14v14h-14z"/><path fill="#ff5050" d="M1419 2666h14v14h-14z"/><path fill="#ff4c4c" d="M1433 2666h14v14h-14z"/><path fill="#ff4848" d="M1447 2666h14v14h-14z"/><path fill="#ff4448" d="M1461 2666h14v14h-14z"/><path fill="#ff4044" d="M1475 2666h14v14h-14z"/><path fill="#ff4040" d="M1489 2666h14v14h-14z"/><path fill="#ff3c3c" d="M1503 2666h14v14h-14z"/><path fill="#ff383c" d="M1517 2666h14v14h-14z"/><path fill="#ff3438" d="M1531 2666h14v14h-14z"/><path fill="#ff3034" d="M1545 2666h14v14h-14z"/><path fill="#ff2c30" d="M1559 2666h14v14h-14z"/><path fill="#ff282c" d="M1573 2666h14v14h-14z"/><path fill="#ff2428" d="M1587 2666h14v14h-14z"/><path fill="#ff2024" d="M1601 2666h14v14h-14z"/><path fill="#ff1c20" d="M1615 2666h14v14h-14z"/><path fill="#ff141c" d="M1629 2666h14v14h-14z"/><path fill="#ff1014" d="M1643 2666h14v14h-14z"/><path fill="#ff040c" d="M1657 2666h14v14h-14z"/><path fill="#ff0008" d="M1671 2666h112v14h-112z"/><path fill="#00fcff" d="M327 2680h392v14h-392zM341 2694h168v14h-168z"/><path fill="#00f8ff" d="M719 2680h98v14h-98zM509 2694h196v14h-196zM341 2708h238v14h-238zM341 2722h126v14h-126z"/><path fill="#40f8ff" d="M817 2680h14v14h-14z"/><path fill="#68f8ff" d="M831 2680h14v14h-14z"/><path fill="#84f8ff" d="M845 2680h14v14h-14z"/><path fill="#98f4ff" d="M859 2680h14v14h-14z"/><path fill="#acf4ff" d="M873 2680h14v14h-14z"/><path fill="#bcf4ff" d="M887 2680h14v14h-14z"/><path fill="#ccf4ff" d="M901 2680h14v14h-14z"/><path fill="#dcf4ff" d="M915 2680h14v14h-14z"/><path fill="#ecf4ff" d="M929 2680h14v14h-14z"/><path fill="#f8f4ff" d="M943 2680h14v14h-14z"/><path fill="#ffecf8" d="M957 2680h14v14h-14z"/><path fill="#ffe4ec" d="M971 2680h14v14h-14z"/><path fill="#ffd8e0" d="M985 2680h14v14h-14z"/><path fill="#ffd0d8" d="M999 2680h14v14h-14z"/><path fill="#ffc8d0" d="M1013 2680h14v14h-14z"/><path fill="#ffc0c8" d="M1027 2680h14v14h-14z"/><path fill="#ffb8c0" d="M1041 2680h14v14h-14z"/><path fill="#ffb0bc" d="M1055 2680h14v14h-14z"/><path fill="#ffacb4" d="M1069 2680h14v14h-14z"/><path fill="#ffa4ac" d="M1083 2680h14v14h-14z"/><path fill="#ffa0a8" d="M1097 2680h14v14h-14z"/><path fill="#ff98a4" d="M1111 2680h14v14h-14z"/><path fill="#ff949c" d="M1125 2680h14v14h-14z"/><path fill="#ff9098" d="M1139 2680h14v14h-14z"/><path fill="#ff8c94" d="M1153 2680h14v14h-14z"/><path fill="#ff8890" d="M1167 2680h14v14h-14z"/><path fill="#ff848c" d="M1181 2680h14v14h-14z"/><path fill="#ff8088" d="M1195 2680h14v14h-14z"/><path fill="#ff7c84" d="M1209 2680h14v14h-14z"/><path fill="#ff7880" d="M1223 2680h14v14h-14z"/><path fill="#ff747c" d="M1237 2680h14v14h-14z"/><path fill="#ff7078" d="M1251 2680h14v14h-14z"/><path fill="#ff6c74" d="M1265 2680h14v14h-14z"/><path fill="#ff6870" d="M1279 2680h14v14h-14z"/><path fill="#ff6470" d="M1293 2680h14v14h-14z"/><path fill="#ff606c" d="M1307 2680h14v14h-14z"/><path fill="#ff6068" d="M1321 2680h14v14h-14z"/><path fill="#ff5c64" d="M1335 2680h14v14h-14z"/><path fill="#ff5860" d="M1349 2680h14v14h-14z"/><path fill="#ff5460" d="M1363 2680h14v14h-14z"/><path fill="#ff505c" d="M1377 2680h14v14h-14z"/><path fill="#ff5058" d="M1391 2680h14v14h-14z"/><path fill="#ff4c54" d="M1405 2680h14v14h-14z"/><path fill="#ff4854" d="M1419 2680h14v14h-14z"/><path fill="#ff4450" d="M1433 2680h14v14h-14z"/><path fill="#ff404c" d="M1447 2680h28v14h-28z"/><path fill="#ff3c48" d="M1475 2680h14v14h-14z"/><path fill="#ff3844" d="M1489 2680h14v14h-14z"/><path fill="#ff3440" d="M1503 2680h14v14h-14z"/><path fill="#ff3040" d="M1517 2680h14v14h-14z"/><path fill="#ff2c3c" d="M1531 2680h14v14h-14z"/><path fill="#ff2838" d="M1545 2680h14v14h-14z"/><path fill="#ff2434" d="M1559 2680h14v14h-14z"/><path fill="#ff2030" d="M1573 2680h14v14h-14z"/><path fill="#ff1830" d="M1587 2680h14v14h-14z"/><path fill="#ff142c" d="M1601 2680h14v14h-14z"/><path fill="#ff0828" d="M1615 2680h14v14h-14z"/><path fill="#ff0024" d="M1629 2680h42v14h-42z"/><path fill="#ff0020" d="M1671 2680h140v14h-140z"/><path fill="#00f4ff" d="M705 2694h70v14h-70zM579 2708h112v14h-112zM467 2722h140v14h-140zM355 2736h168v14h-168zM355 2750h84v14h-84z"/><path fill="#00f0ff" d="M775 2694h28v14h-28zM691 2708h56v14h-56zM607 2722h84v14h-84zM523 2736h98v14h-98zM439 2750h112v14h-112zM355 2764h126v14h-126zM355 2778h56v14h-56z"/><path fill="#18f0ff" d="M803 2694h14v14h-14z"/><path fill="#54f0ff" d="M817 2694h14v14h-14z"/><path fill="#74f0ff" d="M831 2694h14v14h-14z"/><path fill="#8cf0ff" d="M845 2694h14v14h-14z"/><path fill="#a0ecff" d="M859 2694h14v14h-14z"/><path fill="#b4ecff" d="M873 2694h14v14h-14z"/><path fill="#c4ecff" d="M887 2694h14v14h-14z"/><path fill="#d4ecff" d="M901 2694h14v14h-14z"/><path fill="#e0ecff" d="M915 2694h14v14h-14z"/><path fill="#f0ecff" d="M929 2694h14v14h-14z"/><path fill="#fcecff" d="M943 2694h14v14h-14z"/><path fill="#ffe4f8" d="M957 2694h14v14h-14z"/><path fill="#ffd8ec" d="M971 2694h14v14h-14z"/><path fill="#ffd0e0" d="M985 2694h14v14h-14z"/><path fill="#ffc8d8" d="M999 2694h14v14h-14z"/><path fill="#ffc0d0" d="M1013 2694h14v14h-14z"/><path fill="#ffb8c8" d="M1027 2694h14v14h-14z"/><path fill="#ffb0c0" d="M1041 2694h14v14h-14z"/><path fill="#ffa8bc" d="M1055 2694h14v14h-14z"/><path fill="#ffa4b4" d="M1069 2694h14v14h-14z"/><path fill="#ffa0b0" d="M1083 2694h14v14h-14z"/><path fill="#ff98a8" d="M1097 2694h14v14h-14z"/><path fill="#ff94a4" d="M1111 2694h14v14h-14z"/><path fill="#ff90a0" d="M1125 2694h14v14h-14z"/><path fill="#ff889c" d="M1139 2694h14v14h-14z"/><path fill="#ff8494" d="M1153 2694h14v14h-14z"/><path fill="#ff8090" d="M1167 2694h14v14h-14z"/><path fill="#ff7c8c" d="M1181 2694h14v14h-14z"/><path fill="#ff7888" d="M1195 2694h14v14h-14z"/><path fill="#ff7484" d="M1209 2694h14v14h-14z"/><path fill="#ff7084" d="M1223 2694h14v14h-14z"/><path fill="#ff6c80" d="M1237 2694h14v14h-14z"/><path fill="#ff687c" d="M1251 2694h14v14h-14z"/><path fill="#ff6878" d="M1265 2694h14v14h-14z"/><path fill="#ff6474" d="M1279 2694h14v14h-14z"/><path fill="#ff6070" d="M1293 2694h14v14h-14z"/><path fill="#ff5c6c" d="M1307 2694h14v14h-14z"/><path fill="#ff586c" d="M1321 2694h14v14h-14z"/><path fill="#ff5468" d="M1335 2694h14v14h-14z"/><path fill="#ff5064" d="M1349 2694h14v14h-14z"/><path fill="#ff5060" d="M1363 2694h14v14h-14z"/><path fill="#ff4c60" d="M1377 2694h14v14h-14z"/><path fill="#ff485c" d="M1391 2694h14v14h-14z"/><path fill="#ff4458" d="M1405 2694h14v14h-14z"/><path fill="#ff4054" d="M1419 2694h14v14h-14z"/><path fill="#ff3c54" d="M1433 2694h14v14h-14z"/><path fill="#ff3c50" d="M1447 2694h14v14h-14z"/><path fill="#ff384c" d="M1461 2694h14v14h-14z"/><path fill="#ff344c" d="M1475 2694h14v14h-14z"/><path fill="#ff3048" d="M1489 2694h14v14h-14z"/><path fill="#ff2c44" d="M1503 2694h14v14h-14z"/><path fill="#ff2844" d="M1517 2694h14v14h-14z"/><path fill="#ff2440" d="M1531 2694h14v14h-14z"/><path fill="#ff1c3c" d="M1545 2694h14v14h-14z"/><path fill="#ff1838" d="M1559 2694h14v14h-14z"/><path fill="#ff1038" d="M1573 2694h14v14h-14z"/><path fill="#ff0434" d="M1587 2694h14v14h-14z"/><path fill="#ff0030" d="M1601 2694h112v14h-112z"/><path fill="#ff002c" d="M1713 2694h112v14h-112z"/><path fill="#00ecff" d="M747 2708h42v14h-42zM691 2722h42v14h-42zM621 2736h56v14h-56zM551 2750h70v14h-70zM481 2764h84v14h-84zM411 2778h98v14h-98zM369 2792h84v14h-84zM369 2806h28v14h-28z"/><path fill="#00e8ff" d="M789 2708h14v14h-14zM733 2722h28v14h-28zM677 2736h42v14h-42zM621 2750h56v14h-56zM565 2764h56v14h-56zM509 2778h70v14h-70zM453 2792h70v14h-70zM397 2806h84v14h-84zM369 2820h70v14h-70z"/><path fill="#40e8ff" d="M803 2708h14v14h-14z"/><path fill="#64e8ff" d="M817 2708h14v14h-14z"/><path fill="#80e8ff" d="M831 2708h14v14h-14z"/><path fill="#94e8ff" d="M845 2708h14v14h-14z"/><path fill="#a8e8ff" d="M859 2708h14v14h-14z"/><path fill="#b8e4ff" d="M873 2708h14v14h-14z"/><path fill="#c8e4ff" d="M887 2708h14v14h-14z"/><path fill="#d4e4ff" d="M901 2708h14v14h-14z"/><path fill="#e4e4ff" d="M915 2708h14v14h-14z"/><path fill="#f0e4ff" d="M929 2708h14v14h-14z"/><path fill="#fce4ff" d="M943 2708h14v14h-14z"/><path fill="#ffd8f4" d="M957 2708h14v14h-14z"/><path fill="#ffd0ec" d="M971 2708h14v14h-14z"/><path fill="#ffc8e0" d="M985 2708h14v14h-14z"/><path fill="#ffc0d8" d="M999 2708h14v14h-14z"/><path fill="#ffb8d0" d="M1013 2708h14v14h-14z"/><path fill="#ffb0c8" d="M1027 2708h14v14h-14z"/><path fill="#ffa8c0" d="M1041 2708h14v14h-14z"/><path fill="#ffa4bc" d="M1055 2708h14v14h-14z"/><path fill="#ff9cb4" d="M1069 2708h14v14h-14z"/><path fill="#ff98b0" d="M1083 2708h14v14h-14z"/><path fill="#ff94ac" d="M1097 2708h14v14h-14z"/><path fill="#ff8ca4" d="M1111 2708h14v14h-14z"/><path fill="#ff88a0" d="M1125 2708h14v14h-14z"/><path fill="#ff849c" d="M1139 2708h14v14h-14z"/><path fill="#ff8098" d="M1153 2708h14v14h-14z"/><path fill="#ff7c94" d="M1167 2708h14v14h-14z"/><path fill="#ff7890" d="M1181 2708h14v14h-14z"/><path fill="#ff748c" d="M1195 2708h14v14h-14z"/><path fill="#ff7088" d="M1209 2708h14v14h-14z"/><path fill="#ff6c84" d="M1223 2708h14v14h-14z"/><path fill="#ff6880" d="M1237 2708h14v14h-14z"/><path fill="#ff647c" d="M1251 2708h14v14h-14z"/><path fill="#ff6078" d="M1265 2708h14v14h-14z"/><path fill="#ff5c78" d="M1279 2708h14v14h-14z"/><path fill="#ff5874" d="M1293 2708h14v14h-14z"/><path fill="#ff5470" d="M1307 2708h14v14h-14z"/><path fill="#ff546c" d="M1321 2708h14v14h-14z"/><path fill="#ff5068" d="M1335 2708h14v14h-14z"/><path fill="#ff4c68" d="M1349 2708h14v14h-14z"/><path fill="#ff4864" d="M1363 2708h14v14h-14z"/><path fill="#ff4460" d="M1377 2708h14v14h-14z"/><path fill="#ff4060" d="M1391 2708h14v14h-14z"/><path fill="#ff3c5c" d="M1405 2708h14v14h-14z"/><path fill="#ff3858" d="M1419 2708h14v14h-14z"/><path fill="#ff3854" d="M1433 2708h14v14h-14z"/><path fill="#ff3454" d="M1447 2708h14v14h-14z"/><path fill="#ff3050" d="M1461 2708h14v14h-14z"/><path fill="#ff284c" d="M1475 2708h14v14h-14z"/><path fill="#ff244c" d="M1489 2708h14v14h-14z"/><path fill="#ff2048" d="M1503 2708h14v14h-14z"/><path fill="#ff1c44" d="M1517 2708h14v14h-14z"/><path fill="#ff1444" d="M1531 2708h14v14h-14z"/><path fill="#ff0c40" d="M1545 2708h14v14h-14z"/><path fill="#ff003c" d="M1559 2708h84v14h-84zM1741 2722h126v14h-126z"/><path fill="#ff0038" d="M1643 2708h112v14h-112z"/><path fill="#ff0034" d="M1755 2708h98v14h-98z"/><path fill="#00e4ff" d="M761 2722h28v14h-28zM719 2736h28v14h-28zM677 2750h28v14h-28zM621 2764h42v14h-42zM579 2778h42v14h-42zM523 2792h56v14h-56zM481 2806h56v14h-56zM439 2820h56v14h-56zM383 2834h70v14h-70zM383 2848h28v14h-28z"/><path fill="#1ce0ff" d="M789 2722h14v14h-14z"/><path fill="#54e0ff" d="M803 2722h14v14h-14z"/><path fill="#70e0ff" d="M817 2722h14v14h-14z"/><path fill="#88e0ff" d="M831 2722h14v14h-14z"/><path fill="#9ce0ff" d="M845 2722h14v14h-14z"/><path fill="#ace0ff" d="M859 2722h14v14h-14z"/><path fill="#bcdcff" d="M873 2722h14v14h-14z"/><path fill="#ccdcff" d="M887 2722h14v14h-14z"/><path fill="#d8dcff" d="M901 2722h14v14h-14z"/><path fill="#e8dcff" d="M915 2722h14v14h-14z"/><path fill="#f4dcff" d="M929 2722h14v14h-14z"/><path fill="#ffdcff" d="M943 2722h14v14h-14z"/><path fill="#ffd0f4" d="M957 2722h14v14h-14z"/><path fill="#ffc8e8" d="M971 2722h14v14h-14z"/><path fill="#ffbce0" d="M985 2722h14v14h-14z"/><path fill="#ffb4d8" d="M999 2722h14v14h-14z"/><path fill="#ffb0d0" d="M1013 2722h14v14h-14z"/><path fill="#ffa8c8" d="M1027 2722h14v14h-14z"/><path fill="#ffa0c4" d="M1041 2722h14v14h-14z"/><path fill="#ff9cbc" d="M1055 2722h14v14h-14z"/><path fill="#ff94b8" d="M1069 2722h14v14h-14z"/><path fill="#ff90b0" d="M1083 2722h14v14h-14z"/><path fill="#ff8cac" d="M1097 2722h14v14h-14z"/><path fill="#ff88a8" d="M1111 2722h14v14h-14z"/><path fill="#ff80a0" d="M1125 2722h14v14h-14z"/><path fill="#ff7c9c" d="M1139 2722h14v14h-14z"/><path fill="#ff7898" d="M1153 2722h14v14h-14z"/><path fill="#ff7494" d="M1167 2722h14v14h-14z"/><path fill="#ff7090" d="M1181 2722h14v14h-14z"/><path fill="#ff6c8c" d="M1195 2722h14v14h-14z"/><path fill="#ff6888" d="M1209 2722h14v14h-14z"/><path fill="#ff6484" d="M1223 2722h14v14h-14z"/><path fill="#ff6084" d="M1237 2722h14v14h-14z"/><path fill="#ff5c80" d="M1251 2722h14v14h-14z"/><path fill="#ff587c" d="M1265 2722h14v14h-14z"/><path fill="#ff5878" d="M1279 2722h14v14h-14z"/><path fill="#ff5474" d="M1293 2722h14v14h-14z"/><path fill="#ff5074" d="M1307 2722h14v14h-14z"/><path fill="#ff4c70" d="M1321 2722h14v14h-14z"/><path fill="#ff486c" d="M1335 2722h14v14h-14z"/><path fill="#ff4468" d="M1349 2722h14v14h-14z"/><path fill="#ff4068" d="M1363 2722h14v14h-14z"/><path fill="#ff3c64" d="M1377 2722h14v14h-14z"/><path fill="#ff3860" d="M1391 2722h14v14h-14z"/><path fill="#ff3460" d="M1405 2722h14v14h-14z"/><path fill="#ff305c" d="M1419 2722h14v14h-14z"/><path fill="#ff2c58" d="M1433 2722h14v14h-14z"/><path fill="#ff2854" d="M1447 2722h14v14h-14z"/><path fill="#ff2454" d="M1461 2722h14v14h-14z"/><path fill="#ff2050" d="M1475 2722h14v14h-14z"/><path fill="#ff1850" d="M1489 2722h14v14h-14z"/><path fill="#ff104c" d="M1503 2722h14v14h-14z"/><path fill="#ff0448" d="M1517 2722h14v14h-14z"/><path fill="#ff0048" d="M1531 2722h28v14h-28zM1615 2736h98v14h-98zM1741 2750h112v14h-112zM1881 2764h28v14h-28z"/><path fill="#ff0044" d="M1559 2722h84v14h-84zM1713 2736h98v14h-98zM1853 2750h42v14h-42z"/><path fill="#ff0040" d="M1643 2722h98v14h-98zM1811 2736h70v14h-70z"/><path fill="#00e0ff" d="M747 2736h28v14h-28zM705 2750h28v14h-28zM663 2764h28v14h-28zM621 2778h42v14h-42zM579 2792h42v14h-42zM537 2806h42v14h-42zM495 2820h56v14h-56zM453 2834h56v14h-56zM411 2848h56v14h-56zM397 2862h42v14h-42z"/><path fill="#00dcff" d="M775 2736h14v14h-14zM733 2750h14v14h-14zM691 2764h28v14h-28zM663 2778h28v14h-28zM621 2792h28v14h-28zM579 2806h42v14h-42zM551 2820h28v14h-28zM509 2834h42v14h-42zM467 2848h56v14h-56zM439 2862h42v14h-42zM397 2876h56v14h-56zM397 2890h14v14h-14z"/><path fill="#40d8ff" d="M789 2736h14v14h-14z"/><path fill="#64d8ff" d="M803 2736h14v14h-14z"/><path fill="#7cd8ff" d="M817 2736h14v14h-14z"/><path fill="#90d8ff" d="M831 2736h14v14h-14z"/><path fill="#a4d8ff" d="M845 2736h14v14h-14z"/><path fill="#b4d8ff" d="M859 2736h14v14h-14z"/><path fill="#c0d4ff" d="M873 2736h14v14h-14z"/><path fill="#d0d4ff" d="M887 2736h14v14h-14z"/><path fill="#dcd4ff" d="M901 2736h14v14h-14z"/><path fill="#e8d4ff" d="M915 2736h14v14h-14z"/><path fill="#f4d4ff" d="M929 2736h14v14h-14z"/><path fill="#ffd0fc" d="M943 2736h14v14h-14z"/><path fill="#ffc8f4" d="M957 2736h14v14h-14z"/><path fill="#ffbce8" d="M971 2736h14v14h-14z"/><path fill="#ffb4e0" d="M985 2736h14v14h-14z"/><path fill="#ffacd8" d="M999 2736h14v14h-14z"/><path fill="#ffa8d0" d="M1013 2736h14v14h-14z"/><path fill="#ffa0c8" d="M1027 2736h14v14h-14z"/><path fill="#ff98c4" d="M1041 2736h14v14h-14z"/><path fill="#ff94bc" d="M1055 2736h14v14h-14z"/><path fill="#ff90b8" d="M1069 2736h14v14h-14z"/><path fill="#ff88b0" d="M1083 2736h14v14h-14z"/><path fill="#ff84ac" d="M1097 2736h14v14h-14z"/><path fill="#ff80a8" d="M1111 2736h14v14h-14z"/><path fill="#ff7ca4" d="M1125 2736h14v14h-14z"/><path fill="#ff78a0" d="M1139 2736h14v14h-14z"/><path fill="#ff749c" d="M1153 2736h14v14h-14z"/><path fill="#ff7098" d="M1167 2736h14v14h-14z"/><path fill="#ff6c94" d="M1181 2736h14v14h-14z"/><path fill="#ff6890" d="M1195 2736h14v14h-14z"/><path fill="#ff648c" d="M1209 2736h14v14h-14z"/><path fill="#ff6088" d="M1223 2736h14v14h-14z"/><path fill="#ff5c84" d="M1237 2736h14v14h-14z"/><path fill="#ff5880" d="M1251 2736h14v14h-14z"/><path fill="#ff547c" d="M1265 2736h14v14h-14z"/><path fill="#ff507c" d="M1279 2736h14v14h-14z"/><path fill="#ff4c78" d="M1293 2736h14v14h-14z"/><path fill="#ff4874" d="M1307 2736h14v14h-14z"/><path fill="#ff4470" d="M1321 2736h14v14h-14z"/><path fill="#ff4070" d="M1335 2736h14v14h-14z"/><path fill="#ff3c6c" d="M1349 2736h14v14h-14z"/><path fill="#ff3868" d="M1363 2736h14v14h-14z"/><path fill="#ff3464" d="M1377 2736h14v14h-14z"/><path fill="#ff3064" d="M1391 2736h14v14h-14z"/><path fill="#ff2c60" d="M1405 2736h14v14h-14z"/><path fill="#ff285c" d="M1419 2736h14v14h-14z"/><path fill="#ff205c" d="M1433 2736h14v14h-14z"/><path fill="#ff1c58" d="M1447 2736h14v14h-14z"/><path fill="#ff1454" d="M1461 2736h14v14h-14z"/><path fill="#ff0c54" d="M1475 2736h14v14h-14z"/><path fill="#ff0050" d="M1489 2736h56v14h-56zM1587 2750h70v14h-70zM1685 2764h84v14h-84zM1783 2778h112v14h-112z"/><path fill="#ff004c" d="M1545 2736h70v14h-70zM1657 2750h84v14h-84zM1769 2764h112v14h-112z"/><path fill="#00d8ff" d="M747 2750h28v14h-28zM719 2764h14v14h-14zM691 2778h14v14h-14zM649 2792h28v14h-28zM621 2806h28v14h-28zM579 2820h42v14h-42zM551 2834h28v14h-28zM523 2848h28v14h-28zM481 2862h42v14h-42zM453 2876h42v14h-42zM411 2890h56v14h-56zM411 2904h14v14h-14z"/><path fill="#20d4ff" d="M775 2750h14v14h-14z"/><path fill="#54d4ff" d="M789 2750h14v14h-14z"/><path fill="#70d0ff" d="M803 2750h14v14h-14z"/><path fill="#84d0ff" d="M817 2750h14v14h-14z"/><path fill="#98d0ff" d="M831 2750h14v14h-14z"/><path fill="#a8d0ff" d="M845 2750h14v14h-14z"/><path fill="#b8d0ff" d="M859 2750h14v14h-14z"/><path fill="#c8ccff" d="M873 2750h14v14h-14z"/><path fill="#d4ccff" d="M887 2750h14v14h-14z"/><path fill="#e0ccff" d="M901 2750h14v14h-14z"/><path fill="#ecccff" d="M915 2750h14v14h-14z"/><path fill="#f8c8ff" d="M929 2750h14v14h-14z"/><path fill="#ffc4fc" d="M943 2750h14v14h-14z"/><path fill="#ffbcf0" d="M957 2750h14v14h-14z"/><path fill="#ffb4e8" d="M971 2750h14v14h-14z"/><path fill="#fface0" d="M985 2750h14v14h-14z"/><path fill="#ffa4d8" d="M999 2750h14v14h-14z"/><path fill="#ffa0d0" d="M1013 2750h14v14h-14z"/><path fill="#ff98c8" d="M1027 2750h14v14h-14z"/><path fill="#ff94c4" d="M1041 2750h14v14h-14z"/><path fill="#ff8cbc" d="M1055 2750h14v14h-14z"/><path fill="#ff88b8" d="M1069 2750h14v14h-14z"/><path fill="#ff84b4" d="M1083 2750h14v14h-14z"/><path fill="#ff7cac" d="M1097 2750h14v14h-14z"/><path fill="#ff78a8" d="M1111 2750h14v14h-14z"/><path fill="#ff74a4" d="M1125 2750h14v14h-14z"/><path fill="#ff70a0" d="M1139 2750h14v14h-14z"/><path fill="#ff6c9c" d="M1153 2750h14v14h-14z"/><path fill="#ff6898" d="M1167 2750h14v14h-14z"/><path fill="#ff6494" d="M1181 2750h14v14h-14z"/><path fill="#ff6090" d="M1195 2750h14v14h-14z"/><path fill="#ff5c8c" d="M1209 2750h14v14h-14z"/><path fill="#ff5888" d="M1223 2750h14v14h-14z"/><path fill="#ff5484" d="M1237 2750h14v14h-14z"/><path fill="#ff5084" d="M1251 2750h14v14h-14z"/><path fill="#ff4c80" d="M1265 2750h14v14h-14z"/><path fill="#ff487c" d="M1279 2750h14v14h-14z"/><path fill="#ff4478" d="M1293 2750h14v14h-14z"/><path fill="#ff4074" d="M1307 2750h14v14h-14z"/><path fill="#ff3c74" d="M1321 2750h14v14h-14z"/><path fill="#ff3870" d="M1335 2750h14v14h-14z"/><path fill="#ff346c" d="M1349 2750h14v14h-14z"/><path fill="#ff306c" d="M1363 2750h14v14h-14z"/><path fill="#ff2c68" d="M1377 2750h14v14h-14z"/><path fill="#ff2464" d="M1391 2750h14v14h-14z"/><path fill="#ff2064" d="M1405 2750h14v14h-14z"/><path fill="#ff1860" d="M1419 2750h14v14h-14z"/><path fill="#ff105c" d="M1433 2750h14v14h-14z"/><path fill="#ff045c" d="M1447 2750h14v14h-14z"/><path fill="#ff0058" d="M1461 2750h56v14h-56zM1545 2764h70v14h-70zM1629 2778h70v14h-70zM1699 2792h98v14h-98zM1783 2806h70v14h-70z"/><path fill="#ff0054" d="M1517 2750h70v14h-70zM1615 2764h70v14h-70zM1699 2778h84v14h-84zM1797 2792h84v14h-84z"/><path fill="#00d4ff" d="M733 2764h28v14h-28zM705 2778h14v14h-14zM677 2792h14v14h-14zM649 2806h14v14h-14zM621 2820h14v14h-14zM579 2834h28v14h-28zM551 2848h28v14h-28zM523 2862h28v14h-28zM495 2876h28v14h-28zM467 2890h28v14h-28zM425 2904h42v14h-42zM411 2918h28v14h-28z"/><path fill="#00d0ff" d="M761 2764h14v14h-14zM719 2778h28v14h-28zM691 2792h28v14h-28zM663 2806h28v14h-28zM635 2820h28v14h-28zM607 2834h28v14h-28zM579 2848h28v14h-28zM551 2862h28v14h-28zM523 2876h28v14h-28zM495 2890h28v14h-28zM467 2904h28v14h-28zM439 2918h28v14h-28zM425 2932h28v14h-28z"/><path fill="#40ccff" d="M775 2764h14v14h-14z"/><path fill="#60ccff" d="M789 2764h14v14h-14z"/><path fill="#78ccff" d="M803 2764h14v14h-14z"/><path fill="#8cc8ff" d="M817 2764h14v14h-14z"/><path fill="#a0c8ff" d="M831 2764h14v14h-14z"/><path fill="#b0c8ff" d="M845 2764h14v14h-14z"/><path fill="#bcc8ff" d="M859 2764h14v14h-14z"/><path fill="#c8c4ff" d="M873 2764h14v14h-14z"/><path fill="#d8c4ff" d="M887 2764h14v14h-14z"/><path fill="#e4c4ff" d="M901 2764h14v14h-14z"/><path fill="#f0c4ff" d="M915 2764h14v14h-14z"/><path fill="#f8c0ff" d="M929 2764h14v14h-14z"/><path fill="#ffbcf8" d="M943 2764h14v14h-14z"/><path fill="#ffb4f0" d="M957 2764h14v14h-14z"/><path fill="#fface8" d="M971 2764h14v14h-14z"/><path fill="#ffa4e0" d="M985 2764h14v14h-14z"/><path fill="#ff9cd8" d="M999 2764h14v14h-14z"/><path fill="#ff98d0" d="M1013 2764h14v14h-14z"/><path fill="#ff90c8" d="M1027 2764h14v14h-14z"/><path fill="#ff8cc4" d="M1041 2764h14v14h-14z"/><path fill="#ff84bc" d="M1055 2764h14v14h-14z"/><path fill="#ff80b8" d="M1069 2764h14v14h-14z"/><path fill="#ff7cb4" d="M1083 2764h14v14h-14z"/><path fill="#ff78b0" d="M1097 2764h14v14h-14z"/><path fill="#ff70a8" d="M1111 2764h14v14h-14z"/><path fill="#ff6ca4" d="M1125 2764h14v14h-14z"/><path fill="#ff68a0" d="M1139 2764h14v14h-14z"/><path fill="#ff649c" d="M1153 2764h14v14h-14z"/><path fill="#ff6098" d="M1167 2764h14v14h-14z"/><path fill="#ff5c94" d="M1181 2764h14v14h-14z"/><path fill="#ff5890" d="M1195 2764h14v14h-14z"/><path fill="#ff548c" d="M1209 2764h14v14h-14z"/><path fill="#ff508c" d="M1223 2764h14v14h-14z"/><path fill="#ff4c88" d="M1237 2764h14v14h-14z"/><path fill="#ff4884" d="M1251 2764h14v14h-14z"/><path fill="#ff4480" d="M1265 2764h14v14h-14z"/><path fill="#ff407c" d="M1279 2764h14v14h-14z"/><path fill="#ff3c7c" d="M1293 2764h14v14h-14z"/><path fill="#ff3878" d="M1307 2764h14v14h-14z"/><path fill="#ff3474" d="M1321 2764h14v14h-14z"/><path fill="#ff3074" d="M1335 2764h14v14h-14z"/><path fill="#ff2870" d="M1349 2764h14v14h-14z"/><path fill="#ff246c" d="M1363 2764h14v14h-14z"/><path fill="#ff1c6c" d="M1377 2764h14v14h-14z"/><path fill="#ff1868" d="M1391 2764h14v14h-14z"/><path fill="#ff0c64" d="M1405 2764h14v14h-14z"/><path fill="#ff0064" d="M1419 2764h14v14h-14zM1447 2778h56v14h-56zM1503 2792h56v14h-56zM1573 2806h56v14h-56zM1629 2820h70v14h-70zM1685 2834h84v14h-84z"/><path fill="#ff0060" d="M1433 2764h56v14h-56zM1503 2778h56v14h-56zM1559 2792h70v14h-70zM1629 2806h70v14h-70zM1699 2820h84v14h-84z"/><path fill="#ff005c" d="M1489 2764h56v14h-56zM1559 2778h70v14h-70zM1629 2792h70v14h-70zM1699 2806h84v14h-84zM1783 2820h28v14h-28z"/><path fill="#00ccff" d="M747 2778h14v14h-14zM719 2792h14v14h-14zM691 2806h14v14h-14zM663 2820h14v14h-14zM635 2834h14v14h-14zM607 2848h14v14h-14zM579 2862h28v14h-28zM551 2876h28v14h-28zM523 2890h28v14h-28zM495 2904h28v14h-28zM467 2918h28v14h-28zM453 2932h28v14h-28zM425 2946h28v14h-28z"/><path fill="#20c4ff" d="M761 2778h14v14h-14z"/><path fill="#50c4ff" d="M775 2778h14v14h-14z"/><path fill="#6cc4ff" d="M789 2778h14v14h-14z"/><path fill="#84c4ff" d="M803 2778h14v14h-14z"/><path fill="#94c4ff" d="M817 2778h14v14h-14z"/><path fill="#a4c0ff" d="M831 2778h14v14h-14z"/><path fill="#b4c0ff" d="M845 2778h14v14h-14z"/><path fill="#c0c0ff" d="M859 2778h14v14h-14z"/><path fill="#ccbcff" d="M873 2778h14v14h-14z"/><path fill="#d8bcff" d="M887 2778h14v14h-14z"/><path fill="#e4bcff" d="M901 2778h14v14h-14z"/><path fill="#f0bcff" d="M915 2778h14v14h-14z"/><path fill="#fcb8ff" d="M929 2778h14v14h-14z"/><path fill="#ffb4f8" d="M943 2778h14v14h-14z"/><path fill="#ffacf0" d="M957 2778h14v14h-14z"/><path fill="#ffa4e8" d="M971 2778h14v14h-14z"/><path fill="#ff9ce0" d="M985 2778h14v14h-14z"/><path fill="#ff94d8" d="M999 2778h14v14h-14z"/><path fill="#ff90d0" d="M1013 2778h14v14h-14z"/><path fill="#ff88c8" d="M1027 2778h14v14h-14z"/><path fill="#ff84c4" d="M1041 2778h14v14h-14z"/><path fill="#ff7cc0" d="M1055 2778h14v14h-14z"/><path fill="#ff78b8" d="M1069 2778h14v14h-14z"/><path fill="#ff74b4" d="M1083 2778h14v14h-14z"/><path fill="#ff70b0" d="M1097 2778h14v14h-14z"/><path fill="#ff6cac" d="M1111 2778h14v14h-14z"/><path fill="#ff64a8" d="M1125 2778h14v14h-14z"/><path fill="#ff60a0" d="M1139 2778h14v14h-14z"/><path fill="#ff5c9c" d="M1153 2778h14v14h-14z"/><path fill="#ff589c" d="M1167 2778h14v14h-14z"/><path fill="#ff5498" d="M1181 2778h14v14h-14z"/><path fill="#ff5094" d="M1195 2778h14v14h-14z"/><path fill="#ff4c90" d="M1209 2778h14v14h-14z"/><path fill="#ff488c" d="M1223 2778h14v14h-14z"/><path fill="#ff4488" d="M1237 2778h14v14h-14z"/><path fill="#ff4084" d="M1251 2778h14v14h-14z"/><path fill="#ff3c84" d="M1265 2778h14v14h-14z"/><path fill="#ff3880" d="M1279 2778h14v14h-14z"/><path fill="#ff307c" d="M1293 2778h14v14h-14z"/><path fill="#ff2c78" d="M1307 2778h14v14h-14z"/><path fill="#ff2878" d="M1321 2778h14v14h-14z"/><path fill="#ff2074" d="M1335 2778h14v14h-14z"/><path fill="#ff1c70" d="M1349 2778h14v14h-14z"/><path fill="#ff1470" d="M1363 2778h14v14h-14z"/><path fill="#ff046c" d="M1377 2778h14v14h-14z"/><path fill="#ff006c" d="M1391 2778h14v14h-14zM1405 2792h56v14h-56zM1461 2806h42v14h-42zM1503 2820h56v14h-56zM1559 2834h56v14h-56zM1601 2848h70v14h-70zM1657 2862h28v14h-28z"/><path fill="#ff0068" d="M1405 2778h42v14h-42zM1461 2792h42v14h-42zM1503 2806h70v14h-70zM1559 2820h70v14h-70zM1615 2834h70v14h-70zM1671 2848h56v14h-56z"/><path fill="#00c8ff" d="M733 2792h14v14h-14zM705 2806h14v14h-14zM677 2820h14v14h-14zM649 2834h14v14h-14zM621 2848h28v14h-28zM607 2862h14v14h-14zM579 2876h14v14h-14zM551 2890h28v14h-28zM523 2904h28v14h-28zM495 2918h28v14h-28zM481 2932h28v14h-28zM453 2946h28v14h-28zM439 2960h14v14h-14z"/><path fill="#00c0ff" d="M747 2792h14v14h-14zM705 2820h14v14h-14zM663 2848h14v14h-14zM635 2862h14v14h-14zM621 2876h14v14h-14zM593 2890h14v14h-14zM565 2904h28v14h-28zM551 2918h14v14h-14zM523 2932h28v14h-28zM509 2946h14v14h-14zM481 2960h14v14h-14zM453 2974h28v14h-28z"/><path fill="#40c0ff" d="M761 2792h14v14h-14z"/><path fill="#60bcff" d="M775 2792h14v14h-14z"/><path fill="#78bcff" d="M789 2792h14v14h-14z"/><path fill="#8cbcff" d="M803 2792h14v14h-14z"/><path fill="#9cbcff" d="M817 2792h14v14h-14z"/><path fill="#acb8ff" d="M831 2792h14v14h-14z"/><path fill="#b8b8ff" d="M845 2792h14v14h-14z"/><path fill="#c4b8ff" d="M859 2792h14v14h-14z"/><path fill="#d0b4ff" d="M873 2792h14v14h-14z"/><path fill="#dcb4ff" d="M887 2792h14v14h-14z"/><path fill="#e8b4ff" d="M901 2792h14v14h-14z"/><path fill="#f4b0ff" d="M915 2792h14v14h-14z"/><path fill="#fcb0ff" d="M929 2792h14v14h-14z"/><path fill="#ffa8f8" d="M943 2792h14v14h-14z"/><path fill="#ffa0ec" d="M957 2792h14v14h-14z"/><path fill="#ff98e4" d="M971 2792h14v14h-14z"/><path fill="#ff94dc" d="M985 2792h14v14h-14z"/><path fill="#ff8cd8" d="M999 2792h14v14h-14z"/><path fill="#ff88d0" d="M1013 2792h14v14h-14z"/><path fill="#ff80c8" d="M1027 2792h14v14h-14z"/><path fill="#ff7cc4" d="M1041 2792h14v14h-14z"/><path fill="#ff78c0" d="M1055 2792h14v14h-14z"/><path fill="#ff70b8" d="M1069 2792h14v14h-14z"/><path fill="#ff6cb4" d="M1083 2792h14v14h-14z"/><path fill="#ff68b0" d="M1097 2792h14v14h-14z"/><path fill="#ff64ac" d="M1111 2792h14v14h-14z"/><path fill="#ff60a8" d="M1125 2792h14v14h-14z"/><path fill="#ff58a4" d="M1139 2792h14v14h-14z"/><path fill="#ff54a0" d="M1153 2792h14v14h-14z"/><path fill="#ff509c" d="M1167 2792h14v14h-14z"/><path fill="#ff4c98" d="M1181 2792h14v14h-14z"/><path fill="#ff4894" d="M1195 2792h14v14h-14z"/><path fill="#ff4490" d="M1209 2792h14v14h-14z"/><path fill="#ff408c" d="M1223 2792h14v14h-14z"/><path fill="#ff3c8c" d="M1237 2792h14v14h-14z"/><path fill="#ff3488" d="M1251 2792h14v14h-14z"/><path fill="#ff3084" d="M1265 2792h14v14h-14z"/><path fill="#ff2c80" d="M1279 2792h14v14h-14z"/><path fill="#ff2480" d="M1293 2792h14v14h-14z"/><path fill="#ff207c" d="M1307 2792h14v14h-14z"/><path fill="#ff1878" d="M1321 2792h14v14h-14z"/><path fill="#ff0c74" d="M1335 2792h14v14h-14z"/><path fill="#ff0074" d="M1349 2792h14v14h-14zM1377 2806h42v14h-42zM1419 2820h42v14h-42zM1447 2834h56v14h-56zM1489 2848h56v14h-56zM1531 2862h56v14h-56zM1573 2876h70v14h-70z"/><path fill="#ff0070" d="M1363 2792h42v14h-42zM1419 2806h42v14h-42zM1461 2820h42v14h-42zM1503 2834h56v14h-56zM1545 2848h56v14h-56zM1587 2862h70v14h-70z"/><path fill="#00c4ff" d="M719 2806h14v14h-14zM691 2820h14v14h-14zM663 2834h28v14h-28zM649 2848h14v14h-14zM621 2862h14v14h-14zM593 2876h28v14h-28zM579 2890h14v14h-14zM551 2904h14v14h-14zM523 2918h28v14h-28zM509 2932h14v14h-14zM481 2946h28v14h-28zM453 2960h28v14h-28zM439 2974h14v14h-14z"/><path fill="#00bcff" d="M733 2806h14v14h-14zM719 2820h14v14h-14zM691 2834h14v14h-14zM677 2848h14v14h-14zM649 2862h14v14h-14zM635 2876h14v14h-14zM607 2890h14v14h-14zM593 2904h14v14h-14zM565 2918h14v14h-14zM551 2932h14v14h-14zM523 2946h14v14h-14zM495 2960h28v14h-28zM481 2974h14v14h-14zM453 2988h28v14h-28z"/><path fill="#24b8ff" d="M747 2806h14v14h-14z"/><path fill="#50b8ff" d="M761 2806h14v14h-14z"/><path fill="#6cb8ff" d="M775 2806h14v14h-14z"/><path fill="#80b4ff" d="M789 2806h14v14h-14z"/><path fill="#90b4ff" d="M803 2806h14v14h-14z"/><path fill="#a0b4ff" d="M817 2806h14v14h-14z"/><path fill="#b0b4ff" d="M831 2806h14v14h-14z"/><path fill="#bcb0ff" d="M845 2806h14v14h-14z"/><path fill="#c8b0ff" d="M859 2806h14v14h-14z"/><path fill="#d4acff" d="M873 2806h14v14h-14z"/><path fill="#e0acff" d="M887 2806h14v14h-14z"/><path fill="#ecacff" d="M901 2806h14v14h-14z"/><path fill="#f4a8ff" d="M915 2806h14v14h-14z"/><path fill="#ffa8ff" d="M929 2806h14v14h-14z"/><path fill="#ffa0f4" d="M943 2806h14v14h-14z"/><path fill="#ff98ec" d="M957 2806h14v14h-14z"/><path fill="#ff90e4" d="M971 2806h14v14h-14z"/><path fill="#ff8cdc" d="M985 2806h14v14h-14z"/><path fill="#ff84d8" d="M999 2806h14v14h-14z"/><path fill="#ff80d0" d="M1013 2806h14v14h-14z"/><path fill="#ff78cc" d="M1027 2806h14v14h-14z"/><path fill="#ff74c4" d="M1041 2806h14v14h-14z"/><path fill="#ff70c0" d="M1055 2806h14v14h-14z"/><path fill="#ff68b8" d="M1069 2806h14v14h-14z"/><path fill="#ff64b4" d="M1083 2806h14v14h-14z"/><path fill="#ff60b0" d="M1097 2806h14v14h-14z"/><path fill="#ff5cac" d="M1111 2806h14v14h-14z"/><path fill="#ff54a8" d="M1125 2806h14v14h-14z"/><path fill="#ff50a4" d="M1139 2806h14v14h-14z"/><path fill="#ff4ca0" d="M1153 2806h14v14h-14z"/><path fill="#ff489c" d="M1167 2806h14v14h-14z"/><path fill="#ff4498" d="M1181 2806h14v14h-14z"/><path fill="#ff4094" d="M1195 2806h14v14h-14z"/><path fill="#ff3890" d="M1209 2806h14v14h-14z"/><path fill="#ff3490" d="M1223 2806h14v14h-14z"/><path fill="#ff308c" d="M1237 2806h14v14h-14z"/><path fill="#ff2888" d="M1251 2806h14v14h-14z"/><path fill="#ff2484" d="M1265 2806h14v14h-14z"/><path fill="#ff1c84" d="M1279 2806h14v14h-14z"/><path fill="#ff1480" d="M1293 2806h14v14h-14z"/><path fill="#ff087c" d="M1307 2806h14v14h-14z"/><path fill="#ff007c" d="M1321 2806h14v14h-14zM1335 2820h42v14h-42zM1363 2834h42v14h-42zM1405 2848h42v14h-42zM1433 2862h56v14h-56zM1475 2876h42v14h-42zM1503 2890h56v14h-56zM1531 2904h28v14h-28z"/><path fill="#ff0078" d="M1335 2806h42v14h-42zM1377 2820h42v14h-42zM1405 2834h42v14h-42zM1447 2848h42v14h-42zM1489 2862h42v14h-42zM1517 2876h56v14h-56zM1559 2890h42v14h-42z"/><path fill="#00b4ff" d="M733 2820h14v14h-14zM719 2834h14v14h-14zM691 2848h14v14h-14zM677 2862h14v14h-14zM635 2890h14v14h-14zM621 2904h14v14h-14zM593 2918h14v14h-14zM579 2932h14v14h-14zM551 2946h28v14h-28zM537 2960h14v14h-14zM523 2974h14v14h-14zM495 2988h14v14h-14zM481 3002h14v14h-14zM467 3016h14v14h-14z"/><path fill="#40b4ff" d="M747 2820h14v14h-14z"/><path fill="#60b0ff" d="M761 2820h14v14h-14z"/><path fill="#74b0ff" d="M775 2820h14v14h-14z"/><path fill="#88b0ff" d="M789 2820h14v14h-14z"/><path fill="#98acff" d="M803 2820h14v14h-14z"/><path fill="#a8acff" d="M817 2820h14v14h-14z"/><path fill="#b4acff" d="M831 2820h14v14h-14z"/><path fill="#c0a8ff" d="M845 2820h14v14h-14z"/><path fill="#cca8ff" d="M859 2820h14v14h-14z"/><path fill="#d8a4ff" d="M873 2820h14v14h-14z"/><path fill="#e0a4ff" d="M887 2820h14v14h-14z"/><path fill="#eca4ff" d="M901 2820h14v14h-14z"/><path fill="#f8a0ff" d="M915 2820h14v14h-14z"/><path fill="#ff9cfc" d="M929 2820h14v14h-14z"/><path fill="#ff98f4" d="M943 2820h14v14h-14z"/><path fill="#ff90ec" d="M957 2820h14v14h-14z"/><path fill="#ff88e4" d="M971 2820h14v14h-14z"/><path fill="#ff80dc" d="M985 2820h14v14h-14z"/><path fill="#ff7cd8" d="M999 2820h14v14h-14z"/><path fill="#ff74d0" d="M1013 2820h14v14h-14z"/><path fill="#ff70cc" d="M1027 2820h14v14h-14z"/><path fill="#ff6cc4" d="M1041 2820h14v14h-14z"/><path fill="#ff64c0" d="M1055 2820h14v14h-14z"/><path fill="#ff60bc" d="M1069 2820h14v14h-14z"/><path fill="#ff5cb4" d="M1083 2820h14v14h-14z"/><path fill="#ff58b0" d="M1097 2820h14v14h-14z"/><path fill="#ff50ac" d="M1111 2820h14v14h-14z"/><path fill="#ff4ca8" d="M1125 2820h14v14h-14z"/><path fill="#ff48a4" d="M1139 2820h14v14h-14z"/><path fill="#ff44a0" d="M1153 2820h14v14h-14z"/><path fill="#ff409c" d="M1167 2820h14v14h-14z"/><path fill="#ff3898" d="M1181 2820h14v14h-14z"/><path fill="#ff3498" d="M1195 2820h14v14h-14z"/><path fill="#ff3094" d="M1209 2820h14v14h-14z"/><path fill="#ff2890" d="M1223 2820h14v14h-14z"/><path fill="#ff208c" d="M1237 2820h14v14h-14z"/><path fill="#ff1888" d="M1251 2820h14v14h-14z"/><path fill="#ff1088" d="M1265 2820h14v14h-14z"/><path fill="#ff0084" d="M1279 2820h28v14h-28zM1293 2834h42v14h-42zM1321 2848h42v14h-42zM1349 2862h42v14h-42zM1377 2876h42v14h-42zM1405 2890h56v14h-56zM1433 2904h56v14h-56zM1475 2918h42v14h-42z"/><path fill="#ff0080" d="M1307 2820h28v14h-28zM1335 2834h28v14h-28zM1363 2848h42v14h-42zM1391 2862h42v14h-42zM1419 2876h56v14h-56zM1461 2890h42v14h-42zM1489 2904h42v14h-42z"/><path fill="#00b8ff" d="M705 2834h14v14h-14zM663 2862h14v14h-14zM649 2876h14v14h-14zM621 2890h14v14h-14zM607 2904h14v14h-14zM579 2918h14v14h-14zM565 2932h14v14h-14zM537 2946h14v14h-14zM523 2960h14v14h-14zM495 2974h28v14h-28zM481 2988h14v14h-14zM453 3002h28v14h-28z"/><path fill="#24acff" d="M733 2834h14v14h-14z"/><path fill="#50acff" d="M747 2834h14v14h-14z"/><path fill="#68a8ff" d="M761 2834h14v14h-14z"/><path fill="#7ca8ff" d="M775 2834h14v14h-14z"/><path fill="#90a8ff" d="M789 2834h14v14h-14z"/><path fill="#9ca4ff" d="M803 2834h14v14h-14z"/><path fill="#aca4ff" d="M817 2834h14v14h-14z"/><path fill="#b8a4ff" d="M831 2834h14v14h-14z"/><path fill="#c4a0ff" d="M845 2834h14v14h-14z"/><path fill="#d0a0ff" d="M859 2834h14v14h-14z"/><path fill="#d89cff" d="M873 2834h14v14h-14z"/><path fill="#e49cff" d="M887 2834h14v14h-14z"/><path fill="#f098ff" d="M901 2834h14v14h-14z"/><path fill="#f898ff" d="M915 2834h14v14h-14z"/><path fill="#ff94fc" d="M929 2834h14v14h-14z"/><path fill="#ff8cf4" d="M943 2834h14v14h-14z"/><path fill="#ff84ec" d="M957 2834h14v14h-14z"/><path fill="#ff80e4" d="M971 2834h14v14h-14z"/><path fill="#ff78dc" d="M985 2834h14v14h-14z"/><path fill="#ff74d8" d="M999 2834h14v14h-14z"/><path fill="#ff6cd0" d="M1013 2834h14v14h-14z"/><path fill="#ff68cc" d="M1027 2834h14v14h-14z"/><path fill="#ff64c4" d="M1041 2834h14v14h-14z"/><path fill="#ff5cc0" d="M1055 2834h14v14h-14z"/><path fill="#ff58bc" d="M1069 2834h14v14h-14z"/><path fill="#ff54b8" d="M1083 2834h14v14h-14z"/><path fill="#ff4cb0" d="M1097 2834h14v14h-14z"/><path fill="#ff48ac" d="M1111 2834h14v14h-14z"/><path fill="#ff44a8" d="M1125 2834h14v14h-14z"/><path fill="#ff3ca4" d="M1139 2834h14v14h-14z"/><path fill="#ff38a4" d="M1153 2834h14v14h-14z"/><path fill="#ff34a0" d="M1167 2834h14v14h-14z"/><path fill="#ff2c9c" d="M1181 2834h14v14h-14z"/><path fill="#ff2898" d="M1195 2834h14v14h-14z"/><path fill="#ff2094" d="M1209 2834h14v14h-14z"/><path fill="#ff1490" d="M1223 2834h14v14h-14z"/><path fill="#ff0890" d="M1237 2834h14v14h-14z"/><path fill="#ff008c" d="M1251 2834h14v14h-14zM1265 2848h28v14h-28zM1293 2862h28v14h-28zM1307 2876h42v14h-42zM1335 2890h42v14h-42zM1363 2904h28v14h-28zM1377 2918h42v14h-42zM1405 2932h42v14h-42z"/><path fill="#ff0088" d="M1265 2834h28v14h-28zM1293 2848h28v14h-28zM1321 2862h28v14h-28zM1349 2876h28v14h-28zM1377 2890h28v14h-28zM1391 2904h42v14h-42zM1419 2918h56v14h-56zM1447 2932h28v14h-28z"/><path fill="#00b0ff" d="M705 2848h14v14h-14zM663 2876h14v14h-14zM649 2890h14v14h-14zM607 2918h14v14h-14zM593 2932h14v14h-14zM551 2960h14v14h-14zM537 2974h14v14h-14zM509 2988h14v14h-14zM495 3002h14v14h-14zM481 3016h14v14h-14z"/><path fill="#00a8ff" d="M719 2848h14v14h-14zM705 2862h14v14h-14zM663 2890h14v14h-14zM649 2904h14v14h-14zM635 2918h14v14h-14zM593 2946h14v14h-14zM579 2960h14v14h-14zM565 2974h14v14h-14zM537 2988h14v14h-14zM523 3002h14v14h-14zM509 3016h14v14h-14zM495 3030h14v14h-14z"/><path fill="#3ca4ff" d="M733 2848h14v14h-14z"/><path fill="#5ca4ff" d="M747 2848h14v14h-14z"/><path fill="#74a4ff" d="M761 2848h14v14h-14z"/><path fill="#84a0ff" d="M775 2848h14v14h-14z"/><path fill="#94a0ff" d="M789 2848h14v14h-14z"/><path fill="#a4a0ff" d="M803 2848h14v14h-14z"/><path fill="#b09cff" d="M817 2848h14v14h-14z"/><path fill="#bc9cff" d="M831 2848h14v14h-14z"/><path fill="#c898ff" d="M845 2848h14v14h-14z"/><path fill="#d498ff" d="M859 2848h14v14h-14z"/><path fill="#dc94ff" d="M873 2848h14v14h-14z"/><path fill="#e894ff" d="M887 2848h14v14h-14z"/><path fill="#f090ff" d="M901 2848h14v14h-14z"/><path fill="#f890ff" d="M915 2848h14v14h-14z"/><path fill="#ff88fc" d="M929 2848h14v14h-14z"/><path fill="#ff84f4" d="M943 2848h14v14h-14z"/><path fill="#ff7cec" d="M957 2848h14v14h-14z"/><path fill="#ff74e4" d="M971 2848h14v14h-14z"/><path fill="#ff70dc" d="M985 2848h14v14h-14z"/><path fill="#ff68d8" d="M999 2848h14v14h-14z"/><path fill="#ff64d0" d="M1013 2848h14v14h-14z"/><path fill="#ff5ccc" d="M1027 2848h14v14h-14z"/><path fill="#ff58c4" d="M1041 2848h14v14h-14z"/><path fill="#ff54c0" d="M1055 2848h14v14h-14z"/><path fill="#ff4cbc" d="M1069 2848h14v14h-14z"/><path fill="#ff48b8" d="M1083 2848h14v14h-14z"/><path fill="#ff44b4" d="M1097 2848h14v14h-14z"/><path fill="#ff3cb0" d="M1111 2848h14v14h-14z"/><path fill="#ff38ac" d="M1125 2848h14v14h-14z"/><path fill="#ff30a8" d="M1139 2848h14v14h-14z"/><path fill="#ff2ca4" d="M1153 2848h14v14h-14z"/><path fill="#ff24a0" d="M1167 2848h14v14h-14z"/><path fill="#ff1c9c" d="M1181 2848h14v14h-14z"/><path fill="#ff1098" d="M1195 2848h14v14h-14z"/><path fill="#ff0094" d="M1209 2848h28v14h-28zM1237 2862h28v14h-28zM1251 2876h28v14h-28zM1265 2890h42v14h-42zM1293 2904h28v14h-28zM1307 2918h42v14h-42zM1335 2932h28v14h-28zM1349 2946h42v14h-42zM1363 2960h28v14h-28z"/><path fill="#ff0090" d="M1237 2848h28v14h-28zM1265 2862h28v14h-28zM1279 2876h28v14h-28zM1307 2890h28v14h-28zM1321 2904h42v14h-42zM1349 2918h28v14h-28zM1363 2932h42v14h-42zM1391 2946h42v14h-42z"/><path fill="#00acff" d="M691 2862h14v14h-14zM677 2876h14v14h-14zM635 2904h14v14h-14zM621 2918h14v14h-14zM607 2932h14v14h-14zM579 2946h14v14h-14zM565 2960h14v14h-14zM551 2974h14v14h-14zM523 2988h14v14h-14zM509 3002h14v14h-14zM495 3016h14v14h-14zM467 3030h28v14h-28z"/><path fill="#24a0ff" d="M719 2862h14v14h-14z"/><path fill="#50a0ff" d="M733 2862h14v14h-14z"/><path fill="#689cff" d="M747 2862h14v14h-14z"/><path fill="#7c9cff" d="M761 2862h14v14h-14z"/><path fill="#8c98ff" d="M775 2862h14v14h-14z"/><path fill="#9c98ff" d="M789 2862h14v14h-14z"/><path fill="#a898ff" d="M803 2862h14v14h-14z"/><path fill="#b494ff" d="M817 2862h14v14h-14z"/><path fill="#c094ff" d="M831 2862h14v14h-14z"/><path fill="#cc90ff" d="M845 2862h14v14h-14z"/><path fill="#d490ff" d="M859 2862h14v14h-14z"/><path fill="#e08cff" d="M873 2862h14v14h-14z"/><path fill="#e88cff" d="M887 2862h14v14h-14z"/><path fill="#f488ff" d="M901 2862h14v14h-14z"/><path fill="#fc84ff" d="M915 2862h14v14h-14z"/><path fill="#ff80f8" d="M929 2862h14v14h-14z"/><path fill="#ff78f0" d="M943 2862h14v14h-14z"/><path fill="#ff70e8" d="M957 2862h14v14h-14z"/><path fill="#ff6ce4" d="M971 2862h14v14h-14z"/><path fill="#ff64dc" d="M985 2862h14v14h-14z"/><path fill="#ff60d4" d="M999 2862h14v14h-14z"/><path fill="#ff58d0" d="M1013 2862h14v14h-14z"/><path fill="#ff54cc" d="M1027 2862h14v14h-14z"/><path fill="#ff50c4" d="M1041 2862h14v14h-14z"/><path fill="#ff48c0" d="M1055 2862h14v14h-14z"/><path fill="#ff44bc" d="M1069 2862h14v14h-14z"/><path fill="#ff3cb8" d="M1083 2862h14v14h-14z"/><path fill="#ff38b4" d="M1097 2862h14v14h-14z"/><path fill="#ff30b0" d="M1111 2862h14v14h-14z"/><path fill="#ff28ac" d="M1125 2862h14v14h-14z"/><path fill="#ff20a8" d="M1139 2862h14v14h-14z"/><path fill="#ff18a4" d="M1153 2862h14v14h-14z"/><path fill="#ff08a0" d="M1167 2862h14v14h-14z"/><path fill="#ff009c" d="M1181 2862h28v14h-28zM1195 2876h28v14h-28zM1223 2890h14v14h-14zM1237 2904h28v14h-28zM1251 2918h28v14h-28zM1265 2932h28v14h-28zM1279 2946h28v14h-28zM1293 2960h42v14h-42zM1307 2974h42v14h-42z"/><path fill="#ff0098" d="M1209 2862h28v14h-28zM1223 2876h28v14h-28zM1237 2890h28v14h-28zM1265 2904h28v14h-28zM1279 2918h28v14h-28zM1293 2932h42v14h-42zM1307 2946h42v14h-42zM1335 2960h28v14h-28z"/><path fill="#00a4ff" d="M691 2876h14v14h-14zM677 2890h14v14h-14zM621 2932h14v14h-14zM607 2946h14v14h-14zM593 2960h14v14h-14zM551 2988h14v14h-14zM537 3002h14v14h-14zM523 3016h14v14h-14zM481 3044h14v14h-14z"/><path fill="#009cff" d="M705 2876h14v14h-14zM691 2890h14v14h-14zM621 2946h14v14h-14zM607 2960h14v14h-14zM593 2974h14v14h-14zM537 3016h14v14h-14zM523 3030h14v14h-14zM509 3044h14v14h-14zM495 3058h14v14h-14z"/><path fill="#3c98ff" d="M719 2876h14v14h-14z"/><path fill="#5c98ff" d="M733 2876h14v14h-14z"/><path fill="#7094ff" d="M747 2876h14v14h-14z"/><path fill="#8494ff" d="M761 2876h14v14h-14z"/><path fill="#9094ff" d="M775 2876h14v14h-14z"/><path fill="#a090ff" d="M789 2876h14v14h-14z"/><path fill="#ac90ff" d="M803 2876h14v14h-14z"/><path fill="#b88cff" d="M817 2876h14v14h-14z"/><path fill="#c48cff" d="M831 2876h14v14h-14z"/><path fill="#cc88ff" d="M845 2876h14v14h-14z"/><path fill="#d884ff" d="M859 2876h14v14h-14z"/><path fill="#e084ff" d="M873 2876h14v14h-14z"/><path fill="#ec80ff" d="M887 2876h14v14h-14z"/><path fill="#f480ff" d="M901 2876h14v14h-14z"/><path fill="#fc7cff" d="M915 2876h14v14h-14z"/><path fill="#ff74f8" d="M929 2876h14v14h-14z"/><path fill="#ff70f0" d="M943 2876h14v14h-14z"/><path fill="#ff68e8" d="M957 2876h14v14h-14z"/><path fill="#ff60e4" d="M971 2876h14v14h-14z"/><path fill="#ff5cdc" d="M985 2876h14v14h-14z"/><path fill="#ff54d4" d="M999 2876h14v14h-14z"/><path fill="#ff50d0" d="M1013 2876h14v14h-14z"/><path fill="#ff48cc" d="M1027 2876h14v14h-14z"/><path fill="#ff44c4" d="M1041 2876h14v14h-14z"/><path fill="#ff3cc0" d="M1055 2876h14v14h-14z"/><path fill="#ff34bc" d="M1069 2876h14v14h-14z"/><path fill="#ff30b8" d="M1083 2876h14v14h-14z"/><path fill="#ff28b4" d="M1097 2876h14v14h-14z"/><path fill="#ff1cb0" d="M1111 2876h14v14h-14z"/><path fill="#ff10ac" d="M1125 2876h14v14h-14z"/><path fill="#ff00a8" d="M1139 2876h14v14h-14zM1153 2890h14v14h-14zM1167 2904h14v14h-14zM1167 2918h28v14h-28zM1181 2932h28v14h-28zM1195 2946h28v14h-28zM1209 2960h28v14h-28zM1223 2974h28v14h-28zM1237 2988h28v14h-28zM1251 3002h14v14h-14z"/><path fill="#ff00a4" d="M1153 2876h28v14h-28zM1167 2890h28v14h-28zM1181 2904h28v14h-28zM1195 2918h28v14h-28zM1209 2932h28v14h-28zM1223 2946h28v14h-28zM1237 2960h28v14h-28zM1251 2974h28v14h-28zM1265 2988h28v14h-28z"/><path fill="#ff00a0" d="M1181 2876h14v14h-14zM1195 2890h28v14h-28zM1209 2904h28v14h-28zM1223 2918h28v14h-28zM1237 2932h28v14h-28zM1251 2946h28v14h-28zM1265 2960h28v14h-28zM1279 2974h28v14h-28zM1293 2988h14v14h-14z"/><path fill="#2894ff" d="M705 2890h14v14h-14z"/><path fill="#4c90ff" d="M719 2890h14v14h-14z"/><path fill="#6490ff" d="M733 2890h14v14h-14z"/><path fill="#7890ff" d="M747 2890h14v14h-14z"/><path fill="#888cff" d="M761 2890h14v14h-14z"/><path fill="#988cff" d="M775 2890h14v14h-14z"/><path fill="#a488ff" d="M789 2890h14v14h-14z"/><path fill="#b088ff" d="M803 2890h14v14h-14z"/><path fill="#bc84ff" d="M817 2890h14v14h-14z"/><path fill="#c880ff" d="M831 2890h14v14h-14z"/><path fill="#d080ff" d="M845 2890h14v14h-14z"/><path fill="#dc7cff" d="M859 2890h14v14h-14z"/><path fill="#e478ff" d="M873 2890h14v14h-14z"/><path fill="#ec78ff" d="M887 2890h14v14h-14z"/><path fill="#f474ff" d="M901 2890h14v14h-14z"/><path fill="#ff70ff" d="M915 2890h14v14h-14z"/><path fill="#ff68f8" d="M929 2890h14v14h-14z"/><path fill="#ff64f0" d="M943 2890h14v14h-14z"/><path fill="#ff5ce8" d="M957 2890h14v14h-14z"/><path fill="#ff54e0" d="M971 2890h14v14h-14z"/><path fill="#ff50dc" d="M985 2890h14v14h-14z"/><path fill="#ff48d4" d="M999 2890h14v14h-14z"/><path fill="#ff40d0" d="M1013 2890h14v14h-14z"/><path fill="#ff3ccc" d="M1027 2890h14v14h-14z"/><path fill="#ff34c8" d="M1041 2890h14v14h-14z"/><path fill="#ff2cc0" d="M1055 2890h14v14h-14z"/><path fill="#ff24bc" d="M1069 2890h14v14h-14z"/><path fill="#ff18b8" d="M1083 2890h14v14h-14z"/><path fill="#ff08b4" d="M1097 2890h14v14h-14z"/><path fill="#ff00b0" d="M1111 2890h14v14h-14zM1125 2904h14v14h-14zM1139 2918h14v14h-14zM1139 2932h28v14h-28zM1153 2946h14v14h-14zM1167 2960h14v14h-14zM1167 2974h28v14h-28zM1181 2988h28v14h-28zM1195 3002h28v14h-28zM1195 3016h28v14h-28z"/><path fill="#ff00ac" d="M1125 2890h28v14h-28zM1139 2904h28v14h-28zM1153 2918h14v14h-14zM1167 2932h14v14h-14zM1167 2946h28v14h-28zM1181 2960h28v14h-28zM1195 2974h28v14h-28zM1209 2988h28v14h-28zM1223 3002h28v14h-28z"/><path fill="#00a0ff" d="M663 2904h14v14h-14zM649 2918h14v14h-14zM635 2932h14v14h-14zM579 2974h14v14h-14zM565 2988h14v14h-14zM551 3002h14v14h-14zM509 3030h14v14h-14zM495 3044h14v14h-14z"/><path fill="#0098ff" d="M677 2904h14v14h-14zM663 2918h14v14h-14zM649 2932h14v14h-14zM579 2988h14v14h-14zM565 3002h14v14h-14zM551 3016h14v14h-14zM537 3030h14v14h-14zM523 3044h14v14h-14z"/><path fill="#0090ff" d="M691 2904h14v14h-14zM677 2918h14v14h-14zM579 3002h14v14h-14zM565 3016h14v14h-14zM551 3030h14v14h-14zM537 3044h14v14h-14zM523 3058h14v14h-14zM509 3072h14v14h-14z"/><path fill="#3c8cff" d="M705 2904h14v14h-14z"/><path fill="#5c8cff" d="M719 2904h14v14h-14z"/><path fill="#7088ff" d="M733 2904h14v14h-14z"/><path fill="#8088ff" d="M747 2904h14v14h-14z"/><path fill="#9084ff" d="M761 2904h14v14h-14z"/><path fill="#9c84ff" d="M775 2904h14v14h-14z"/><path fill="#a880ff" d="M789 2904h14v14h-14z"/><path fill="#b47cff" d="M803 2904h14v14h-14z"/><path fill="#c07cff" d="M817 2904h14v14h-14z"/><path fill="#c878ff" d="M831 2904h14v14h-14z"/><path fill="#d474ff" d="M845 2904h14v14h-14z"/><path fill="#dc74ff" d="M859 2904h14v14h-14z"/><path fill="#e470ff" d="M873 2904h14v14h-14z"/><path fill="#f06cff" d="M887 2904h14v14h-14z"/><path fill="#f868ff" d="M901 2904h14v14h-14z"/><path fill="#ff64ff" d="M915 2904h14v14h-14z"/><path fill="#ff5cf8" d="M929 2904h14v14h-14z"/><path fill="#ff58f0" d="M943 2904h14v14h-14z"/><path fill="#ff50e8" d="M957 2904h14v14h-14z"/><path fill="#ff48e0" d="M971 2904h14v14h-14z"/><path fill="#ff40dc" d="M985 2904h14v14h-14z"/><path fill="#ff3cd4" d="M999 2904h14v14h-14z"/><path fill="#ff34d0" d="M1013 2904h14v14h-14z"/><path fill="#ff28cc" d="M1027 2904h14v14h-14z"/><path fill="#ff20c8" d="M1041 2904h14v14h-14z"/><path fill="#ff14c0" d="M1055 2904h14v14h-14z"/><path fill="#ff00bc" d="M1069 2904h14v14h-14zM1083 2918h14v14h-14zM1083 2932h14v14h-14zM1097 2946h14v14h-14zM1097 2960h28v14h-28zM1111 2974h14v14h-14zM1111 2988h28v14h-28zM1125 3002h14v14h-14zM1125 3016h28v14h-28zM1139 3030h14v14h-14z"/><path fill="#ff00b8" d="M1083 2904h28v14h-28zM1097 2918h14v14h-14zM1097 2932h28v14h-28zM1111 2946h14v14h-14zM1125 2960h14v14h-14zM1125 2974h28v14h-28zM1139 2988h14v14h-14zM1139 3002h28v14h-28zM1153 3016h14v14h-14zM1153 3030h28v14h-28z"/><path fill="#ff00b4" d="M1111 2904h14v14h-14zM1111 2918h28v14h-28zM1125 2932h14v14h-14zM1125 2946h28v14h-28zM1139 2960h28v14h-28zM1153 2974h14v14h-14zM1153 2988h28v14h-28zM1167 3002h28v14h-28zM1167 3016h28v14h-28z"/><path fill="#2888ff" d="M691 2918h14v14h-14z"/><path fill="#4c84ff" d="M705 2918h14v14h-14z"/><path fill="#6484ff" d="M719 2918h14v14h-14z"/><path fill="#7880ff" d="M733 2918h14v14h-14z"/><path fill="#8880ff" d="M747 2918h14v14h-14z"/><path fill="#947cff" d="M761 2918h14v14h-14z"/><path fill="#a078ff" d="M775 2918h14v14h-14z"/><path fill="#ac78ff" d="M789 2918h14v14h-14z"/><path fill="#b874ff" d="M803 2918h14v14h-14z"/><path fill="#c470ff" d="M817 2918h14v14h-14z"/><path fill="#cc70ff" d="M831 2918h14v14h-14z"/><path fill="#d46cff" d="M845 2918h14v14h-14z"/><path fill="#e068ff" d="M859 2918h14v14h-14z"/><path fill="#e864ff" d="M873 2918h14v14h-14z"/><path fill="#f060ff" d="M887 2918h14v14h-14z"/><path fill="#f85cff" d="M901 2918h14v14h-14z"/><path fill="#ff58fc" d="M915 2918h14v14h-14z"/><path fill="#ff50f4" d="M929 2918h14v14h-14z"/><path fill="#ff48ec" d="M943 2918h14v14h-14z"/><path fill="#ff40e8" d="M957 2918h14v14h-14z"/><path fill="#ff38e0" d="M971 2918h14v14h-14z"/><path fill="#ff30dc" d="M985 2918h14v14h-14z"/><path fill="#ff28d4" d="M999 2918h14v14h-14z"/><path fill="#ff1cd0" d="M1013 2918h14v14h-14z"/><path fill="#ff0ccc" d="M1027 2918h14v14h-14z"/><path fill="#ff00c8" d="M1041 2918h14v14h-14zM1041 2932h14v14h-14zM1041 2946h14v14h-14zM1055 2960h14v14h-14zM1055 2974h14v14h-14zM1055 2988h14v14h-14zM1069 3002h14v14h-14zM1069 3016h14v14h-14zM1069 3030h28v14h-28zM1083 3044h14v14h-14zM1083 3058h14v14h-14z"/><path fill="#ff00c4" d="M1055 2918h14v14h-14zM1055 2932h14v14h-14zM1055 2946h28v14h-28zM1069 2960h14v14h-14zM1069 2974h14v14h-14zM1069 2988h28v14h-28zM1083 3002h14v14h-14zM1083 3016h28v14h-28zM1097 3030h14v14h-14zM1097 3044h14v14h-14z"/><path fill="#ff00c0" d="M1069 2918h14v14h-14zM1069 2932h14v14h-14zM1083 2946h14v14h-14zM1083 2960h14v14h-14zM1083 2974h28v14h-28zM1097 2988h14v14h-14zM1097 3002h28v14h-28zM1111 3016h14v14h-14zM1111 3030h28v14h-28zM1111 3044h28v14h-28z"/><path fill="#008cff" d="M663 2932h14v14h-14zM649 2946h14v14h-14zM635 2960h14v14h-14zM621 2974h14v14h-14zM607 2988h14v14h-14zM593 3002h14v14h-14z"/><path fill="#0084ff" d="M677 2932h14v14h-14z"/><path fill="#3c80ff" d="M691 2932h14v14h-14z"/><path fill="#587cff" d="M705 2932h14v14h-14z"/><path fill="#6c7cff" d="M719 2932h14v14h-14z"/><path fill="#7c78ff" d="M733 2932h14v14h-14z"/><path fill="#8c78ff" d="M747 2932h14v14h-14z"/><path fill="#9874ff" d="M761 2932h14v14h-14z"/><path fill="#a470ff" d="M775 2932h14v14h-14z"/><path fill="#b06cff" d="M789 2932h14v14h-14z"/><path fill="#bc6cff" d="M803 2932h14v14h-14z"/><path fill="#c468ff" d="M817 2932h14v14h-14z"/><path fill="#d064ff" d="M831 2932h14v14h-14z"/><path fill="#d860ff" d="M845 2932h14v14h-14z"/><path fill="#e05cff" d="M859 2932h14v14h-14z"/><path fill="#e858ff" d="M873 2932h14v14h-14z"/><path fill="#f054ff" d="M887 2932h14v14h-14z"/><path fill="#fc50ff" d="M901 2932h14v14h-14z"/><path fill="#ff48fc" d="M915 2932h14v14h-14z"/><path fill="#ff40f4" d="M929 2932h14v14h-14z"/><path fill="#ff38ec" d="M943 2932h14v14h-14z"/><path fill="#ff30e8" d="M957 2932h14v14h-14z"/><path fill="#ff24e0" d="M971 2932h14v14h-14z"/><path fill="#ff14dc" d="M985 2932h14v14h-14z"/><path fill="#ff00d4" d="M999 2932h14v14h-14zM1013 2960h14v14h-14zM1013 2974h14v14h-14zM1013 2988h14v14h-14zM1013 3002h14v14h-14zM1013 3016h14v14h-14zM1027 3030h14v14h-14zM1027 3044h14v14h-14zM1027 3058h14v14h-14zM1027 3072h14v14h-14z"/><path fill="#ff00d0" d="M1013 2932h14v14h-14zM1013 2946h14v14h-14zM1027 2960h14v14h-14zM1027 2974h14v14h-14zM1027 2988h14v14h-14zM1027 3002h14v14h-14zM1027 3016h28v14h-28zM1041 3030h14v14h-14zM1041 3044h14v14h-14zM1041 3058h14v14h-14zM1041 3072h14v14h-14z"/><path fill="#ff00cc" d="M1027 2932h14v14h-14zM1027 2946h14v14h-14zM1041 2960h14v14h-14zM1041 2974h14v14h-14zM1041 2988h14v14h-14zM1041 3002h28v14h-28zM1055 3016h14v14h-14zM1055 3030h14v14h-14zM1055 3044h28v14h-28zM1055 3058h28v14h-28z"/><path fill="#0094ff" d="M635 2946h14v14h-14zM621 2960h14v14h-14zM607 2974h14v14h-14zM593 2988h14v14h-14zM509 3058h14v14h-14zM495 3072h14v14h-14z"/><path fill="#0080ff" d="M663 2946h14v14h-14zM649 2960h14v14h-14zM635 2974h14v14h-14zM621 2988h14v14h-14zM607 3002h14v14h-14zM593 3016h14v14h-14zM579 3030h14v14h-14zM565 3044h14v14h-14zM551 3058h14v14h-14zM537 3072h14v14h-14zM523 3086h14v14h-14z"/><path fill="#2878ff" d="M677 2946h14v14h-14z"/><path fill="#4c78ff" d="M691 2946h14v14h-14z"/><path fill="#6474ff" d="M705 2946h14v14h-14z"/><path fill="#7474ff" d="M719 2946h14v14h-14z"/><path fill="#8470ff" d="M733 2946h14v14h-14z"/><path fill="#906cff" d="M747 2946h14v14h-14z"/><path fill="#a06cff" d="M761 2946h14v14h-14z"/><path fill="#a868ff" d="M775 2946h14v14h-14z"/><path fill="#b464ff" d="M789 2946h14v14h-14z"/><path fill="#c060ff" d="M803 2946h14v14h-14z"/><path fill="#c85cff" d="M817 2946h14v14h-14z"/><path fill="#d058ff" d="M831 2946h14v14h-14z"/><path fill="#dc54ff" d="M845 2946h14v14h-14z"/><path fill="#e450ff" d="M859 2946h14v14h-14z"/><path fill="#ec4cff" d="M873 2946h14v14h-14z"/><path fill="#f444ff" d="M887 2946h14v14h-14z"/><path fill="#fc40ff" d="M901 2946h14v14h-14z"/><path fill="#ff38fc" d="M915 2946h14v14h-14z"/><path fill="#ff2cf4" d="M929 2946h14v14h-14z"/><path fill="#ff20ec" d="M943 2946h14v14h-14z"/><path fill="#ff0ce8" d="M957 2946h14v14h-14z"/><path fill="#ff00e0" d="M971 2946h14v14h-14zM971 2960h14v14h-14zM971 2974h14v14h-14zM971 2988h14v14h-14zM971 3002h14v14h-14zM971 3016h14v14h-14zM985 3044h14v14h-14zM985 3058h14v14h-14zM985 3072h14v14h-14zM985 3086h14v14h-14z"/><path fill="#ff00dc" d="M985 2946h14v14h-14zM985 2960h14v14h-14zM985 2974h14v14h-14zM985 2988h14v14h-14zM985 3002h14v14h-14zM985 3016h14v14h-14zM985 3030h14v14h-14zM999 3044h14v14h-14zM999 3058h14v14h-14zM999 3072h14v14h-14zM999 3086h14v14h-14z"/><path fill="#ff00d8" d="M999 2946h14v14h-14zM999 2960h14v14h-14zM999 2974h14v14h-14zM999 2988h14v14h-14zM999 3002h14v14h-14zM999 3016h14v14h-14zM999 3030h28v14h-28zM1013 3044h14v14h-14zM1013 3058h14v14h-14zM1013 3072h14v14h-14z"/><path fill="#0074ff" d="M663 2960h14v14h-14zM649 2974h14v14h-14zM635 2988h14v14h-14zM621 3002h14v14h-14zM607 3016h14v14h-14zM593 3030h14v14h-14z"/><path fill="#3c70ff" d="M677 2960h14v14h-14z"/><path fill="#5870ff" d="M691 2960h14v14h-14z"/><path fill="#6c6cff" d="M705 2960h14v14h-14z"/><path fill="#7c68ff" d="M719 2960h14v14h-14z"/><path fill="#8868ff" d="M733 2960h14v14h-14z"/><path fill="#9864ff" d="M747 2960h14v14h-14z"/><path fill="#a460ff" d="M761 2960h14v14h-14z"/><path fill="#ac5cff" d="M775 2960h14v14h-14z"/><path fill="#b858ff" d="M789 2960h14v14h-14z"/><path fill="#c054ff" d="M803 2960h14v14h-14z"/><path fill="#cc50ff" d="M817 2960h14v14h-14z"/><path fill="#d44cff" d="M831 2960h14v14h-14z"/><path fill="#dc48ff" d="M845 2960h14v14h-14z"/><path fill="#e440ff" d="M859 2960h14v14h-14z"/><path fill="#ec38ff" d="M873 2960h14v14h-14z"/><path fill="#f430ff" d="M887 2960h14v14h-14z"/><path fill="#fc28ff" d="M901 2960h14v14h-14z"/><path fill="#ff18f8" d="M915 2960h14v14h-14z"/><path fill="#ff00f4" d="M929 2960h14v14h-14zM915 3030h14v14h-14zM915 3044h14v14h-14zM915 3058h14v14h-14zM915 3072h14v14h-14zM915 3086h14v14h-14zM915 3100h14v14h-14zM915 3114h14v14h-14z"/><path fill="#ff00ec" d="M943 2960h14v14h-14zM943 2974h14v14h-14zM943 2988h14v14h-14zM943 3002h14v14h-14zM943 3016h14v14h-14zM943 3030h14v14h-14zM943 3044h14v14h-14zM943 3058h14v14h-14zM943 3072h14v14h-14zM943 3086h14v14h-14zM943 3100h14v14h-14z"/><path fill="#ff00e8" d="M957 2960h14v14h-14zM957 2974h14v14h-14zM957 2988h14v14h-14zM957 3002h14v14h-14zM957 3016h14v14h-14zM957 3030h14v14h-14zM957 3044h14v14h-14zM957 3058h14v14h-14zM957 3072h14v14h-14zM957 3086h14v14h-14zM957 3100h14v14h-14z"/><path fill="#286cff" d="M663 2974h14v14h-14z"/><path fill="#4c68ff" d="M677 2974h14v14h-14z"/><path fill="#6068ff" d="M691 2974h14v14h-14z"/><path fill="#7464ff" d="M705 2974h14v14h-14z"/><path fill="#8460ff" d="M719 2974h14v14h-14z"/><path fill="#905cff" d="M733 2974h14v14h-14z"/><path fill="#9c58ff" d="M747 2974h14v14h-14z"/><path fill="#a854ff" d="M761 2974h14v14h-14z"/><path fill="#b050ff" d="M775 2974h14v14h-14z"/><path fill="#bc4cff" d="M789 2974h14v14h-14z"/><path fill="#c448ff" d="M803 2974h14v14h-14z"/><path fill="#cc44ff" d="M817 2974h14v14h-14z"/><path fill="#d83cff" d="M831 2974h14v14h-14z"/><path fill="#e034ff" d="M845 2974h14v14h-14z"/><path fill="#e82cff" d="M859 2974h14v14h-14z"/><path fill="#f020ff" d="M873 2974h14v14h-14z"/><path fill="#f80cff" d="M887 2974h14v14h-14z"/><path fill="#ff00ff" d="M901 2974h14v14h-14zM901 2988h14v14h-14zM887 3058h14v14h-14zM887 3072h14v14h-14zM887 3086h14v14h-14z"/><path fill="#ff00f8" d="M915 2974h14v14h-14zM915 2988h14v14h-14zM915 3002h14v14h-14zM915 3016h14v14h-14zM901 3072h14v14h-14zM901 3086h14v14h-14zM901 3100h14v14h-14zM901 3114h14v14h-14z"/><path fill="#ff00f0" d="M929 2974h14v14h-14zM929 2988h14v14h-14zM929 3002h14v14h-14zM929 3016h14v14h-14zM929 3030h14v14h-14zM929 3044h14v14h-14zM929 3058h14v14h-14zM929 3072h14v14h-14zM929 3086h14v14h-14zM929 3100h14v14h-14z"/><path fill="#0064ff" d="M649 2988h14v14h-14z"/><path fill="#3c64ff" d="M663 2988h14v14h-14z"/><path fill="#5860ff" d="M677 2988h14v14h-14z"/><path fill="#6c5cff" d="M691 2988h14v14h-14z"/><path fill="#7858ff" d="M705 2988h14v14h-14z"/><path fill="#8854ff" d="M719 2988h14v14h-14z"/><path fill="#9450ff" d="M733 2988h14v14h-14z"/><path fill="#a04cff" d="M747 2988h14v14h-14z"/><path fill="#ac48ff" d="M761 2988h14v14h-14z"/><path fill="#b444ff" d="M775 2988h14v14h-14z"/><path fill="#bc3cff" d="M789 2988h14v14h-14z"/><path fill="#c838ff" d="M803 2988h14v14h-14z"/><path fill="#d030ff" d="M817 2988h14v14h-14z"/><path fill="#d824ff" d="M831 2988h14v14h-14z"/><path fill="#e018ff" d="M845 2988h14v14h-14z"/><path fill="#e800ff" d="M859 2988h14v14h-14zM845 3030h14v14h-14zM845 3044h14v14h-14zM831 3072h14v14h-14zM831 3086h14v14h-14zM817 3114h14v14h-14zM817 3128h14v14h-14zM817 3142h14v14h-14z"/><path fill="#f000ff" d="M873 2988h14v14h-14zM859 3030h14v14h-14zM859 3044h14v14h-14zM859 3058h14v14h-14zM845 3086h14v14h-14zM845 3100h14v14h-14zM845 3114h14v14h-14zM831 3142h14v14h-14z"/><path fill="#f800ff" d="M887 2988h14v14h-14zM887 3002h14v14h-14zM873 3044h14v14h-14zM873 3058h14v14h-14zM873 3072h14v14h-14zM859 3114h14v14h-14zM859 3128h14v14h-14z"/><path fill="#0068ff" d="M635 3002h14v14h-14zM621 3016h14v14h-14zM607 3030h14v14h-14zM593 3044h14v14h-14z"/><path fill="#2c5cff" d="M649 3002h14v14h-14z"/><path fill="#4c58ff" d="M663 3002h14v14h-14z"/><path fill="#6054ff" d="M677 3002h14v14h-14z"/><path fill="#7050ff" d="M691 3002h14v14h-14z"/><path fill="#804cff" d="M705 3002h14v14h-14z"/><path fill="#8c48ff" d="M719 3002h14v14h-14z"/><path fill="#9844ff" d="M733 3002h14v14h-14z"/><path fill="#a440ff" d="M747 3002h14v14h-14z"/><path fill="#ac38ff" d="M761 3002h14v14h-14z"/><path fill="#b834ff" d="M775 3002h14v14h-14z"/><path fill="#c028ff" d="M789 3002h14v14h-14z"/><path fill="#c820ff" d="M803 3002h14v14h-14z"/><path fill="#d40cff" d="M817 3002h14v14h-14z"/><path fill="#dc00ff" d="M831 3002h14v14h-14zM831 3016h14v14h-14zM817 3044h14v14h-14zM817 3058h14v14h-14zM803 3086h14v14h-14zM803 3100h14v14h-14zM789 3128h14v14h-14zM775 3156h14v14h-14z"/><path fill="#e400ff" d="M845 3002h14v14h-14zM845 3016h14v14h-14zM831 3044h14v14h-14zM831 3058h14v14h-14zM817 3086h14v14h-14zM817 3100h14v14h-14zM803 3142h14v14h-14zM803 3156h14v14h-14z"/><path fill="#ec00ff" d="M859 3002h14v14h-14zM859 3016h14v14h-14zM845 3058h14v14h-14zM845 3072h14v14h-14zM831 3100h14v14h-14zM831 3114h14v14h-14zM831 3128h14v14h-14z"/><path fill="#f400ff" d="M873 3002h14v14h-14zM873 3016h14v14h-14zM873 3030h14v14h-14zM859 3072h14v14h-14zM859 3086h14v14h-14zM859 3100h14v14h-14zM845 3128h14v14h-14zM845 3142h14v14h-14z"/><path fill="#ff00fc" d="M901 3002h14v14h-14zM901 3016h14v14h-14zM901 3030h14v14h-14zM901 3044h14v14h-14zM901 3058h14v14h-14zM887 3100h14v14h-14zM887 3114h14v14h-14zM887 3128h14v14h-14z"/><path fill="#0088ff" d="M579 3016h14v14h-14zM565 3030h14v14h-14zM551 3044h14v14h-14zM537 3058h14v14h-14zM523 3072h14v14h-14zM509 3086h14v14h-14z"/><path fill="#0458ff" d="M635 3016h14v14h-14z"/><path fill="#3c54ff" d="M649 3016h14v14h-14z"/><path fill="#5850ff" d="M663 3016h14v14h-14z"/><path fill="#684cff" d="M677 3016h14v14h-14z"/><path fill="#7844ff" d="M691 3016h14v14h-14z"/><path fill="#8440ff" d="M705 3016h14v14h-14z"/><path fill="#903cff" d="M719 3016h14v14h-14z"/><path fill="#9c34ff" d="M733 3016h14v14h-14z"/><path fill="#a82cff" d="M747 3016h14v14h-14z"/><path fill="#b024ff" d="M761 3016h14v14h-14z"/><path fill="#bc18ff" d="M775 3016h14v14h-14z"/><path fill="#c400ff" d="M789 3016h14v14h-14zM775 3044h14v14h-14zM761 3072h14v14h-14zM747 3114h14v14h-14zM733 3142h14v14h-14zM719 3170h14v14h-14z"/><path fill="#cc00ff" d="M803 3016h14v14h-14zM789 3044h14v14h-14zM775 3072h14v14h-14zM775 3086h14v14h-14zM761 3114h14v14h-14zM747 3142h14v14h-14zM733 3170h14v14h-14z"/><path fill="#d400ff" d="M817 3016h14v14h-14zM803 3044h14v14h-14zM789 3086h14v14h-14zM775 3114h14v14h-14zM775 3128h14v14h-14zM761 3156h14v14h-14z"/><path fill="#fc00ff" d="M887 3016h14v14h-14zM887 3030h14v14h-14zM887 3044h14v14h-14zM873 3086h14v14h-14zM873 3100h14v14h-14zM873 3114h14v14h-14zM873 3128h14v14h-14z"/><path fill="#0058ff" d="M621 3030h14v14h-14zM607 3044h14v14h-14z"/><path fill="#2c4cff" d="M635 3030h14v14h-14z"/><path fill="#4c48ff" d="M649 3030h14v14h-14z"/><path fill="#6044ff" d="M663 3030h14v14h-14z"/><path fill="#703cff" d="M677 3030h14v14h-14z"/><path fill="#8038ff" d="M691 3030h14v14h-14z"/><path fill="#8c30ff" d="M705 3030h14v14h-14z"/><path fill="#9828ff" d="M719 3030h14v14h-14z"/><path fill="#a01cff" d="M733 3030h14v14h-14z"/><path fill="#ac0cff" d="M747 3030h14v14h-14z"/><path fill="#b400ff" d="M761 3030h14v14h-14zM747 3058h14v14h-14zM733 3086h14v14h-14zM705 3128h14v14h-14zM691 3156h14v14h-14zM677 3184h14v14h-14zM677 3198h14v14h-14z"/><path fill="#c000ff" d="M775 3030h14v14h-14zM761 3058h14v14h-14zM747 3086h14v14h-14zM747 3100h14v14h-14zM733 3128h14v14h-14zM719 3156h14v14h-14zM705 3184h14v14h-14z"/><path fill="#c800ff" d="M789 3030h14v14h-14zM775 3058h14v14h-14zM761 3086h14v14h-14zM761 3100h14v14h-14zM747 3128h14v14h-14zM733 3156h14v14h-14zM719 3184h14v14h-14z"/><path fill="#d000ff" d="M803 3030h14v14h-14zM789 3058h14v14h-14zM789 3072h14v14h-14zM775 3100h14v14h-14zM761 3128h14v14h-14zM761 3142h14v14h-14zM747 3156h14v14h-14zM747 3170h14v14h-14z"/><path fill="#d800ff" d="M817 3030h14v14h-14zM803 3058h14v14h-14zM803 3072h14v14h-14zM789 3100h14v14h-14zM789 3114h14v14h-14zM775 3142h14v14h-14zM761 3170h14v14h-14z"/><path fill="#e000ff" d="M831 3030h14v14h-14zM817 3072h14v14h-14zM803 3114h14v14h-14zM803 3128h14v14h-14zM789 3142h14v14h-14zM789 3156h14v14h-14z"/><path fill="#ff00e4" d="M971 3030h14v14h-14zM971 3044h14v14h-14zM971 3058h14v14h-14zM971 3072h14v14h-14zM971 3086h14v14h-14z"/><path fill="#0078ff" d="M579 3044h14v14h-14zM565 3058h14v14h-14zM551 3072h14v14h-14zM537 3086h14v14h-14zM523 3100h14v14h-14z"/><path fill="#0c44ff" d="M621 3044h14v14h-14z"/><path fill="#3c40ff" d="M635 3044h14v14h-14z"/><path fill="#5438ff" d="M649 3044h14v14h-14z"/><path fill="#6834ff" d="M663 3044h14v14h-14z"/><path fill="#782cff" d="M677 3044h14v14h-14z"/><path fill="#8424ff" d="M691 3044h14v14h-14z"/><path fill="#9014ff" d="M705 3044h14v14h-14z"/><path fill="#9c00ff" d="M719 3044h14v14h-14zM705 3072h14v14h-14zM677 3114h14v14h-14zM663 3142h14v14h-14zM635 3184h14v14h-14zM635 3198h14v14h-14z"/><path fill="#a400ff" d="M733 3044h14v14h-14zM705 3086h14v14h-14zM691 3114h14v14h-14zM663 3156h14v14h-14zM649 3184h14v14h-14zM649 3198h14v14h-14z"/><path fill="#b000ff" d="M747 3044h14v14h-14zM733 3072h14v14h-14zM719 3100h14v14h-14zM691 3142h14v14h-14zM677 3170h14v14h-14z"/><path fill="#b800ff" d="M761 3044h14v14h-14zM747 3072h14v14h-14zM719 3114h14v14h-14zM705 3142h14v14h-14zM691 3170h14v14h-14z"/><path fill="#006cff" d="M579 3058h14v14h-14zM565 3072h14v14h-14zM551 3086h14v14h-14zM537 3100h14v14h-14z"/><path fill="#005cff" d="M593 3058h14v14h-14zM579 3072h14v14h-14zM565 3086h14v14h-14z"/><path fill="#0044ff" d="M607 3058h14v14h-14z"/><path fill="#2c34ff" d="M621 3058h14v14h-14z"/><path fill="#4c30ff" d="M635 3058h14v14h-14z"/><path fill="#6028ff" d="M649 3058h14v14h-14z"/><path fill="#701cff" d="M663 3058h14v14h-14z"/><path fill="#7c0cff" d="M677 3058h14v14h-14z"/><path fill="#8800ff" d="M691 3058h14v14h-14zM663 3100h14v14h-14zM635 3142h14v14h-14zM607 3184h14v14h-14z"/><path fill="#9800ff" d="M705 3058h14v14h-14zM691 3086h14v14h-14zM663 3128h14v14h-14zM649 3156h14v14h-14zM635 3170h14v14h-14z"/><path fill="#a000ff" d="M719 3058h14v14h-14zM691 3100h14v14h-14zM677 3128h14v14h-14zM649 3170h14v14h-14z"/><path fill="#ac00ff" d="M733 3058h14v14h-14zM719 3086h14v14h-14zM705 3114h14v14h-14zM677 3156h14v14h-14zM663 3184h14v14h-14zM663 3198h14v14h-14z"/><path fill="#0048ff" d="M593 3072h14v14h-14z"/><path fill="#1028ff" d="M607 3072h14v14h-14z"/><path fill="#3c20ff" d="M621 3072h14v14h-14z"/><path fill="#5414ff" d="M635 3072h14v14h-14z"/><path fill="#6800ff" d="M649 3072h14v14h-14z"/><path fill="#7800ff" d="M663 3072h14v14h-14zM635 3114h14v14h-14zM593 3170h14v14h-14z"/><path fill="#8400ff" d="M677 3072h14v14h-14zM649 3114h14v14h-14zM621 3156h14v14h-14zM607 3170h14v14h-14z"/><path fill="#9000ff" d="M691 3072h14v14h-14zM663 3114h14v14h-14zM635 3156h14v14h-14z"/><path fill="#a800ff" d="M719 3072h14v14h-14zM705 3100h14v14h-14zM691 3128h14v14h-14zM677 3142h14v14h-14zM663 3170h14v14h-14z"/><path fill="#004cff" d="M579 3086h14v14h-14zM565 3100h14v14h-14z"/><path fill="#002cff" d="M593 3086h14v14h-14z"/><path fill="#2c0cff" d="M607 3086h14v14h-14z"/><path fill="#4c00ff" d="M621 3086h14v14h-14zM565 3156h14v14h-14z"/><path fill="#6000ff" d="M635 3086h14v14h-14zM593 3142h14v14h-14z"/><path fill="#7400ff" d="M649 3086h14v14h-14zM621 3128h14v14h-14z"/><path fill="#8000ff" d="M663 3086h14v14h-14zM635 3128h14v14h-14zM621 3142h14v14h-14z"/><path fill="#8c00ff" d="M677 3086h14v14h-14zM649 3128h14v14h-14zM621 3170h14v14h-14z"/><path fill="#0060ff" d="M551 3100h14v14h-14zM537 3114h14v14h-14z"/><path fill="#0034ff" d="M579 3100h14v14h-14z"/><path fill="#2000ff" d="M593 3100h14v14h-14z"/><path fill="#4800ff" d="M607 3100h14v14h-14z"/><path fill="#5c00ff" d="M621 3100h14v14h-14zM579 3156h14v14h-14z"/><path fill="#7000ff" d="M635 3100h14v14h-14zM607 3142h14v14h-14z"/><path fill="#7c00ff" d="M649 3100h14v14h-14zM607 3156h14v14h-14z"/><path fill="#9400ff" d="M677 3100h14v14h-14zM649 3142h14v14h-14zM621 3184h14v14h-14z"/><path fill="#bc00ff" d="M733 3100h14v14h-14zM733 3114h14v14h-14zM719 3128h14v14h-14zM719 3142h14v14h-14zM705 3156h14v14h-14zM705 3170h14v14h-14zM691 3184h14v14h-14z"/><path fill="#0050ff" d="M551 3114h14v14h-14zM537 3128h14v14h-14z"/><path fill="#0038ff" d="M565 3114h14v14h-14z"/><path fill="#1000ff" d="M579 3114h14v14h-14z"/><path fill="#4000ff" d="M593 3114h14v14h-14z"/><path fill="#5800ff" d="M607 3114h14v14h-14z"/><path fill="#6c00ff" d="M621 3114h14v14h-14zM593 3156h14v14h-14z"/><path fill="#003cff" d="M551 3128h14v14h-14z"/><path fill="#0004ff" d="M565 3128h14v14h-14z"/><path fill="#3c00ff" d="M579 3128h14v14h-14z"/><path fill="#5400ff" d="M593 3128h14v14h-14z"/><path fill="#6400ff" d="M607 3128h14v14h-14z"/><path fill="#0018ff" d="M551 3142h14v14h-14z"/><path fill="#3400ff" d="M565 3142h14v14h-14z"/><path fill="#5000ff" d="M579 3142h14v14h-14z"/></g><path d="M890 2050L1075 2150L1040 2215L1012 2330L975 2372L930 2345L905 2290L898 2180Z" fill="#00ff00" opacity="0.85" filter="url(#bl2)"/></g>
<path d="M654.4 3188 652.5 3188.4 649.7 3188.3 644.5 3185.9 608.9 3163.3 595.5 3154.1 583.1 3144.6 573.8 3136.4 564 3126.6 552.8 3114 541.7 3100.1 531.1 3085.7 519.6 3068.7 509.1 3051.6 497.8 3032 485.6 3009.7 472.5 2984.4 458.3 2955.9 445.9 2929.6 435.7 2906.8 425.4 2882.3 417.7 2862.8 410 2842.4 399.7 2813.6 389.5 2783.1 379.3 2750.8 369.1 2716.9 359 2681.4 349 2644.6 341.7 2616.1 332.4 2577.4 325.7 2547.8 319.3 2517.9 313.3 2487.8 307.7 2457.6 302.6 2427.3 297.8 2397.1 293.6 2367.1 289.9 2337.4 286.8 2308.1 284.2 2279.2 282.2 2250.9 280.8 2223 280.1 2195.8 280.1 2169.2 280.5 2151.8 281.6 2126.4 282.8 2109.9 285.2 2085.8 287.2 2070.3 290.9 2047.8 295.3 2026.4 300.5 2006.2 304.4 1993.3 308.7 1981 315.7 1963.7 320.8 1952.8 329 1937.7 334.9 1928.4 344.1 1915.7 354 1904.5 360.8 1897.9 367.9 1892 378.9 1884.3 390.4 1878.1 402.2 1873.3 414.3 1869.7 422.6 1868 430.9 1866.8 439.4 1866.1 447.9 1865.9 456.5 1866.1 465.2 1866.7 482.7 1869 504.9 1873.7 527.3 1879.8 554.2 1888.5 585.4 1900.1 616.1 1912.7 650.2 1927.7 683.4 1943.5 716 1960 752.3 1979.6 788.3 2000.1 824.2 2021.4 851.9 2038.5 879.5 2056 942.4 2097.2 1016.9 2148 1099.4 2205.7 1274.5 2330.8 1886 2772.9Z" fill="none" stroke="#0000ff" stroke-width="3.5" stroke-linejoin="round"/>
<path d="M427.3 1834.9L435.6 1866M803.7 1967.8L776.9 1992.3M1123.4 2176.3L1091.7 2199.7M1429.6 2396.4L1396.7 2418.3M1680.4 2578.6L1651 2600.4M1822.5 2681.7L1792.7 2702.8M246.2 2339.7L290.5 2336.3M431.4 2994L472.6 2982.9M556 3170.2L589.3 3147.1" stroke="#000" stroke-width="2" fill="none"/>
<g fill="#000"><circle cx="415.8" cy="1796.2" r="1.4"/><circle cx="839.4" cy="1936.8" r="1.4"/><circle cx="1162.5" cy="2148.7" r="1.4"/><circle cx="1469.8" cy="2369.1" r="1.4"/><circle cx="1720.3" cy="2550.4" r="1.4"/><circle cx="1861.6" cy="2652.8" r="1.4"/><circle cx="190.5" cy="2344.4" r="1.4"/><circle cx="377.4" cy="3009.5" r="1.4"/><circle cx="514" cy="3164.2" r="1.4"/></g>
<ellipse cx="934" cy="2101" rx="22.8" ry="25" fill="#008000"/>
<text transform="matrix(1.0135 0 0 0.984 358.4861 1819.866)" font-family="'DejaVu Sans Condensed','DejaVu Sans',sans-serif" font-size="65" fill="#0000ff" stroke="#0000ff" stroke-width="0.9">520</text>
<text transform="matrix(1.0135 0 0 0.984 782.0861 1960.366)" font-family="'DejaVu Sans Condensed','DejaVu Sans',sans-serif" font-size="65" fill="#0000ff" stroke="#0000ff" stroke-width="0.9">540</text>
<text transform="matrix(1.0135 0 0 0.984 1105.2361 2172.316)" font-family="'DejaVu Sans Condensed','DejaVu Sans',sans-serif" font-size="65" fill="#0000ff" stroke="#0000ff" stroke-width="0.9">560</text>
<text transform="matrix(1.0135 0 0 0.984 1412.5861 2392.666)" font-family="'DejaVu Sans Condensed','DejaVu Sans',sans-serif" font-size="65" fill="#0000ff" stroke="#0000ff" stroke-width="0.9">580</text>
<text transform="matrix(1.0135 0 0 0.984 1663.5429 2574.016)" font-family="'DejaVu Sans Condensed','DejaVu Sans',sans-serif" font-size="65" fill="#0000ff" stroke="#0000ff" stroke-width="0.9">600</text>
<text transform="matrix(1.0135 0 0 0.984 1804.7929 2676.416)" font-family="'DejaVu Sans Condensed','DejaVu Sans',sans-serif" font-size="65" fill="#0000ff" stroke="#0000ff" stroke-width="0.9">620</text>
<text transform="matrix(1.0135 0 0 0.984 133.2361 2368.016)" font-family="'DejaVu Sans Condensed','DejaVu Sans',sans-serif" font-size="65" fill="#0000ff" stroke="#0000ff" stroke-width="0.9">500</text>
<text transform="matrix(1.0135 0 0 0.984 321.1496 3033.116)" font-family="'DejaVu Sans Condensed','DejaVu Sans',sans-serif" font-size="65" fill="#0000ff" stroke="#0000ff" stroke-width="0.9">480</text>
<text transform="matrix(1.0135 0 0 0.984 457.7996 3187.866)" font-family="'DejaVu Sans Condensed','DejaVu Sans',sans-serif" font-size="65" fill="#0000ff" stroke="#0000ff" stroke-width="0.9">460</text>
<path d="M271.9 3196V3169.4M271.9 1760.8V1786.8M491.6 3196V3169.4M491.6 1760.8V1786.8M711.3 3196V3169.4M711.3 1760.8V1786.8M931 3196V3169.4M931 1760.8V1786.8M1150.7 3196V3169.4M1150.7 1760.8V1786.8M1370.4 3196V3169.4M1370.4 1760.8V1786.8M1590.1 3196V3169.4M1590.1 1760.8V1786.8M1809.8 3196V3169.4M1809.8 1760.8V1786.8M2029.5 3196V3169.4M2029.5 1760.8V1786.8M381.8 3196V3183.3M381.8 1760.8V1775.3M601.5 3196V3183.3M601.5 1760.8V1775.3M821.1 3196V3183.3M821.1 1760.8V1775.3M1040.8 3196V3183.3M1040.8 1760.8V1775.3M1260.5 3196V3183.3M1260.5 1760.8V1775.3M1480.2 3196V3183.3M1480.2 1760.8V1775.3M1699.9 3196V3183.3M1699.9 1760.8V1775.3M1919.6 3196V3183.3M1919.6 1760.8V1775.3M271.9 3196H298.2M2029.5 3196H2003.3M271.9 3036.5H298.2M2029.5 3036.5H2003.3M271.9 2877.1H298.2M2029.5 2877.1H2003.3M271.9 2717.6H298.2M2029.5 2717.6H2003.3M271.9 2558.1H298.2M2029.5 2558.1H2003.3M271.9 2398.7H298.2M2029.5 2398.7H2003.3M271.9 2239.2H298.2M2029.5 2239.2H2003.3M271.9 2079.7H298.2M2029.5 2079.7H2003.3M271.9 1920.3H298.2M2029.5 1920.3H2003.3M271.9 1760.8H298.2M2029.5 1760.8H2003.3M271.9 3116.3H285M2029.5 3116.3H2016.6M271.9 2956.8H285M2029.5 2956.8H2016.6M271.9 2797.3H285M2029.5 2797.3H2016.6M271.9 2637.9H285M2029.5 2637.9H2016.6M271.9 2478.4H285M2029.5 2478.4H2016.6M271.9 2318.9H285M2029.5 2318.9H2016.6M271.9 2159.5H285M2029.5 2159.5H2016.6M271.9 2000H285M2029.5 2000H2016.6M271.9 1840.5H285M2029.5 1840.5H2016.6" stroke="#000" stroke-width="5.5" stroke-linecap="round" fill="none"/>
<rect x="271.9" y="1760.8" width="1757.6" height="1435.2" fill="none" stroke="#000" stroke-width="5.5" stroke-linejoin="round"/>
<text transform="matrix(0.965 0 0 1 198.295 1514.4)" font-family="'Liberation Serif','Times New Roman',serif" font-size="80">0</text>
<text transform="matrix(0.965 0 0 1 159.695 1370.88)" font-family="'Liberation Serif','Times New Roman',serif" font-size="80">10</text>
<text transform="matrix(0.965 0 0 1 159.695 1227.36)" font-family="'Liberation Serif','Times New Roman',serif" font-size="80">20</text>
<text transform="matrix(0.965 0 0 1 159.695 1083.84)" font-family="'Liberation Serif','Times New Roman',serif" font-size="80">30</text>
<text transform="matrix(0.965 0 0 1 159.695 940.32)" font-family="'Liberation Serif','Times New Roman',serif" font-size="80">40</text>
<text transform="matrix(0.965 0 0 1 159.695 796.8)" font-family="'Liberation Serif','Times New Roman',serif" font-size="80">50</text>
<text transform="matrix(0.965 0 0 1 159.695 653.28)" font-family="'Liberation Serif','Times New Roman',serif" font-size="80">60</text>
<text transform="matrix(0.965 0 0 1 159.695 509.76)" font-family="'Liberation Serif','Times New Roman',serif" font-size="80">70</text>
<text transform="matrix(0.965 0 0 1 159.695 366.24)" font-family="'Liberation Serif','Times New Roman',serif" font-size="80">80</text>
<text transform="matrix(0.965 0 0 1 159.695 222.72)" font-family="'Liberation Serif','Times New Roman',serif" font-size="80">90</text>
<text transform="matrix(0.965 0 0 1 121.095 79.2)" font-family="'Liberation Serif','Times New Roman',serif" font-size="80">100</text>
<text transform="matrix(0.985 0 0 1 343.8771 1584.85)" font-family="'Liberation Serif','Times New Roman',serif" font-size="80">400</text>
<text transform="matrix(0.985 0 0 1 611.9688 1584.85)" font-family="'Liberation Serif','Times New Roman',serif" font-size="80">500</text>
<text transform="matrix(0.985 0 0 1 882.5231 1584.85)" font-family="'Liberation Serif','Times New Roman',serif" font-size="80">600</text>
<text transform="matrix(0.985 0 0 1 1151.1073 1584.85)" font-family="'Liberation Serif','Times New Roman',serif" font-size="80">700</text>
<text transform="matrix(0.985 0 0 1 1421.6615 1584.85)" font-family="'Liberation Serif','Times New Roman',serif" font-size="80">800</text>
<text transform="matrix(0.985 0 0 1 1691.2308 1584.85)" font-family="'Liberation Serif','Times New Roman',serif" font-size="80">900</text>
<text transform="matrix(0.985 0 0 1 1939.13 1584.85)" font-family="'Liberation Serif','Times New Roman',serif" font-size="80">1000</text>
<text transform="matrix(1.015 0 0 1.015 412.9551 221.6)" font-family="'Liberation Serif','Times New Roman',serif" font-size="98">NiO nanoparticles</text>
<text transform="matrix(0.9973 0 0 0.9888 396.9027 1675.6804)" font-family="'Liberation Serif','Times New Roman',serif" font-size="118">Annealing</text>
<text transform="matrix(1.0126 0 0 1.001 918.8748 1675.2757)" font-family="'Liberation Serif','Times New Roman',serif" font-size="118">Temperature</text>
<text transform="matrix(0.9618 0 0 1.0103 1549.5765 1675.7)" font-family="'Liberation Serif','Times New Roman',serif" font-size="118">T</text>
<text transform="matrix(0.998 0 0 1.0109 1619.602 1720.9)" font-family="'Liberation Serif','Times New Roman',serif" font-size="70">A</text>
<text transform="matrix(0.9907 0 0 0.9832 1687.7464 1675.5206)" font-family="'Liberation Serif','Times New Roman',serif" font-size="118">(°C)</text>
<text transform="matrix(0 -1.0091 1.0179 0 127.5519 1219.1362)" font-family="'Liberation Serif','Times New Roman',serif" font-size="117">Integrated area (%)</text>
<text transform="matrix(0.9817 0 0 1.05 1736.7183 133.7)" font-family="'Liberation Serif','Times New Roman',serif" font-size="58">UV</text>
<text transform="matrix(1.013 0 0 0.9975 1736.687 204.3)" font-family="'Liberation Serif','Times New Roman',serif" font-size="58">Violet-I</text>
<text transform="matrix(0.9993 0 0 1.04 1736.7007 276)" font-family="'Liberation Serif','Times New Roman',serif" font-size="58">Violet-Blue</text>
<text transform="matrix(0.9935 0 0 1.0711 1735.7129 347)" font-family="'Liberation Serif','Times New Roman',serif" font-size="58">Green</text>
<text transform="matrix(1.0116 0 0 1.0049 1736.6884 416.4951)" font-family="'Liberation Serif','Times New Roman',serif" font-size="58">Yellow</text>
<text transform="matrix(1.0029 0 0 0.9867 1855.9883 1456.98)" font-family="'Liberation Serif','Times New Roman',serif" font-size="100">(a)</text>
<text transform="matrix(1.029 0 0 0.98 149.119 3211.42)" font-family="'DejaVu Sans Condensed','DejaVu Sans',sans-serif" font-size="65" stroke="#000" stroke-width="0.9">0.0</text>
<text transform="matrix(1.029 0 0 0.98 150.148 3051.9533)" font-family="'DejaVu Sans Condensed','DejaVu Sans',sans-serif" font-size="65" stroke="#000" stroke-width="0.9">0.1</text>
<text transform="matrix(1.029 0 0 0.98 151.177 2892.4867)" font-family="'DejaVu Sans Condensed','DejaVu Sans',sans-serif" font-size="65" stroke="#000" stroke-width="0.9">0.2</text>
<text transform="matrix(1.029 0 0 0.98 150.148 2733.02)" font-family="'DejaVu Sans Condensed','DejaVu Sans',sans-serif" font-size="65" stroke="#000" stroke-width="0.9">0.3</text>
<text transform="matrix(1.029 0 0 0.98 148.09 2573.5533)" font-family="'DejaVu Sans Condensed','DejaVu Sans',sans-serif" font-size="65" stroke="#000" stroke-width="0.9">0.4</text>
<text transform="matrix(1.029 0 0 0.98 150.148 2414.0867)" font-family="'DejaVu Sans Condensed','DejaVu Sans',sans-serif" font-size="65" stroke="#000" stroke-width="0.9">0.5</text>
<text transform="matrix(1.029 0 0 0.98 149.119 2254.62)" font-family="'DejaVu Sans Condensed','DejaVu Sans',sans-serif" font-size="65" stroke="#000" stroke-width="0.9">0.6</text>
<text transform="matrix(1.029 0 0 0.98 150.148 2095.1533)" font-family="'DejaVu Sans Condensed','DejaVu Sans',sans-serif" font-size="65" stroke="#000" stroke-width="0.9">0.7</text>
<text transform="matrix(1.029 0 0 0.98 149.119 1935.6867)" font-family="'DejaVu Sans Condensed','DejaVu Sans',sans-serif" font-size="65" stroke="#000" stroke-width="0.9">0.8</text>
<text transform="matrix(1.029 0 0 0.98 149.119 1776.22)" font-family="'DejaVu Sans Condensed','DejaVu Sans',sans-serif" font-size="65" stroke="#000" stroke-width="0.9">0.9</text>
<text transform="matrix(1.0199 0 0 0.976 224.4737 3279.124)" font-family="'DejaVu Sans Condensed','DejaVu Sans',sans-serif" font-size="65" stroke="#000" stroke-width="0.9">0.0</text>
<text transform="matrix(1.0199 0 0 0.976 444.6837 3279.124)" font-family="'DejaVu Sans Condensed','DejaVu Sans',sans-serif" font-size="65" stroke="#000" stroke-width="0.9">0.1</text>
<text transform="matrix(1.0199 0 0 0.976 664.8936 3279.124)" font-family="'DejaVu Sans Condensed','DejaVu Sans',sans-serif" font-size="65" stroke="#000" stroke-width="0.9">0.2</text>
<text transform="matrix(1.0199 0 0 0.976 884.0837 3279.124)" font-family="'DejaVu Sans Condensed','DejaVu Sans',sans-serif" font-size="65" stroke="#000" stroke-width="0.9">0.3</text>
<text transform="matrix(1.0199 0 0 0.976 1102.7638 3279.124)" font-family="'DejaVu Sans Condensed','DejaVu Sans',sans-serif" font-size="65" stroke="#000" stroke-width="0.9">0.4</text>
<text transform="matrix(1.0199 0 0 0.976 1323.4837 3279.124)" font-family="'DejaVu Sans Condensed','DejaVu Sans',sans-serif" font-size="65" stroke="#000" stroke-width="0.9">0.5</text>
<text transform="matrix(1.0199 0 0 0.976 1542.6737 3279.124)" font-family="'DejaVu Sans Condensed','DejaVu Sans',sans-serif" font-size="65" stroke="#000" stroke-width="0.9">0.6</text>
<text transform="matrix(1.0199 0 0 0.976 1762.8837 3279.124)" font-family="'DejaVu Sans Condensed','DejaVu Sans',sans-serif" font-size="65" stroke="#000" stroke-width="0.9">0.7</text>
<text transform="matrix(1.0199 0 0 0.976 1982.0737 3279.124)" font-family="'DejaVu Sans Condensed','DejaVu Sans',sans-serif" font-size="65" stroke="#000" stroke-width="0.9">0.8</text>
<text transform="matrix(1.0154 0 0 1.0122 1123.4846 3396.8)" font-family="'Liberation Serif','Times New Roman',serif" font-size="109">x</text>
<text transform="matrix(0 -0.9887 1.0014 0 71.5685 2584.3887)" font-family="'Liberation Serif','Times New Roman',serif" font-size="108">y</text>
<text transform="matrix(1.0185 0 0 0.9978 1838.8259 1895.9467)" font-family="'Liberation Serif','Times New Roman',serif" font-size="100">(b)</text>
<text transform="matrix(0.997 0 0 1.0099 1527.4121 3133.9901)" font-family="'Liberation Serif','Times New Roman',serif" font-size="120" font-weight="bold" font-style="italic">CIE 1931</text>
</svg></body></html>
